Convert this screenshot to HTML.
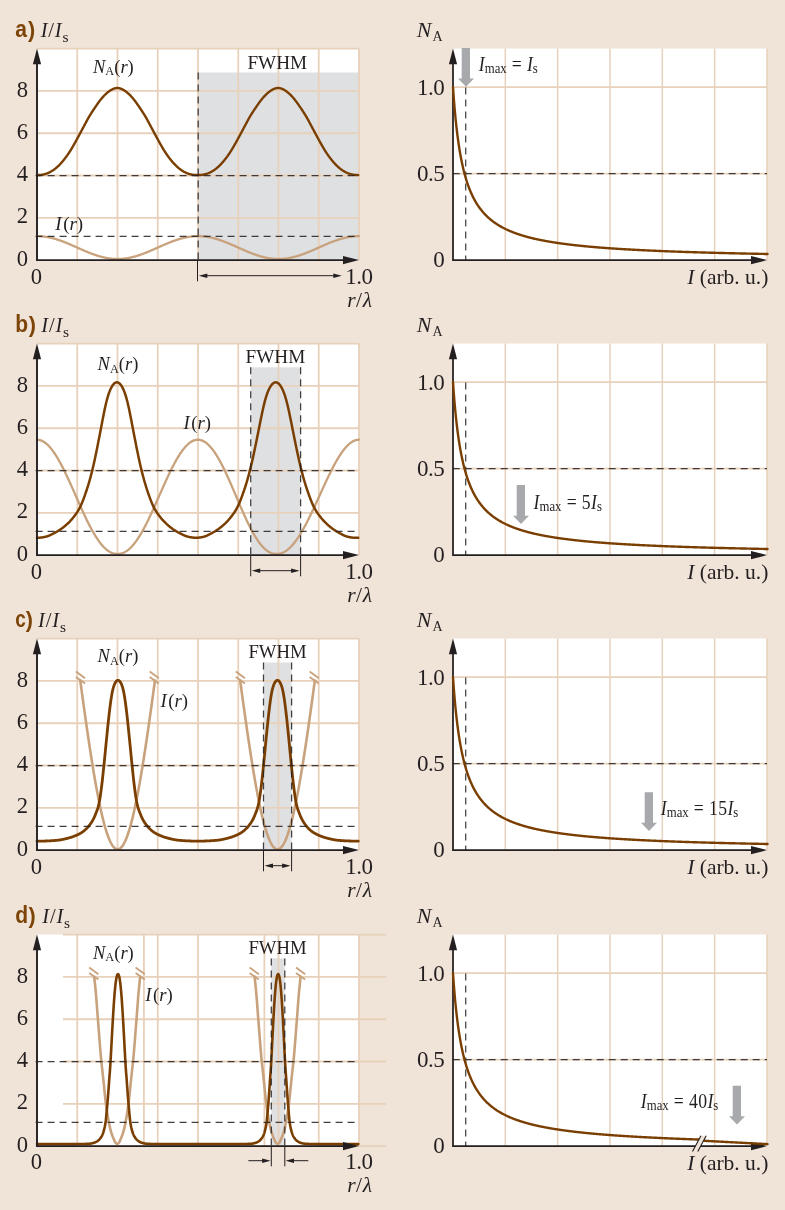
<!DOCTYPE html>
<html lang="en"><head><meta charset="utf-8"><title>Figure</title>
<style>html,body{margin:0;padding:0;background:#f0e3d7}svg{display:block}</style></head>
<body>
<svg width="785" height="1210" viewBox="0 0 785 1210" font-family="'Liberation Serif', serif" fill="#231f20">
<rect width="785" height="1210" fill="#f0e3d7"/>
<g>
<rect x="37" y="48.55" width="322" height="211.55" fill="#fff"/>
<rect x="198.2" y="72.5" width="160.8" height="187.6" fill="#dfe0e2"/>
<path d="M77.25 48.55V260.1M117.5 48.55V260.1M157.75 48.55V260.1M198 48.55V260.1M238.25 48.55V260.1M278.5 48.55V260.1M318.75 48.55V260.1M359 48.55V260.1M37 217.81H359M37 175.52H359M37 133.23H359M37 90.94H359M37 48.55H359" stroke="#e8d1ba" stroke-width="1.8" fill="none"/>
<path d="M37 236.16 L37.5 236.17 L38 236.17 L38.5 236.18 L39 236.2 L39.5 236.22 L40 236.24 L40.5 236.27 L41 236.3 L41.5 236.34 L42 236.38 L42.5 236.43 L43 236.47 L43.5 236.53 L44 236.59 L44.5 236.65 L45 236.72 L45.5 236.79 L46 236.86 L46.5 236.94 L47 237.02 L47.5 237.11 L48 237.2 L48.5 237.29 L49 237.39 L49.5 237.5 L50 237.6 L50.5 237.71 L51 237.83 L51.5 237.94 L52 238.06 L52.5 238.19 L53 238.32 L53.5 238.45 L54 238.59 L54.5 238.72 L55 238.87 L55.5 239.01 L56 239.16 L56.5 239.31 L57 239.47 L57.5 239.63 L58 239.79 L58.5 239.95 L59 240.12 L59.5 240.29 L60 240.46 L60.5 240.64 L61 240.82 L61.5 241 L62 241.18 L62.5 241.37 L63 241.55 L63.5 241.74 L64 241.94 L64.5 242.13 L65 242.33 L65.5 242.53 L66 242.73 L66.5 242.93 L67 243.14 L67.5 243.34 L68 243.55 L68.5 243.76 L69 243.97 L69.5 244.18 L70 244.39 L70.5 244.61 L71 244.82 L71.5 245.04 L72 245.26 L72.5 245.48 L73 245.7 L73.5 245.92 L74 246.14 L74.5 246.36 L75 246.58 L75.5 246.8 L76 247.02 L76.5 247.25 L77 247.47 L77.5 247.69 L78 247.92 L78.5 248.14 L79 248.36 L79.5 248.58 L80 248.8 L80.5 249.03 L81 249.25 L81.5 249.47 L82 249.69 L82.5 249.9 L83 250.12 L83.5 250.34 L84 250.55 L84.5 250.77 L85 250.98 L85.5 251.19 L86 251.41 L86.5 251.61 L87 251.82 L87.5 252.03 L88 252.23 L88.5 252.44 L89 252.64 L89.5 252.83 L90 253.03 L90.5 253.23 L91 253.42 L91.5 253.61 L92 253.8 L92.5 253.98 L93 254.17 L93.5 254.35 L94 254.53 L94.5 254.7 L95 254.87 L95.5 255.04 L96 255.21 L96.5 255.38 L97 255.54 L97.5 255.69 L98 255.85 L98.5 256 L99 256.15 L99.5 256.3 L100 256.44 L100.5 256.58 L101 256.71 L101.5 256.85 L102 256.97 L102.5 257.1 L103 257.22 L103.5 257.34 L104 257.45 L104.5 257.56 L105 257.67 L105.5 257.77 L106 257.87 L106.5 257.96 L107 258.05 L107.5 258.14 L108 258.22 L108.5 258.3 L109 258.38 L109.5 258.45 L110 258.51 L110.5 258.58 L111 258.63 L111.5 258.69 L112 258.74 L112.5 258.78 L113 258.82 L113.5 258.86 L114 258.89 L114.5 258.92 L115 258.95 L115.5 258.97 L116 258.98 L116.5 258.99 L117 259 L117.5 259 L118 259 L118.5 258.99 L119 258.98 L119.5 258.97 L120 258.95 L120.5 258.92 L121 258.89 L121.5 258.86 L122 258.82 L122.5 258.78 L123 258.74 L123.5 258.69 L124 258.63 L124.5 258.58 L125 258.51 L125.5 258.45 L126 258.38 L126.5 258.3 L127 258.22 L127.5 258.14 L128 258.05 L128.5 257.96 L129 257.87 L129.5 257.77 L130 257.67 L130.5 257.56 L131 257.45 L131.5 257.34 L132 257.22 L132.5 257.1 L133 256.97 L133.5 256.85 L134 256.71 L134.5 256.58 L135 256.44 L135.5 256.3 L136 256.15 L136.5 256 L137 255.85 L137.5 255.69 L138 255.54 L138.5 255.38 L139 255.21 L139.5 255.04 L140 254.87 L140.5 254.7 L141 254.53 L141.5 254.35 L142 254.17 L142.5 253.98 L143 253.8 L143.5 253.61 L144 253.42 L144.5 253.23 L145 253.03 L145.5 252.83 L146 252.64 L146.5 252.44 L147 252.23 L147.5 252.03 L148 251.82 L148.5 251.61 L149 251.41 L149.5 251.19 L150 250.98 L150.5 250.77 L151 250.55 L151.5 250.34 L152 250.12 L152.5 249.9 L153 249.69 L153.5 249.47 L154 249.25 L154.5 249.03 L155 248.8 L155.5 248.58 L156 248.36 L156.5 248.14 L157 247.92 L157.5 247.69 L158 247.47 L158.5 247.25 L159 247.02 L159.5 246.8 L160 246.58 L160.5 246.36 L161 246.14 L161.5 245.92 L162 245.7 L162.5 245.48 L163 245.26 L163.5 245.04 L164 244.82 L164.5 244.61 L165 244.39 L165.5 244.18 L166 243.97 L166.5 243.76 L167 243.55 L167.5 243.34 L168 243.14 L168.5 242.93 L169 242.73 L169.5 242.53 L170 242.33 L170.5 242.13 L171 241.94 L171.5 241.74 L172 241.55 L172.5 241.37 L173 241.18 L173.5 241 L174 240.82 L174.5 240.64 L175 240.46 L175.5 240.29 L176 240.12 L176.5 239.95 L177 239.79 L177.5 239.63 L178 239.47 L178.5 239.31 L179 239.16 L179.5 239.01 L180 238.87 L180.5 238.72 L181 238.59 L181.5 238.45 L182 238.32 L182.5 238.19 L183 238.06 L183.5 237.94 L184 237.83 L184.5 237.71 L185 237.6 L185.5 237.5 L186 237.39 L186.5 237.29 L187 237.2 L187.5 237.11 L188 237.02 L188.5 236.94 L189 236.86 L189.5 236.79 L190 236.72 L190.5 236.65 L191 236.59 L191.5 236.53 L192 236.47 L192.5 236.43 L193 236.38 L193.5 236.34 L194 236.3 L194.5 236.27 L195 236.24 L195.5 236.22 L196 236.2 L196.5 236.18 L197 236.17 L197.5 236.17 L198 236.16 L198.5 236.17 L199 236.17 L199.5 236.18 L200 236.2 L200.5 236.22 L201 236.24 L201.5 236.27 L202 236.3 L202.5 236.34 L203 236.38 L203.5 236.43 L204 236.47 L204.5 236.53 L205 236.59 L205.5 236.65 L206 236.72 L206.5 236.79 L207 236.86 L207.5 236.94 L208 237.02 L208.5 237.11 L209 237.2 L209.5 237.29 L210 237.39 L210.5 237.5 L211 237.6 L211.5 237.71 L212 237.83 L212.5 237.94 L213 238.06 L213.5 238.19 L214 238.32 L214.5 238.45 L215 238.59 L215.5 238.72 L216 238.87 L216.5 239.01 L217 239.16 L217.5 239.31 L218 239.47 L218.5 239.63 L219 239.79 L219.5 239.95 L220 240.12 L220.5 240.29 L221 240.46 L221.5 240.64 L222 240.82 L222.5 241 L223 241.18 L223.5 241.37 L224 241.55 L224.5 241.74 L225 241.94 L225.5 242.13 L226 242.33 L226.5 242.53 L227 242.73 L227.5 242.93 L228 243.14 L228.5 243.34 L229 243.55 L229.5 243.76 L230 243.97 L230.5 244.18 L231 244.39 L231.5 244.61 L232 244.82 L232.5 245.04 L233 245.26 L233.5 245.48 L234 245.7 L234.5 245.92 L235 246.14 L235.5 246.36 L236 246.58 L236.5 246.8 L237 247.02 L237.5 247.25 L238 247.47 L238.5 247.69 L239 247.92 L239.5 248.14 L240 248.36 L240.5 248.58 L241 248.8 L241.5 249.03 L242 249.25 L242.5 249.47 L243 249.69 L243.5 249.9 L244 250.12 L244.5 250.34 L245 250.55 L245.5 250.77 L246 250.98 L246.5 251.19 L247 251.41 L247.5 251.61 L248 251.82 L248.5 252.03 L249 252.23 L249.5 252.44 L250 252.64 L250.5 252.83 L251 253.03 L251.5 253.23 L252 253.42 L252.5 253.61 L253 253.8 L253.5 253.98 L254 254.17 L254.5 254.35 L255 254.53 L255.5 254.7 L256 254.87 L256.5 255.04 L257 255.21 L257.5 255.38 L258 255.54 L258.5 255.69 L259 255.85 L259.5 256 L260 256.15 L260.5 256.3 L261 256.44 L261.5 256.58 L262 256.71 L262.5 256.85 L263 256.97 L263.5 257.1 L264 257.22 L264.5 257.34 L265 257.45 L265.5 257.56 L266 257.67 L266.5 257.77 L267 257.87 L267.5 257.96 L268 258.05 L268.5 258.14 L269 258.22 L269.5 258.3 L270 258.38 L270.5 258.45 L271 258.51 L271.5 258.58 L272 258.63 L272.5 258.69 L273 258.74 L273.5 258.78 L274 258.82 L274.5 258.86 L275 258.89 L275.5 258.92 L276 258.95 L276.5 258.97 L277 258.98 L277.5 258.99 L278 259 L278.5 259 L279 259 L279.5 258.99 L280 258.98 L280.5 258.97 L281 258.95 L281.5 258.92 L282 258.89 L282.5 258.86 L283 258.82 L283.5 258.78 L284 258.74 L284.5 258.69 L285 258.63 L285.5 258.58 L286 258.51 L286.5 258.45 L287 258.38 L287.5 258.3 L288 258.22 L288.5 258.14 L289 258.05 L289.5 257.96 L290 257.87 L290.5 257.77 L291 257.67 L291.5 257.56 L292 257.45 L292.5 257.34 L293 257.22 L293.5 257.1 L294 256.97 L294.5 256.85 L295 256.71 L295.5 256.58 L296 256.44 L296.5 256.3 L297 256.15 L297.5 256 L298 255.85 L298.5 255.69 L299 255.54 L299.5 255.38 L300 255.21 L300.5 255.04 L301 254.87 L301.5 254.7 L302 254.53 L302.5 254.35 L303 254.17 L303.5 253.98 L304 253.8 L304.5 253.61 L305 253.42 L305.5 253.23 L306 253.03 L306.5 252.83 L307 252.64 L307.5 252.44 L308 252.23 L308.5 252.03 L309 251.82 L309.5 251.61 L310 251.41 L310.5 251.19 L311 250.98 L311.5 250.77 L312 250.55 L312.5 250.34 L313 250.12 L313.5 249.9 L314 249.69 L314.5 249.47 L315 249.25 L315.5 249.03 L316 248.8 L316.5 248.58 L317 248.36 L317.5 248.14 L318 247.92 L318.5 247.69 L319 247.47 L319.5 247.25 L320 247.02 L320.5 246.8 L321 246.58 L321.5 246.36 L322 246.14 L322.5 245.92 L323 245.7 L323.5 245.48 L324 245.26 L324.5 245.04 L325 244.82 L325.5 244.61 L326 244.39 L326.5 244.18 L327 243.97 L327.5 243.76 L328 243.55 L328.5 243.34 L329 243.14 L329.5 242.93 L330 242.73 L330.5 242.53 L331 242.33 L331.5 242.13 L332 241.94 L332.5 241.74 L333 241.55 L333.5 241.37 L334 241.18 L334.5 241 L335 240.82 L335.5 240.64 L336 240.46 L336.5 240.29 L337 240.12 L337.5 239.95 L338 239.79 L338.5 239.63 L339 239.47 L339.5 239.31 L340 239.16 L340.5 239.01 L341 238.87 L341.5 238.72 L342 238.59 L342.5 238.45 L343 238.32 L343.5 238.19 L344 238.06 L344.5 237.94 L345 237.83 L345.5 237.71 L346 237.6 L346.5 237.5 L347 237.39 L347.5 237.29 L348 237.2 L348.5 237.11 L349 237.02 L349.5 236.94 L350 236.86 L350.5 236.79 L351 236.72 L351.5 236.65 L352 236.59 L352.5 236.53 L353 236.47 L353.5 236.43 L354 236.38 L354.5 236.34 L355 236.3 L355.5 236.27 L356 236.24 L356.5 236.22 L357 236.2 L357.5 236.18 L358 236.17 L358.5 236.17 L359 236.16" stroke="#c8a27c" stroke-width="2.3" fill="none" stroke-linecap="round"/>
<path d="M37 175.08 L37.25 175.08 L37.5 175.07 L37.75 175.07 L38 175.06 L38.25 175.05 L38.5 175.04 L38.75 175.03 L39 175.02 L39.25 175.01 L39.5 174.99 L39.75 174.97 L40 174.95 L40.25 174.93 L40.5 174.91 L40.75 174.88 L41 174.85 L41.25 174.82 L41.5 174.79 L41.75 174.76 L42 174.72 L42.25 174.68 L42.5 174.64 L42.75 174.6 L43 174.55 L43.25 174.5 L43.5 174.45 L43.75 174.39 L44 174.34 L44.25 174.28 L44.5 174.21 L44.75 174.15 L45 174.08 L45.25 174.01 L45.5 173.93 L45.75 173.86 L46 173.78 L46.25 173.69 L46.5 173.6 L46.75 173.51 L47 173.42 L47.25 173.32 L47.5 173.22 L47.75 173.12 L48 173.01 L48.25 172.9 L48.5 172.79 L48.75 172.68 L49 172.56 L49.25 172.44 L49.5 172.32 L49.75 172.19 L50 172.06 L50.25 171.93 L50.5 171.8 L50.75 171.66 L51 171.52 L51.25 171.38 L51.5 171.23 L51.75 171.08 L52 170.93 L52.25 170.77 L52.5 170.62 L52.75 170.45 L53 170.29 L53.25 170.12 L53.5 169.95 L53.75 169.77 L54 169.59 L54.25 169.41 L54.5 169.23 L54.75 169.04 L55 168.84 L55.25 168.65 L55.5 168.45 L55.75 168.25 L56 168.04 L56.25 167.83 L56.5 167.61 L56.75 167.4 L57 167.17 L57.25 166.95 L57.5 166.72 L57.75 166.49 L58 166.26 L58.25 166.02 L58.5 165.78 L58.75 165.54 L59 165.29 L59.25 165.04 L59.5 164.79 L59.75 164.53 L60 164.27 L60.25 164.01 L60.5 163.74 L60.75 163.47 L61 163.2 L61.25 162.92 L61.5 162.64 L61.75 162.36 L62 162.08 L62.25 161.79 L62.5 161.5 L62.75 161.2 L63 160.9 L63.25 160.6 L63.5 160.3 L63.75 159.99 L64 159.68 L64.25 159.36 L64.5 159.05 L64.75 158.73 L65 158.4 L65.25 158.08 L65.5 157.75 L65.75 157.41 L66 157.08 L66.25 156.74 L66.5 156.4 L66.75 156.05 L67 155.7 L67.25 155.35 L67.5 155 L67.75 154.64 L68 154.28 L68.25 153.91 L68.5 153.54 L68.75 153.16 L69 152.78 L69.25 152.4 L69.5 152.01 L69.75 151.62 L70 151.23 L70.25 150.83 L70.5 150.43 L70.75 150.02 L71 149.61 L71.25 149.2 L71.5 148.78 L71.75 148.37 L72 147.94 L72.25 147.52 L72.5 147.09 L72.75 146.66 L73 146.23 L73.25 145.8 L73.5 145.36 L73.75 144.92 L74 144.48 L74.25 144.04 L74.5 143.59 L74.75 143.15 L75 142.7 L75.25 142.25 L75.5 141.8 L75.75 141.34 L76 140.89 L76.25 140.44 L76.5 139.98 L76.75 139.53 L77 139.07 L77.25 138.61 L77.5 138.15 L77.75 137.7 L78 137.24 L78.25 136.78 L78.5 136.32 L78.75 135.86 L79 135.4 L79.25 134.94 L79.5 134.48 L79.75 134.01 L80 133.55 L80.25 133.08 L80.5 132.62 L80.75 132.15 L81 131.68 L81.25 131.21 L81.5 130.75 L81.75 130.28 L82 129.81 L82.25 129.34 L82.5 128.86 L82.75 128.39 L83 127.92 L83.25 127.45 L83.5 126.98 L83.75 126.51 L84 126.04 L84.25 125.57 L84.5 125.1 L84.75 124.63 L85 124.16 L85.25 123.69 L85.5 123.22 L85.75 122.75 L86 122.29 L86.25 121.82 L86.5 121.36 L86.75 120.89 L87 120.43 L87.25 119.97 L87.5 119.51 L87.75 119.06 L88 118.61 L88.25 118.17 L88.5 117.73 L88.75 117.3 L89 116.87 L89.25 116.44 L89.5 116.02 L89.75 115.61 L90 115.2 L90.25 114.79 L90.5 114.38 L90.75 113.98 L91 113.58 L91.25 113.19 L91.5 112.8 L91.75 112.41 L92 112.02 L92.25 111.64 L92.5 111.25 L92.75 110.87 L93 110.5 L93.25 110.12 L93.5 109.75 L93.75 109.38 L94 109 L94.25 108.64 L94.5 108.27 L94.75 107.9 L95 107.53 L95.25 107.17 L95.5 106.8 L95.75 106.44 L96 106.07 L96.25 105.71 L96.5 105.34 L96.75 104.98 L97 104.61 L97.25 104.25 L97.5 103.89 L97.75 103.53 L98 103.17 L98.25 102.82 L98.5 102.48 L98.75 102.13 L99 101.79 L99.25 101.45 L99.5 101.12 L99.75 100.79 L100 100.47 L100.25 100.14 L100.5 99.82 L100.75 99.51 L101 99.2 L101.25 98.89 L101.5 98.59 L101.75 98.29 L102 97.99 L102.25 97.7 L102.5 97.41 L102.75 97.13 L103 96.85 L103.25 96.58 L103.5 96.31 L103.75 96.04 L104 95.78 L104.25 95.52 L104.5 95.26 L104.75 95.01 L105 94.76 L105.25 94.52 L105.5 94.29 L105.75 94.05 L106 93.82 L106.25 93.6 L106.5 93.38 L106.75 93.16 L107 92.95 L107.25 92.74 L107.5 92.53 L107.75 92.33 L108 92.13 L108.25 91.93 L108.5 91.74 L108.75 91.55 L109 91.37 L109.25 91.19 L109.5 91.01 L109.75 90.84 L110 90.67 L110.25 90.5 L110.5 90.34 L110.75 90.18 L111 90.03 L111.25 89.89 L111.5 89.74 L111.75 89.61 L112 89.47 L112.25 89.35 L112.5 89.22 L112.75 89.11 L113 89 L113.25 88.89 L113.5 88.79 L113.75 88.69 L114 88.61 L114.25 88.52 L114.5 88.45 L114.75 88.37 L115 88.31 L115.25 88.25 L115.5 88.2 L115.75 88.15 L116 88.11 L116.25 88.08 L116.5 88.06 L116.75 88.04 L117 88.02 L117.25 88.02 L117.5 88.02 L117.75 88.03 L118 88.05 L118.25 88.07 L118.5 88.1 L118.75 88.14 L119 88.18 L119.25 88.23 L119.5 88.29 L119.75 88.35 L120 88.42 L120.25 88.49 L120.5 88.57 L120.75 88.66 L121 88.75 L121.25 88.85 L121.5 88.95 L121.75 89.06 L122 89.18 L122.25 89.3 L122.5 89.42 L122.75 89.55 L123 89.69 L123.25 89.83 L123.5 89.97 L123.75 90.12 L124 90.28 L124.25 90.44 L124.5 90.6 L124.75 90.77 L125 90.94 L125.25 91.11 L125.5 91.29 L125.75 91.48 L126 91.67 L126.25 91.86 L126.5 92.05 L126.75 92.25 L127 92.45 L127.25 92.66 L127.5 92.86 L127.75 93.08 L128 93.29 L128.25 93.51 L128.5 93.73 L128.75 93.96 L129 94.19 L129.25 94.43 L129.5 94.67 L129.75 94.91 L130 95.16 L130.25 95.41 L130.5 95.67 L130.75 95.93 L131 96.2 L131.25 96.47 L131.5 96.74 L131.75 97.02 L132 97.3 L132.25 97.59 L132.5 97.88 L132.75 98.17 L133 98.47 L133.25 98.77 L133.5 99.08 L133.75 99.39 L134 99.7 L134.25 100.02 L134.5 100.34 L134.75 100.66 L135 100.99 L135.25 101.32 L135.5 101.66 L135.75 102 L136 102.34 L136.25 102.68 L136.5 103.03 L136.75 103.39 L137 103.74 L137.25 104.1 L137.5 104.47 L137.75 104.83 L138 105.2 L138.25 105.56 L138.5 105.93 L138.75 106.29 L139 106.66 L139.25 107.02 L139.5 107.39 L139.75 107.75 L140 108.12 L140.25 108.49 L140.5 108.86 L140.75 109.23 L141 109.6 L141.25 109.97 L141.5 110.35 L141.75 110.72 L142 111.1 L142.25 111.48 L142.5 111.87 L142.75 112.25 L143 112.64 L143.25 113.03 L143.5 113.42 L143.75 113.82 L144 114.22 L144.25 114.63 L144.5 115.03 L144.75 115.44 L145 115.86 L145.25 116.28 L145.5 116.7 L145.75 117.13 L146 117.56 L146.25 117.99 L146.5 118.43 L146.75 118.88 L147 119.33 L147.25 119.78 L147.5 120.24 L147.75 120.71 L148 121.17 L148.25 121.64 L148.5 122.1 L148.75 122.57 L149 123.03 L149.25 123.5 L149.5 123.97 L149.75 124.44 L150 124.91 L150.25 125.38 L150.5 125.85 L150.75 126.32 L151 126.79 L151.25 127.26 L151.5 127.73 L151.75 128.21 L152 128.68 L152.25 129.15 L152.5 129.62 L152.75 130.09 L153 130.56 L153.25 131.03 L153.5 131.5 L153.75 131.96 L154 132.43 L154.25 132.9 L154.5 133.36 L154.75 133.83 L155 134.29 L155.25 134.76 L155.5 135.22 L155.75 135.68 L156 136.14 L156.25 136.6 L156.5 137.06 L156.75 137.51 L157 137.97 L157.25 138.43 L157.5 138.89 L157.75 139.34 L158 139.8 L158.25 140.25 L158.5 140.71 L158.75 141.16 L159 141.62 L159.25 142.07 L159.5 142.52 L159.75 142.97 L160 143.41 L160.25 143.86 L160.5 144.3 L160.75 144.75 L161 145.19 L161.25 145.62 L161.5 146.06 L161.75 146.49 L162 146.92 L162.25 147.35 L162.5 147.78 L162.75 148.2 L163 148.62 L163.25 149.03 L163.5 149.45 L163.75 149.86 L164 150.27 L164.25 150.67 L164.5 151.07 L164.75 151.47 L165 151.86 L165.25 152.25 L165.5 152.63 L165.75 153.01 L166 153.39 L166.25 153.76 L166.5 154.13 L166.75 154.49 L167 154.85 L167.25 155.21 L167.5 155.56 L167.75 155.91 L168 156.26 L168.25 156.6 L168.5 156.94 L168.75 157.28 L169 157.61 L169.25 157.94 L169.5 158.27 L169.75 158.6 L170 158.92 L170.25 159.24 L170.5 159.55 L170.75 159.87 L171 160.17 L171.25 160.48 L171.5 160.78 L171.75 161.08 L172 161.38 L172.25 161.67 L172.5 161.96 L172.75 162.25 L173 162.53 L173.25 162.81 L173.5 163.09 L173.75 163.36 L174 163.63 L174.25 163.9 L174.5 164.17 L174.75 164.43 L175 164.68 L175.25 164.94 L175.5 165.19 L175.75 165.44 L176 165.68 L176.25 165.93 L176.5 166.16 L176.75 166.4 L177 166.63 L177.25 166.86 L177.5 167.09 L177.75 167.31 L178 167.53 L178.25 167.74 L178.5 167.95 L178.75 168.16 L179 168.37 L179.25 168.57 L179.5 168.77 L179.75 168.96 L180 169.15 L180.25 169.34 L180.5 169.52 L180.75 169.7 L181 169.88 L181.25 170.05 L181.5 170.22 L181.75 170.39 L182 170.55 L182.25 170.71 L182.5 170.87 L182.75 171.02 L183 171.17 L183.25 171.32 L183.5 171.46 L183.75 171.61 L184 171.74 L184.25 171.88 L184.5 172.01 L184.75 172.14 L185 172.27 L185.25 172.39 L185.5 172.51 L185.75 172.63 L186 172.74 L186.25 172.86 L186.5 172.97 L186.75 173.07 L187 173.18 L187.25 173.28 L187.5 173.38 L187.75 173.48 L188 173.57 L188.25 173.66 L188.5 173.74 L188.75 173.82 L189 173.9 L189.25 173.98 L189.5 174.05 L189.75 174.12 L190 174.19 L190.25 174.25 L190.5 174.31 L190.75 174.37 L191 174.43 L191.25 174.48 L191.5 174.53 L191.75 174.58 L192 174.62 L192.25 174.66 L192.5 174.7 L192.75 174.74 L193 174.78 L193.25 174.81 L193.5 174.84 L193.75 174.87 L194 174.9 L194.25 174.92 L194.5 174.94 L194.75 174.96 L195 174.98 L195.25 175 L195.5 175.02 L195.75 175.03 L196 175.04 L196.25 175.05 L196.5 175.06 L196.75 175.07 L197 175.07 L197.25 175.07 L197.5 175.08 L197.75 175.08 L198 175.08 L198.25 175.07 L198.5 175.07 L198.75 175.06 L199 175.06 L199.25 175.05 L199.5 175.04 L199.75 175.02 L200 175.01 L200.25 174.99 L200.5 174.98 L200.75 174.96 L201 174.94 L201.25 174.91 L201.5 174.89 L201.75 174.86 L202 174.83 L202.25 174.8 L202.5 174.76 L202.75 174.73 L203 174.69 L203.25 174.65 L203.5 174.6 L203.75 174.56 L204 174.51 L204.25 174.46 L204.5 174.4 L204.75 174.35 L205 174.29 L205.25 174.23 L205.5 174.16 L205.75 174.09 L206 174.02 L206.25 173.95 L206.5 173.87 L206.75 173.79 L207 173.71 L207.25 173.62 L207.5 173.53 L207.75 173.44 L208 173.34 L208.25 173.24 L208.5 173.14 L208.75 173.03 L209 172.92 L209.25 172.81 L209.5 172.7 L209.75 172.58 L210 172.46 L210.25 172.34 L210.5 172.22 L210.75 172.09 L211 171.96 L211.25 171.83 L211.5 171.69 L211.75 171.55 L212 171.41 L212.25 171.26 L212.5 171.11 L212.75 170.96 L213 170.81 L213.25 170.65 L213.5 170.49 L213.75 170.32 L214 170.15 L214.25 169.98 L214.5 169.81 L214.75 169.63 L215 169.45 L215.25 169.26 L215.5 169.08 L215.75 168.88 L216 168.69 L216.25 168.49 L216.5 168.29 L216.75 168.08 L217 167.87 L217.25 167.66 L217.5 167.44 L217.75 167.22 L218 167 L218.25 166.77 L218.5 166.54 L218.75 166.31 L219 166.07 L219.25 165.83 L219.5 165.59 L219.75 165.34 L220 165.09 L220.25 164.84 L220.5 164.58 L220.75 164.32 L221 164.06 L221.25 163.8 L221.5 163.53 L221.75 163.25 L222 162.98 L222.25 162.7 L222.5 162.42 L222.75 162.13 L223 161.85 L223.25 161.56 L223.5 161.26 L223.75 160.96 L224 160.66 L224.25 160.36 L224.5 160.05 L224.75 159.74 L225 159.43 L225.25 159.11 L225.5 158.79 L225.75 158.47 L226 158.14 L226.25 157.81 L226.5 157.48 L226.75 157.14 L227 156.81 L227.25 156.46 L227.5 156.12 L227.75 155.77 L228 155.42 L228.25 155.07 L228.5 154.71 L228.75 154.35 L229 153.98 L229.25 153.61 L229.5 153.24 L229.75 152.86 L230 152.48 L230.25 152.09 L230.5 151.7 L230.75 151.31 L231 150.91 L231.25 150.51 L231.5 150.1 L231.75 149.69 L232 149.28 L232.25 148.87 L232.5 148.45 L232.75 148.03 L233 147.61 L233.25 147.18 L233.5 146.75 L233.75 146.32 L234 145.88 L234.25 145.45 L234.5 145.01 L234.75 144.57 L235 144.13 L235.25 143.68 L235.5 143.24 L235.75 142.79 L236 142.34 L236.25 141.89 L236.5 141.43 L236.75 140.98 L237 140.53 L237.25 140.07 L237.5 139.62 L237.75 139.16 L238 138.7 L238.25 138.25 L238.5 137.79 L238.75 137.33 L239 136.87 L239.25 136.41 L239.5 135.96 L239.75 135.49 L240 135.03 L240.25 134.57 L240.5 134.11 L240.75 133.64 L241 133.18 L241.25 132.71 L241.5 132.24 L241.75 131.78 L242 131.31 L242.25 130.84 L242.5 130.37 L242.75 129.9 L243 129.43 L243.25 128.96 L243.5 128.49 L243.75 128.02 L244 127.55 L244.25 127.07 L244.5 126.6 L244.75 126.13 L245 125.66 L245.25 125.19 L245.5 124.72 L245.75 124.25 L246 123.78 L246.25 123.32 L246.5 122.85 L246.75 122.38 L247 121.91 L247.25 121.45 L247.5 120.99 L247.75 120.52 L248 120.06 L248.25 119.6 L248.5 119.15 L248.75 118.7 L249 118.26 L249.25 117.82 L249.5 117.38 L249.75 116.95 L250 116.53 L250.25 116.11 L250.5 115.69 L250.75 115.28 L251 114.87 L251.25 114.46 L251.5 114.06 L251.75 113.66 L252 113.27 L252.25 112.87 L252.5 112.48 L252.75 112.1 L253 111.71 L253.25 111.33 L253.5 110.95 L253.75 110.57 L254 110.2 L254.25 109.82 L254.5 109.45 L254.75 109.08 L255 108.71 L255.25 108.34 L255.5 107.97 L255.75 107.61 L256 107.24 L256.25 106.88 L256.5 106.51 L256.75 106.15 L257 105.78 L257.25 105.42 L257.5 105.05 L257.75 104.68 L258 104.32 L258.25 103.96 L258.5 103.6 L258.75 103.25 L259 102.89 L259.25 102.55 L259.5 102.2 L259.75 101.86 L260 101.52 L260.25 101.19 L260.5 100.86 L260.75 100.53 L261 100.21 L261.25 99.89 L261.5 99.57 L261.75 99.26 L262 98.95 L262.25 98.65 L262.5 98.35 L262.75 98.05 L263 97.76 L263.25 97.47 L263.5 97.19 L263.75 96.91 L264 96.63 L264.25 96.36 L264.5 96.09 L264.75 95.83 L265 95.57 L265.25 95.31 L265.5 95.06 L265.75 94.81 L266 94.57 L266.25 94.33 L266.5 94.1 L266.75 93.87 L267 93.64 L267.25 93.42 L267.5 93.2 L267.75 92.99 L268 92.78 L268.25 92.57 L268.5 92.37 L268.75 92.17 L269 91.97 L269.25 91.78 L269.5 91.59 L269.75 91.4 L270 91.22 L270.25 91.04 L270.5 90.87 L270.75 90.7 L271 90.53 L271.25 90.37 L271.5 90.21 L271.75 90.06 L272 89.91 L272.25 89.77 L272.5 89.63 L272.75 89.5 L273 89.37 L273.25 89.25 L273.5 89.13 L273.75 89.02 L274 88.91 L274.25 88.81 L274.5 88.71 L274.75 88.62 L275 88.54 L275.25 88.46 L275.5 88.39 L275.75 88.32 L276 88.26 L276.25 88.21 L276.5 88.16 L276.75 88.12 L277 88.09 L277.25 88.06 L277.5 88.04 L277.75 88.03 L278 88.02 L278.25 88.02 L278.5 88.03 L278.75 88.04 L279 88.07 L279.25 88.09 L279.5 88.13 L279.75 88.17 L280 88.22 L280.25 88.27 L280.5 88.33 L280.75 88.4 L281 88.48 L281.25 88.55 L281.5 88.64 L281.75 88.73 L282 88.83 L282.25 88.93 L282.5 89.04 L282.75 89.15 L283 89.27 L283.25 89.4 L283.5 89.53 L283.75 89.66 L284 89.8 L284.25 89.94 L284.5 90.09 L284.75 90.25 L285 90.4 L285.25 90.57 L285.5 90.73 L285.75 90.9 L286 91.08 L286.25 91.26 L286.5 91.44 L286.75 91.63 L287 91.82 L287.25 92.01 L287.5 92.21 L287.75 92.41 L288 92.62 L288.25 92.82 L288.5 93.03 L288.75 93.25 L289 93.46 L289.25 93.69 L289.5 93.91 L289.75 94.14 L290 94.38 L290.25 94.62 L290.5 94.86 L290.75 95.11 L291 95.36 L291.25 95.62 L291.5 95.88 L291.75 96.14 L292 96.41 L292.25 96.69 L292.5 96.96 L292.75 97.24 L293 97.53 L293.25 97.82 L293.5 98.11 L293.75 98.41 L294 98.71 L294.25 99.01 L294.5 99.32 L294.75 99.64 L295 99.95 L295.25 100.27 L295.5 100.6 L295.75 100.92 L296 101.25 L296.25 101.59 L296.5 101.93 L296.75 102.27 L297 102.61 L297.25 102.96 L297.5 103.32 L297.75 103.67 L298 104.03 L298.25 104.39 L298.5 104.76 L298.75 105.12 L299 105.49 L299.25 105.85 L299.5 106.22 L299.75 106.58 L300 106.95 L300.25 107.31 L300.5 107.68 L300.75 108.05 L301 108.41 L301.25 108.78 L301.5 109.15 L301.75 109.52 L302 109.9 L302.25 110.27 L302.5 110.65 L302.75 111.03 L303 111.41 L303.25 111.79 L303.5 112.17 L303.75 112.56 L304 112.95 L304.25 113.35 L304.5 113.74 L304.75 114.14 L305 114.54 L305.25 114.95 L305.5 115.36 L305.75 115.77 L306 116.19 L306.25 116.61 L306.5 117.04 L306.75 117.47 L307 117.91 L307.25 118.35 L307.5 118.79 L307.75 119.24 L308 119.69 L308.25 120.15 L308.5 120.61 L308.75 121.08 L309 121.54 L309.25 122.01 L309.5 122.47 L309.75 122.94 L310 123.41 L310.25 123.88 L310.5 124.35 L310.75 124.82 L311 125.29 L311.25 125.76 L311.5 126.23 L311.75 126.7 L312 127.17 L312.25 127.64 L312.5 128.11 L312.75 128.58 L313 129.05 L313.25 129.52 L313.5 129.99 L313.75 130.46 L314 130.93 L314.25 131.4 L314.5 131.87 L314.75 132.34 L315 132.8 L315.25 133.27 L315.5 133.74 L315.75 134.2 L316 134.66 L316.25 135.13 L316.5 135.59 L316.75 136.05 L317 136.51 L317.25 136.96 L317.5 137.42 L317.75 137.88 L318 138.34 L318.25 138.79 L318.5 139.25 L318.75 139.71 L319 140.16 L319.25 140.62 L319.5 141.07 L319.75 141.53 L320 141.98 L320.25 142.43 L320.5 142.88 L320.75 143.32 L321 143.77 L321.25 144.21 L321.5 144.66 L321.75 145.1 L322 145.54 L322.25 145.97 L322.5 146.4 L322.75 146.84 L323 147.26 L323.25 147.69 L323.5 148.11 L323.75 148.53 L324 148.95 L324.25 149.37 L324.5 149.78 L324.75 150.18 L325 150.59 L325.25 150.99 L325.5 151.39 L325.75 151.78 L326 152.17 L326.25 152.56 L326.5 152.94 L326.75 153.31 L327 153.69 L327.25 154.06 L327.5 154.42 L327.75 154.78 L328 155.14 L328.25 155.49 L328.5 155.84 L328.75 156.19 L329 156.53 L329.25 156.87 L329.5 157.21 L329.75 157.55 L330 157.88 L330.25 158.21 L330.5 158.53 L330.75 158.85 L331 159.17 L331.25 159.49 L331.5 159.8 L331.75 160.11 L332 160.42 L332.25 160.72 L332.5 161.02 L332.75 161.32 L333 161.61 L333.25 161.9 L333.5 162.19 L333.75 162.48 L334 162.76 L334.25 163.03 L334.5 163.31 L334.75 163.58 L335 163.85 L335.25 164.11 L335.5 164.38 L335.75 164.63 L336 164.89 L336.25 165.14 L336.5 165.39 L336.75 165.63 L337 165.88 L337.25 166.12 L337.5 166.35 L337.75 166.58 L338 166.81 L338.25 167.04 L338.5 167.26 L338.75 167.48 L339 167.7 L339.25 167.91 L339.5 168.12 L339.75 168.33 L340 168.53 L340.25 168.73 L340.5 168.92 L340.75 169.11 L341 169.3 L341.25 169.49 L341.5 169.67 L341.75 169.84 L342 170.02 L342.25 170.19 L342.5 170.36 L342.75 170.52 L343 170.68 L343.25 170.84 L343.5 170.99 L343.75 171.14 L344 171.29 L344.25 171.44 L344.5 171.58 L344.75 171.72 L345 171.85 L345.25 171.99 L345.5 172.12 L345.75 172.24 L346 172.37 L346.25 172.49 L346.5 172.61 L346.75 172.72 L347 172.84 L347.25 172.95 L347.5 173.05 L347.75 173.16 L348 173.26 L348.25 173.36 L348.5 173.46 L348.75 173.55 L349 173.64 L349.25 173.73 L349.5 173.81 L349.75 173.89 L350 173.96 L350.25 174.04 L350.5 174.11 L350.75 174.18 L351 174.24 L351.25 174.3 L351.5 174.36 L351.75 174.42 L352 174.47 L352.25 174.52 L352.5 174.57 L352.75 174.61 L353 174.66 L353.25 174.7 L353.5 174.73 L353.75 174.77 L354 174.8 L354.25 174.84 L354.5 174.86 L354.75 174.89 L355 174.92 L355.25 174.94 L355.5 174.96 L355.75 174.98 L356 175 L356.25 175.01 L356.5 175.03 L356.75 175.04 L357 175.05 L357.25 175.06 L357.5 175.06 L357.75 175.07 L358 175.07 L358.25 175.08" stroke="#7a3f00" stroke-width="2.4" fill="none" stroke-linecap="round" stroke-linejoin="round"/>
<path d="M35.6 175.52H359M35.6 236.3H359M198.2 72.5V260.1" stroke="#231f20" stroke-width="1.25" fill="none" stroke-dasharray="7 5" stroke-opacity="0.85"/>
<path d="M37 60.55V260.1H349" stroke="#231f20" stroke-width="1.9" fill="none"/>
<path d="M37 48.55l-4.1 15.8h8.2z"/>
<path d="M359 260.1l-16 -4.2v8.4z"/>
<path d="M197.5 260.1V281.3 M203 275.7H337" stroke="#231f20" stroke-width="1" fill="none"/>
<path d="M198.8 275.7l8.5 -2.3v4.6z"/>
<path d="M341.8 275.7l-8.5 -2.3v4.6z"/>
<text transform="translate(15.2 37.15) scale(0.98 1.1)" font-family="'Liberation Sans', sans-serif" font-weight="bold" font-size="21.5" fill="#7d4408">a</text>
<text x="28.1" y="37.15" font-family="'Liberation Sans', sans-serif" font-weight="bold" font-size="21.5" fill="#7d4408">)</text>
<text x="40.7" y="37.45" font-size="20.5" text-anchor="start" ><tspan letter-spacing="0.8"><tspan font-style="italic">I</tspan>/<tspan font-style="italic">I</tspan></tspan><tspan font-size="15.5" dy="4.3">s</tspan><tspan dy="-4.3">&#8203;</tspan></text>
<text x="28" y="265.7" font-size="22.6" text-anchor="end" >0</text>
<text x="28" y="223.41" font-size="22.6" text-anchor="end" >2</text>
<text x="28" y="181.12" font-size="22.6" text-anchor="end" >4</text>
<text x="28" y="138.83" font-size="22.6" text-anchor="end" >6</text>
<text x="28" y="96.54" font-size="22.6" text-anchor="end" >8</text>
<text x="36.3" y="283.7" font-size="22.6" text-anchor="middle" >0</text>
<text x="372.6" y="283.8" font-size="23" text-anchor="end" letter-spacing="-0.5">1.0</text>
<text x="372.6" y="306.7" font-size="21.5" text-anchor="end" letter-spacing="0.6"><tspan font-style="italic">r</tspan>/<tspan font-style="italic">λ</tspan></text>
<text x="93" y="72.9" font-size="18.5" text-anchor="start" ><tspan font-style="italic">N</tspan><tspan font-size="12.3" dy="2.5">A</tspan><tspan dy="-2.5">&#8203;</tspan>(<tspan font-style="italic">r</tspan>)</text>
<text x="55.2" y="229.9" font-size="19" text-anchor="start" ><tspan font-style="italic">I</tspan><tspan dx="1.6">(</tspan><tspan font-style="italic">r</tspan>)</text>
<text x="277.3" y="68.7" font-size="19.2" text-anchor="middle" >FWHM</text>
</g>
<g>
<rect x="453" y="48.55" width="314" height="211.55" fill="#fff"/>
<path d="M505.33 48.55V260.1M557.67 48.55V260.1M610 48.55V260.1M662.33 48.55V260.1M714.67 48.55V260.1M767 48.55V260.1" stroke="#e8d1ba" stroke-width="1.5" fill="none"/>
<path d="M453 87.1H767M453 173.7H767" stroke="#e8d1ba" stroke-width="1.8" fill="none"/>
<path d="M461.7 48.05H470V78.6H474L466 86.8L458 78.6H461.7z" fill="#a7a9ac"/>
<path d="M452.7 173.7H767M465.7 87.4V260.1" stroke="#231f20" stroke-width="1.25" fill="none" stroke-dasharray="7 5" stroke-opacity="0.85"/>
<path d="M453 60.55V260.1H757" stroke="#231f20" stroke-width="1.75" fill="none"/>
<path d="M453 48.55l-4.1 15.8h8.2z"/>
<path d="M767 260.1l-16 -4.2v8.4z"/>
<path d="M453 87.1 L453.5 94.31 L454 100.94 L454.5 107.06 L455 112.73 L455.5 117.99 L456 122.89 L456.5 127.47 L457 131.75 L457.5 135.76 L458 139.52 L458.5 143.07 L459 146.41 L459.5 149.57 L460 152.56 L460.5 155.39 L461 158.07 L461.5 160.62 L462 163.05 L462.5 165.36 L463 167.57 L463.5 169.67 L464 171.68 L464.5 173.6 L465 175.44 L465.5 177.2 L466 178.9 L466.5 180.52 L467 182.08 L467.5 183.58 L468 185.02 L468.5 186.41 L469 187.75 L469.5 189.05 L470 190.29 L470.5 191.5 L471 192.66 L471.5 193.78 L472 194.87 L472.5 195.92 L473 196.94 L473.5 197.93 L474 198.88 L474.5 199.81 L475 200.71 L475.5 201.59 L476 202.43 L476.5 203.26 L477 204.06 L477.5 204.84 L478 205.59 L478.5 206.33 L479 207.05 L479.5 207.74 L480 208.42 L480.5 209.09 L481 209.73 L481.5 210.36 L482 210.98 L482.5 211.58 L483 212.16 L483.5 212.73 L484 213.29 L484.5 213.83 L485 214.36 L485.5 214.88 L486 215.39 L486.5 215.89 L487 216.37 L487.5 216.85 L488 217.32 L488.5 217.77 L489 218.22 L489.5 218.65 L490 219.08 L490.5 219.5 L491 219.91 L491.5 220.31 L492 220.7 L492.5 221.09 L493 221.47 L493.5 221.84 L494 222.2 L494.5 222.56 L495 222.91 L495.5 223.26 L496 223.6 L496.5 223.93 L497 224.25 L497.5 224.57 L498 224.89 L498.5 225.2 L499 225.5 L499.5 225.8 L500 226.09 L500.5 226.38 L501 226.66 L501.5 226.94 L502 227.22 L502.5 227.49 L503 227.75 L503.5 228.01 L504 228.27 L504.5 228.52 L505 228.77 L505.5 229.01 L506 229.26 L506.5 229.49 L507 229.73 L507.5 229.96 L508 230.18 L508.5 230.41 L509 230.63 L509.5 230.84 L510 231.06 L510.5 231.27 L511 231.47 L511.5 231.68 L512 231.88 L512.5 232.08 L513 232.27 L513.5 232.47 L514 232.66 L514.5 232.85 L515 233.03 L515.5 233.21 L516 233.4 L516.5 233.57 L517 233.75 L517.5 233.92 L518 234.09 L518.5 234.26 L519 234.43 L519.5 234.59 L520 234.76 L520.5 234.92 L521 235.07 L521.5 235.23 L522 235.39 L522.5 235.54 L523 235.69 L523.5 235.84 L524 235.98 L524.5 236.13 L525 236.27 L525.5 236.42 L526 236.56 L526.5 236.69 L527 236.83 L527.5 236.97 L528 237.1 L528.5 237.23 L529 237.36 L529.5 237.49 L530 237.62 L530.5 237.75 L531 237.87 L531.5 237.99 L532 238.12 L532.5 238.24 L533 238.36 L533.5 238.48 L534 238.59 L534.5 238.71 L535 238.82 L535.5 238.94 L536 239.05 L536.5 239.16 L537 239.27 L537.5 239.38 L538 239.48 L538.5 239.59 L539 239.69 L539.5 239.8 L540 239.9 L540.5 240 L541 240.11 L541.5 240.21 L542 240.3 L542.5 240.4 L543 240.5 L543.5 240.6 L544 240.69 L544.5 240.78 L545 240.88 L545.5 240.97 L546 241.06 L546.5 241.15 L547 241.24 L547.5 241.33 L548 241.42 L548.5 241.51 L549 241.59 L549.5 241.68 L550 241.76 L550.5 241.85 L551 241.93 L551.5 242.01 L552 242.1 L552.5 242.18 L553 242.26 L553.5 242.34 L554 242.42 L554.5 242.49 L555 242.57 L555.5 242.65 L556 242.72 L556.5 242.8 L557 242.87 L557.5 242.95 L558 243.02 L558.5 243.1 L559 243.17 L559.5 243.24 L560 243.31 L560.5 243.38 L561 243.45 L561.5 243.52 L562 243.59 L562.5 243.66 L563 243.73 L563.5 243.79 L564 243.86 L564.5 243.93 L565 243.99 L565.5 244.06 L566 244.12 L566.5 244.18 L567 244.25 L567.5 244.31 L568 244.37 L568.5 244.43 L569 244.5 L569.5 244.56 L570 244.62 L570.5 244.68 L571 244.74 L571.5 244.8 L572 244.85 L572.5 244.91 L573 244.97 L573.5 245.03 L574 245.08 L574.5 245.14 L575 245.2 L575.5 245.25 L576 245.31 L576.5 245.36 L577 245.42 L577.5 245.47 L578 245.52 L578.5 245.58 L579 245.63 L579.5 245.68 L580 245.74 L580.5 245.79 L581 245.84 L581.5 245.89 L582 245.94 L582.5 245.99 L583 246.04 L583.5 246.09 L584 246.14 L584.5 246.19 L585 246.24 L585.5 246.28 L586 246.33 L586.5 246.38 L587 246.43 L587.5 246.47 L588 246.52 L588.5 246.57 L589 246.61 L589.5 246.66 L590 246.7 L590.5 246.75 L591 246.79 L591.5 246.84 L592 246.88 L592.5 246.92 L593 246.97 L593.5 247.01 L594 247.05 L594.5 247.1 L595 247.14 L595.5 247.18 L596 247.22 L596.5 247.26 L597 247.31 L597.5 247.35 L598 247.39 L598.5 247.43 L599 247.47 L599.5 247.51 L600 247.55 L600.5 247.59 L601 247.63 L601.5 247.67 L602 247.7 L602.5 247.74 L603 247.78 L603.5 247.82 L604 247.86 L604.5 247.89 L605 247.93 L605.5 247.97 L606 248.01 L606.5 248.04 L607 248.08 L607.5 248.12 L608 248.15 L608.5 248.19 L609 248.22 L609.5 248.26 L610 248.29 L610.5 248.33 L611 248.36 L611.5 248.4 L612 248.43 L612.5 248.47 L613 248.5 L613.5 248.53 L614 248.57 L614.5 248.6 L615 248.63 L615.5 248.67 L616 248.7 L616.5 248.73 L617 248.76 L617.5 248.8 L618 248.83 L618.5 248.86 L619 248.89 L619.5 248.92 L620 248.95 L620.5 248.99 L621 249.02 L621.5 249.05 L622 249.08 L622.5 249.11 L623 249.14 L623.5 249.17 L624 249.2 L624.5 249.23 L625 249.26 L625.5 249.29 L626 249.32 L626.5 249.35 L627 249.37 L627.5 249.4 L628 249.43 L628.5 249.46 L629 249.49 L629.5 249.52 L630 249.55 L630.5 249.57 L631 249.6 L631.5 249.63 L632 249.66 L632.5 249.68 L633 249.71 L633.5 249.74 L634 249.76 L634.5 249.79 L635 249.82 L635.5 249.84 L636 249.87 L636.5 249.9 L637 249.92 L637.5 249.95 L638 249.98 L638.5 250 L639 250.03 L639.5 250.05 L640 250.08 L640.5 250.1 L641 250.13 L641.5 250.15 L642 250.18 L642.5 250.2 L643 250.23 L643.5 250.25 L644 250.28 L644.5 250.3 L645 250.32 L645.5 250.35 L646 250.37 L646.5 250.4 L647 250.42 L647.5 250.44 L648 250.47 L648.5 250.49 L649 250.51 L649.5 250.54 L650 250.56 L650.5 250.58 L651 250.6 L651.5 250.63 L652 250.65 L652.5 250.67 L653 250.69 L653.5 250.72 L654 250.74 L654.5 250.76 L655 250.78 L655.5 250.8 L656 250.82 L656.5 250.85 L657 250.87 L657.5 250.89 L658 250.91 L658.5 250.93 L659 250.95 L659.5 250.97 L660 250.99 L660.5 251.02 L661 251.04 L661.5 251.06 L662 251.08 L662.5 251.1 L663 251.12 L663.5 251.14 L664 251.16 L664.5 251.18 L665 251.2 L665.5 251.22 L666 251.24 L666.5 251.26 L667 251.28 L667.5 251.3 L668 251.32 L668.5 251.34 L669 251.35 L669.5 251.37 L670 251.39 L670.5 251.41 L671 251.43 L671.5 251.45 L672 251.47 L672.5 251.49 L673 251.51 L673.5 251.52 L674 251.54 L674.5 251.56 L675 251.58 L675.5 251.6 L676 251.62 L676.5 251.63 L677 251.65 L677.5 251.67 L678 251.69 L678.5 251.71 L679 251.72 L679.5 251.74 L680 251.76 L680.5 251.78 L681 251.79 L681.5 251.81 L682 251.83 L682.5 251.84 L683 251.86 L683.5 251.88 L684 251.9 L684.5 251.91 L685 251.93 L685.5 251.95 L686 251.96 L686.5 251.98 L687 252 L687.5 252.01 L688 252.03 L688.5 252.05 L689 252.06 L689.5 252.08 L690 252.09 L690.5 252.11 L691 252.13 L691.5 252.14 L692 252.16 L692.5 252.17 L693 252.19 L693.5 252.21 L694 252.22 L694.5 252.24 L695 252.25 L695.5 252.27 L696 252.28 L696.5 252.3 L697 252.31 L697.5 252.33 L698 252.34 L698.5 252.36 L699 252.37 L699.5 252.39 L700 252.4 L700.5 252.42 L701 252.43 L701.5 252.45 L702 252.46 L702.5 252.48 L703 252.49 L703.5 252.51 L704 252.52 L704.5 252.54 L705 252.55 L705.5 252.56 L706 252.58 L706.5 252.59 L707 252.61 L707.5 252.62 L708 252.63 L708.5 252.65 L709 252.66 L709.5 252.68 L710 252.69 L710.5 252.7 L711 252.72 L711.5 252.73 L712 252.75 L712.5 252.76 L713 252.77 L713.5 252.79 L714 252.8 L714.5 252.81 L715 252.83 L715.5 252.84 L716 252.85 L716.5 252.87 L717 252.88 L717.5 252.89 L718 252.9 L718.5 252.92 L719 252.93 L719.5 252.94 L720 252.96 L720.5 252.97 L721 252.98 L721.5 252.99 L722 253.01 L722.5 253.02 L723 253.03 L723.5 253.05 L724 253.06 L724.5 253.07 L725 253.08 L725.5 253.09 L726 253.11 L726.5 253.12 L727 253.13 L727.5 253.14 L728 253.16 L728.5 253.17 L729 253.18 L729.5 253.19 L730 253.2 L730.5 253.22 L731 253.23 L731.5 253.24 L732 253.25 L732.5 253.26 L733 253.27 L733.5 253.29 L734 253.3 L734.5 253.31 L735 253.32 L735.5 253.33 L736 253.34 L736.5 253.36 L737 253.37 L737.5 253.38 L738 253.39 L738.5 253.4 L739 253.41 L739.5 253.42 L740 253.44 L740.5 253.45 L741 253.46 L741.5 253.47 L742 253.48 L742.5 253.49 L743 253.5 L743.5 253.51 L744 253.52 L744.5 253.53 L745 253.54 L745.5 253.56 L746 253.57 L746.5 253.58 L747 253.59 L747.5 253.6 L748 253.61 L748.5 253.62 L749 253.63 L749.5 253.64 L750 253.65 L750.5 253.66 L751 253.67 L751.5 253.68 L752 253.69 L752.5 253.7 L753 253.71 L753.5 253.72 L754 253.73 L754.5 253.74 L755 253.75 L755.5 253.76 L756 253.77 L756.5 253.78 L757 253.79 L757.5 253.8 L758 253.81 L758.5 253.82 L759 253.83 L759.5 253.84 L760 253.85 L760.5 253.86 L761 253.87 L761.5 253.88 L762 253.89 L762.5 253.9 L763 253.91 L763.5 253.92 L764 253.93 L764.5 253.94 L765 253.95 L765.5 253.96 L766 253.97 L766.5 253.98 L767 253.99 L767.5 254" stroke="#7a3f00" stroke-width="2.4" fill="none" stroke-linecap="round"/>
<text x="416.8" y="37.35" font-size="20" text-anchor="start" ><tspan font-style="italic" font-size="22">N</tspan><tspan dx="1.1" font-size="14" dy="3.4">A</tspan></text>
<text x="444.3" y="94.5" font-size="23" text-anchor="end" letter-spacing="-0.5">1.0</text>
<text x="444.3" y="181.1" font-size="23" text-anchor="end" letter-spacing="-0.5">0.5</text>
<text x="444.3" y="266.7" font-size="23" text-anchor="end" letter-spacing="-0.5">0</text>
<text x="768.4" y="284.1" font-size="21.5" text-anchor="end" ><tspan font-style="italic">I</tspan> (arb. u.)</text>
<text transform="translate(478.8 71.3) scale(1 1.2)" font-size="17.7" word-spacing="0.7"><tspan font-style="italic">I</tspan><tspan font-size="12.8" dy="1.7">max</tspan><tspan dy="-1.7">&#8203;</tspan> = <tspan font-style="italic">I</tspan><tspan font-size="12.8" dy="1.7">s</tspan><tspan dy="-1.7">&#8203;</tspan></text>
</g>
<g>
<rect x="37" y="343.55" width="322" height="211.55" fill="#fff"/>
<rect x="250.7" y="367.3" width="49.9" height="187.8" fill="#dfe0e2"/>
<path d="M77.25 343.55V555.1M117.5 343.55V555.1M157.75 343.55V555.1M198 343.55V555.1M238.25 343.55V555.1M278.5 343.55V555.1M318.75 343.55V555.1M359 343.55V555.1M37 512.81H359M37 470.52H359M37 428.23H359M37 385.94H359M37 343.55H359" stroke="#e8d1ba" stroke-width="1.8" fill="none"/>
<path d="M37 439.72 L37.5 439.73 L38 439.76 L38.5 439.82 L39 439.9 L39.5 440 L40 440.13 L40.5 440.28 L41 440.45 L41.5 440.65 L42 440.87 L42.5 441.11 L43 441.37 L43.5 441.65 L44 441.96 L44.5 442.29 L45 442.64 L45.5 443.01 L46 443.41 L46.5 443.82 L47 444.26 L47.5 444.72 L48 445.2 L48.5 445.7 L49 446.22 L49.5 446.76 L50 447.32 L50.5 447.91 L51 448.51 L51.5 449.13 L52 449.77 L52.5 450.43 L53 451.1 L53.5 451.8 L54 452.51 L54.5 453.24 L55 453.99 L55.5 454.76 L56 455.54 L56.5 456.34 L57 457.15 L57.5 457.99 L58 458.83 L58.5 459.69 L59 460.57 L59.5 461.46 L60 462.37 L60.5 463.28 L61 464.22 L61.5 465.16 L62 466.12 L62.5 467.09 L63 468.07 L63.5 469.06 L64 470.06 L64.5 471.08 L65 472.1 L65.5 473.14 L66 474.18 L66.5 475.23 L67 476.29 L67.5 477.36 L68 478.43 L68.5 479.52 L69 480.61 L69.5 481.7 L70 482.8 L70.5 483.91 L71 485.02 L71.5 486.14 L72 487.26 L72.5 488.38 L73 489.5 L73.5 490.63 L74 491.76 L74.5 492.9 L75 494.03 L75.5 495.16 L76 496.3 L76.5 497.43 L77 498.57 L77.5 499.7 L78 500.83 L78.5 501.96 L79 503.09 L79.5 504.21 L80 505.33 L80.5 506.45 L81 507.56 L81.5 508.67 L82 509.77 L82.5 510.87 L83 511.96 L83.5 513.04 L84 514.12 L84.5 515.19 L85 516.25 L85.5 517.31 L86 518.35 L86.5 519.39 L87 520.42 L87.5 521.44 L88 522.44 L88.5 523.44 L89 524.43 L89.5 525.4 L90 526.37 L90.5 527.32 L91 528.26 L91.5 529.18 L92 530.1 L92.5 531 L93 531.88 L93.5 532.75 L94 533.61 L94.5 534.45 L95 535.28 L95.5 536.09 L96 536.89 L96.5 537.67 L97 538.44 L97.5 539.18 L98 539.92 L98.5 540.63 L99 541.33 L99.5 542.01 L100 542.67 L100.5 543.31 L101 543.94 L101.5 544.55 L102 545.14 L102.5 545.71 L103 546.26 L103.5 546.8 L104 547.31 L104.5 547.81 L105 548.28 L105.5 548.74 L106 549.18 L106.5 549.6 L107 550 L107.5 550.37 L108 550.73 L108.5 551.07 L109 551.39 L109.5 551.69 L110 551.97 L110.5 552.23 L111 552.47 L111.5 552.7 L112 552.9 L112.5 553.08 L113 553.24 L113.5 553.39 L114 553.51 L114.5 553.62 L115 553.71 L115.5 553.78 L116 553.84 L116.5 553.87 L117 553.89 L117.5 553.9 L118 553.89 L118.5 553.87 L119 553.84 L119.5 553.78 L120 553.71 L120.5 553.62 L121 553.51 L121.5 553.39 L122 553.24 L122.5 553.08 L123 552.9 L123.5 552.7 L124 552.47 L124.5 552.23 L125 551.97 L125.5 551.69 L126 551.39 L126.5 551.07 L127 550.73 L127.5 550.37 L128 550 L128.5 549.6 L129 549.18 L129.5 548.74 L130 548.28 L130.5 547.81 L131 547.31 L131.5 546.8 L132 546.26 L132.5 545.71 L133 545.14 L133.5 544.55 L134 543.94 L134.5 543.31 L135 542.67 L135.5 542.01 L136 541.33 L136.5 540.63 L137 539.92 L137.5 539.18 L138 538.44 L138.5 537.67 L139 536.89 L139.5 536.09 L140 535.28 L140.5 534.45 L141 533.61 L141.5 532.75 L142 531.88 L142.5 531 L143 530.1 L143.5 529.18 L144 528.26 L144.5 527.32 L145 526.37 L145.5 525.4 L146 524.43 L146.5 523.44 L147 522.44 L147.5 521.44 L148 520.42 L148.5 519.39 L149 518.35 L149.5 517.31 L150 516.25 L150.5 515.19 L151 514.12 L151.5 513.04 L152 511.96 L152.5 510.87 L153 509.77 L153.5 508.67 L154 507.56 L154.5 506.45 L155 505.33 L155.5 504.21 L156 503.09 L156.5 501.96 L157 500.83 L157.5 499.7 L158 498.57 L158.5 497.43 L159 496.3 L159.5 495.16 L160 494.03 L160.5 492.9 L161 491.76 L161.5 490.63 L162 489.5 L162.5 488.38 L163 487.26 L163.5 486.14 L164 485.02 L164.5 483.91 L165 482.8 L165.5 481.7 L166 480.61 L166.5 479.52 L167 478.43 L167.49 477.36 L167.99 476.29 L168.49 475.23 L168.99 474.18 L169.49 473.14 L169.99 472.1 L170.49 471.08 L170.99 470.06 L171.49 469.06 L171.99 468.07 L172.49 467.09 L172.99 466.12 L173.49 465.16 L173.99 464.22 L174.49 463.28 L174.99 462.37 L175.49 461.46 L175.99 460.57 L176.49 459.69 L176.99 458.83 L177.49 457.99 L177.98 457.15 L178.48 456.34 L178.98 455.54 L179.48 454.76 L179.98 453.99 L180.48 453.24 L180.98 452.51 L181.48 451.8 L181.98 451.1 L182.48 450.43 L182.98 449.77 L183.47 449.13 L183.97 448.51 L184.47 447.91 L184.97 447.32 L185.47 446.76 L185.97 446.22 L186.47 445.7 L186.97 445.2 L187.46 444.72 L187.96 444.26 L188.46 443.82 L188.96 443.41 L189.46 443.01 L189.95 442.64 L190.45 442.29 L190.95 441.96 L191.45 441.65 L191.95 441.37 L192.44 441.11 L192.94 440.87 L193.44 440.65 L193.94 440.45 L194.43 440.28 L194.93 440.13 L195.43 440 L195.93 439.9 L196.42 439.82 L196.92 439.76 L197.42 439.73 L197.91 439.72 L198.41 439.73 L198.91 439.76 L199.4 439.82 L199.9 439.9 L200.39 440 L200.89 440.13 L201.39 440.28 L201.88 440.45 L202.38 440.65 L202.87 440.87 L203.37 441.11 L203.86 441.37 L204.36 441.65 L204.85 441.96 L205.35 442.29 L205.84 442.64 L206.34 443.01 L206.83 443.41 L207.33 443.82 L207.82 444.26 L208.31 444.72 L208.81 445.2 L209.3 445.7 L209.79 446.22 L210.29 446.76 L210.78 447.32 L211.27 447.91 L211.76 448.51 L212.26 449.13 L212.75 449.77 L213.24 450.43 L213.73 451.1 L214.22 451.8 L214.72 452.51 L215.21 453.24 L215.7 453.99 L216.19 454.76 L216.68 455.54 L217.17 456.34 L217.66 457.15 L218.15 457.99 L218.64 458.83 L219.13 459.69 L219.62 460.57 L220.11 461.46 L220.6 462.37 L221.08 463.28 L221.57 464.22 L222.06 465.16 L222.55 466.12 L223.04 467.09 L223.53 468.07 L224.01 469.06 L224.5 470.06 L224.99 471.08 L225.47 472.1 L225.96 473.14 L226.45 474.18 L226.93 475.23 L227.42 476.29 L227.91 477.36 L228.39 478.43 L228.88 479.52 L229.36 480.61 L229.85 481.7 L230.33 482.8 L230.82 483.91 L231.3 485.02 L231.79 486.14 L232.27 487.26 L232.75 488.38 L233.24 489.5 L233.72 490.63 L234.2 491.76 L234.69 492.9 L235.17 494.03 L235.65 495.16 L236.14 496.3 L236.62 497.43 L237.1 498.57 L237.59 499.7 L238.07 500.83 L238.55 501.96 L239.03 503.09 L239.52 504.21 L240 505.33 L240.48 506.45 L240.96 507.56 L241.44 508.67 L241.93 509.77 L242.41 510.87 L242.89 511.96 L243.37 513.04 L243.85 514.12 L244.34 515.19 L244.82 516.25 L245.3 517.31 L245.78 518.35 L246.26 519.39 L246.75 520.42 L247.23 521.44 L247.71 522.44 L248.19 523.44 L248.67 524.43 L249.16 525.4 L249.64 526.37 L250.12 527.32 L250.6 528.26 L251.09 529.18 L251.57 530.1 L252.05 531 L252.54 531.88 L253.02 532.75 L253.5 533.61 L253.99 534.45 L254.47 535.28 L254.96 536.09 L255.44 536.89 L255.93 537.67 L256.41 538.44 L256.9 539.18 L257.38 539.92 L257.87 540.63 L258.35 541.33 L258.84 542.01 L259.33 542.67 L259.81 543.31 L260.3 543.94 L260.79 544.55 L261.28 545.14 L261.76 545.71 L262.25 546.26 L262.74 546.8 L263.23 547.31 L263.72 547.81 L264.21 548.28 L264.7 548.74 L265.19 549.18 L265.68 549.6 L266.17 550 L266.67 550.37 L267.16 550.73 L267.65 551.07 L268.15 551.39 L268.64 551.69 L269.13 551.97 L269.63 552.23 L270.12 552.47 L270.62 552.7 L271.11 552.9 L271.61 553.08 L272.11 553.24 L272.61 553.39 L273.1 553.51 L273.6 553.62 L274.1 553.71 L274.6 553.78 L275.1 553.84 L275.6 553.87 L276.1 553.89 L276.6 553.9 L277.1 553.89 L277.61 553.87 L278.11 553.84 L278.61 553.78 L279.11 553.71 L279.62 553.62 L280.12 553.51 L280.63 553.39 L281.13 553.24 L281.64 553.08 L282.15 552.9 L282.65 552.7 L283.16 552.47 L283.67 552.23 L284.17 551.97 L284.68 551.69 L285.19 551.39 L285.7 551.07 L286.21 550.73 L286.72 550.37 L287.23 550 L287.74 549.6 L288.25 549.18 L288.76 548.74 L289.28 548.28 L289.79 547.81 L290.3 547.31 L290.81 546.8 L291.33 546.26 L291.84 545.71 L292.35 545.14 L292.87 544.55 L293.38 543.94 L293.9 543.31 L294.41 542.67 L294.93 542.01 L295.44 541.33 L295.96 540.63 L296.47 539.92 L296.99 539.18 L297.5 538.44 L298.02 537.67 L298.54 536.89 L299.05 536.09 L299.57 535.28 L300.09 534.45 L300.6 533.61 L301.12 532.75 L301.64 531.88 L302.16 531 L302.67 530.1 L303.19 529.18 L303.71 528.26 L304.23 527.32 L304.75 526.37 L305.26 525.4 L305.78 524.43 L306.3 523.44 L306.82 522.44 L307.34 521.44 L307.85 520.42 L308.37 519.39 L308.89 518.35 L309.41 517.31 L309.93 516.25 L310.44 515.19 L310.96 514.12 L311.48 513.04 L312 511.96 L312.52 510.87 L313.03 509.77 L313.55 508.67 L314.07 507.56 L314.59 506.45 L315.1 505.33 L315.62 504.21 L316.14 503.09 L316.65 501.96 L317.17 500.83 L317.69 499.7 L318.2 498.57 L318.72 497.43 L319.24 496.3 L319.75 495.16 L320.27 494.03 L320.79 492.9 L321.3 491.76 L321.82 490.63 L322.33 489.5 L322.85 488.38 L323.36 487.26 L323.88 486.14 L324.39 485.02 L324.91 483.91 L325.42 482.8 L325.93 481.7 L326.45 480.61 L326.96 479.52 L327.47 478.43 L327.99 477.36 L328.5 476.29 L329.01 475.23 L329.53 474.18 L330.04 473.14 L330.55 472.1 L331.06 471.08 L331.57 470.06 L332.08 469.06 L332.6 468.07 L333.11 467.09 L333.62 466.12 L334.13 465.16 L334.64 464.22 L335.15 463.28 L335.66 462.37 L336.17 461.46 L336.68 460.57 L337.19 459.69 L337.7 458.83 L338.21 457.99 L338.72 457.15 L339.22 456.34 L339.73 455.54 L340.24 454.76 L340.75 453.99 L341.26 453.24 L341.76 452.51 L342.27 451.8 L342.78 451.1 L343.29 450.43 L343.79 449.77 L344.3 449.13 L344.81 448.51 L345.31 447.91 L345.82 447.32 L346.33 446.76 L346.83 446.22 L347.34 445.7 L347.84 445.2 L348.35 444.72 L348.85 444.26 L349.36 443.82 L349.86 443.41 L350.37 443.01 L350.87 442.64 L351.38 442.29 L351.88 441.96 L352.39 441.65 L352.89 441.37 L353.39 441.11 L353.9 440.87 L354.4 440.65 L354.91 440.45 L355.41 440.28 L355.91 440.13 L356.42 440 L356.92 439.9 L357.42 439.82 L357.93 439.76 L358.43 439.73 L358.93 439.72" stroke="#c8a27c" stroke-width="2.3" fill="none" stroke-linecap="round"/>
<path d="M37 537.83 L37.25 537.82 L37.5 537.82 L37.75 537.81 L38 537.8 L38.25 537.79 L38.5 537.78 L38.75 537.76 L39 537.75 L39.25 537.73 L39.5 537.71 L39.75 537.69 L40 537.67 L40.25 537.64 L40.5 537.62 L40.75 537.59 L41 537.56 L41.25 537.53 L41.5 537.5 L41.75 537.47 L42 537.43 L42.25 537.39 L42.5 537.36 L42.75 537.32 L43 537.27 L43.25 537.23 L43.5 537.19 L43.75 537.14 L44 537.09 L44.25 537.04 L44.5 536.99 L44.75 536.94 L45 536.89 L45.25 536.83 L45.5 536.77 L45.75 536.71 L46 536.65 L46.25 536.59 L46.5 536.52 L46.75 536.45 L47 536.38 L47.25 536.3 L47.5 536.22 L47.75 536.13 L48 536.04 L48.25 535.95 L48.5 535.85 L48.75 535.75 L49 535.64 L49.25 535.54 L49.5 535.43 L49.75 535.32 L50 535.2 L50.25 535.09 L50.5 534.97 L50.75 534.85 L51 534.73 L51.25 534.6 L51.5 534.48 L51.75 534.35 L52 534.23 L52.25 534.1 L52.5 533.97 L52.75 533.84 L53 533.71 L53.25 533.58 L53.5 533.45 L53.75 533.31 L54 533.18 L54.25 533.05 L54.5 532.92 L54.75 532.79 L55 532.66 L55.25 532.53 L55.5 532.4 L55.75 532.27 L56 532.13 L56.25 532 L56.5 531.86 L56.75 531.72 L57 531.58 L57.25 531.43 L57.5 531.28 L57.75 531.14 L58 530.99 L58.25 530.83 L58.5 530.68 L58.75 530.52 L59 530.36 L59.25 530.2 L59.5 530.04 L59.75 529.88 L60 529.71 L60.25 529.54 L60.5 529.37 L60.75 529.2 L61 529.02 L61.25 528.85 L61.5 528.67 L61.75 528.48 L62 528.3 L62.25 528.12 L62.5 527.93 L62.75 527.74 L63 527.55 L63.25 527.35 L63.5 527.15 L63.75 526.95 L64 526.75 L64.25 526.55 L64.5 526.34 L64.75 526.14 L65 525.93 L65.25 525.72 L65.5 525.51 L65.75 525.29 L66 525.08 L66.25 524.86 L66.5 524.64 L66.75 524.42 L67 524.19 L67.25 523.96 L67.5 523.73 L67.75 523.5 L68 523.26 L68.25 523.03 L68.5 522.78 L68.75 522.54 L69 522.29 L69.25 522.04 L69.5 521.79 L69.75 521.53 L70 521.27 L70.25 521 L70.5 520.73 L70.75 520.46 L71 520.18 L71.25 519.9 L71.5 519.62 L71.75 519.33 L72 519.04 L72.25 518.74 L72.5 518.43 L72.75 518.13 L73 517.81 L73.25 517.5 L73.5 517.18 L73.75 516.87 L74 516.55 L74.25 516.23 L74.5 515.9 L74.75 515.57 L75 515.24 L75.25 514.91 L75.5 514.57 L75.75 514.22 L76 513.87 L76.25 513.52 L76.5 513.16 L76.75 512.79 L77 512.42 L77.25 512.03 L77.5 511.65 L77.75 511.25 L78 510.84 L78.25 510.43 L78.5 510.01 L78.75 509.58 L79 509.13 L79.25 508.68 L79.5 508.22 L79.75 507.74 L80 507.26 L80.25 506.76 L80.5 506.25 L80.75 505.72 L81 505.19 L81.25 504.63 L81.5 504.06 L81.75 503.48 L82 502.88 L82.25 502.27 L82.5 501.65 L82.75 501.02 L83 500.37 L83.25 499.72 L83.5 499.05 L83.75 498.38 L84 497.7 L84.25 497.01 L84.5 496.31 L84.75 495.6 L85 494.89 L85.25 494.17 L85.5 493.45 L85.75 492.72 L86 491.99 L86.25 491.25 L86.5 490.51 L86.75 489.76 L87 489 L87.25 488.23 L87.5 487.45 L87.75 486.66 L88 485.86 L88.25 485.05 L88.5 484.22 L88.75 483.38 L89 482.53 L89.25 481.67 L89.5 480.8 L89.75 479.92 L90 479.02 L90.25 478.11 L90.5 477.18 L90.75 476.25 L91 475.3 L91.25 474.34 L91.5 473.36 L91.75 472.38 L92 471.37 L92.25 470.36 L92.5 469.33 L92.75 468.29 L93 467.23 L93.25 466.16 L93.5 465.08 L93.75 463.98 L94 462.87 L94.25 461.75 L94.5 460.61 L94.75 459.47 L95 458.31 L95.25 457.14 L95.5 455.95 L95.75 454.76 L96 453.56 L96.25 452.34 L96.5 451.12 L96.75 449.89 L97 448.64 L97.25 447.39 L97.5 446.14 L97.75 444.88 L98 443.62 L98.25 442.35 L98.5 441.08 L98.75 439.8 L99 438.52 L99.25 437.24 L99.5 435.95 L99.75 434.66 L100 433.37 L100.25 432.07 L100.5 430.77 L100.75 429.46 L101 428.16 L101.25 426.85 L101.5 425.54 L101.75 424.24 L102 422.93 L102.25 421.62 L102.5 420.32 L102.75 419.03 L103 417.74 L103.25 416.46 L103.5 415.2 L103.75 413.94 L104 412.71 L104.25 411.48 L104.5 410.28 L104.75 409.09 L105 407.93 L105.25 406.79 L105.5 405.67 L105.75 404.58 L106 403.51 L106.25 402.48 L106.5 401.47 L106.75 400.49 L107 399.54 L107.25 398.62 L107.5 397.73 L107.75 396.87 L108 396.04 L108.25 395.24 L108.5 394.46 L108.75 393.72 L109 393 L109.25 392.31 L109.5 391.65 L109.75 391.01 L110 390.4 L110.25 389.81 L110.5 389.25 L110.75 388.71 L111 388.19 L111.25 387.69 L111.5 387.22 L111.75 386.77 L112 386.35 L112.25 385.94 L112.5 385.56 L112.75 385.2 L113 384.87 L113.25 384.55 L113.5 384.26 L113.75 383.99 L114 383.74 L114.25 383.51 L114.5 383.3 L114.75 383.11 L115 382.94 L115.25 382.8 L115.5 382.67 L115.75 382.56 L116 382.48 L116.25 382.41 L116.5 382.37 L116.75 382.35 L117 382.34 L117.25 382.36 L117.5 382.4 L117.75 382.46 L118 382.55 L118.25 382.65 L118.5 382.77 L118.75 382.91 L119 383.08 L119.25 383.26 L119.5 383.47 L119.75 383.69 L120 383.94 L120.25 384.2 L120.5 384.49 L120.75 384.8 L121 385.14 L121.25 385.49 L121.5 385.87 L121.75 386.26 L122 386.69 L122.25 387.13 L122.5 387.6 L122.75 388.09 L123 388.6 L123.25 389.14 L123.5 389.69 L123.75 390.28 L124 390.88 L124.25 391.52 L124.5 392.17 L124.75 392.86 L125 393.57 L125.25 394.31 L125.5 395.08 L125.75 395.88 L126 396.7 L126.25 397.56 L126.5 398.44 L126.75 399.36 L127 400.3 L127.25 401.27 L127.5 402.27 L127.75 403.3 L128 404.36 L128.25 405.45 L128.5 406.56 L128.75 407.7 L129 408.86 L129.25 410.04 L129.5 411.24 L129.75 412.46 L130 413.7 L130.25 414.95 L130.5 416.21 L130.75 417.48 L131 418.77 L131.25 420.06 L131.5 421.36 L131.75 422.67 L132 423.97 L132.25 425.28 L132.5 426.59 L132.75 427.9 L133 429.2 L133.25 430.51 L133.5 431.81 L133.75 433.11 L134 434.4 L134.25 435.69 L134.5 436.98 L134.75 438.27 L135 439.55 L135.25 440.82 L135.5 442.09 L135.75 443.36 L136 444.63 L136.25 445.89 L136.5 447.14 L136.75 448.39 L137 449.64 L137.25 450.87 L137.5 452.1 L137.75 453.32 L138 454.52 L138.25 455.72 L138.5 456.9 L138.75 458.07 L139 459.24 L139.25 460.39 L139.5 461.52 L139.75 462.65 L140 463.76 L140.25 464.86 L140.5 465.94 L140.75 467.02 L141 468.08 L141.25 469.12 L141.5 470.15 L141.75 471.17 L142 472.18 L142.25 473.17 L142.5 474.14 L142.75 475.11 L143 476.06 L143.25 477 L143.5 477.92 L143.75 478.84 L144 479.74 L144.25 480.62 L144.5 481.5 L144.75 482.36 L145 483.21 L145.25 484.05 L145.5 484.88 L145.75 485.7 L146 486.5 L146.25 487.3 L146.5 488.08 L146.75 488.85 L147 489.61 L147.25 490.36 L147.5 491.1 L147.75 491.84 L148 492.57 L148.25 493.3 L148.5 494.03 L148.75 494.75 L149 495.46 L149.25 496.17 L149.5 496.87 L149.75 497.56 L150 498.24 L150.25 498.92 L150.5 499.59 L150.75 500.24 L151 500.89 L151.25 501.53 L151.5 502.15 L151.75 502.76 L152 503.36 L152.25 503.95 L152.5 504.52 L152.75 505.08 L153 505.62 L153.25 506.15 L153.5 506.66 L153.75 507.16 L154 507.65 L154.25 508.12 L154.5 508.59 L154.75 509.04 L155 509.49 L155.25 509.92 L155.5 510.35 L155.75 510.76 L156 511.17 L156.25 511.57 L156.5 511.96 L156.75 512.34 L157 512.72 L157.25 513.08 L157.5 513.45 L157.75 513.8 L158 514.15 L158.25 514.5 L158.5 514.84 L158.75 515.18 L159 515.51 L159.25 515.84 L159.5 516.16 L159.75 516.48 L160 516.8 L160.25 517.12 L160.5 517.44 L160.75 517.75 L161 518.06 L161.25 518.37 L161.5 518.68 L161.75 518.98 L162 519.27 L162.25 519.56 L162.5 519.85 L162.75 520.13 L163 520.41 L163.25 520.68 L163.5 520.95 L163.75 521.22 L164 521.48 L164.25 521.74 L164.5 521.99 L164.75 522.24 L165 522.49 L165.25 522.74 L165.5 522.98 L165.75 523.22 L166 523.45 L166.25 523.69 L166.5 523.92 L166.75 524.15 L167 524.37 L167.25 524.59 L167.5 524.82 L167.75 525.03 L168 525.25 L168.25 525.46 L168.5 525.68 L168.75 525.89 L169 526.1 L169.25 526.3 L169.5 526.51 L169.75 526.71 L170 526.91 L170.25 527.11 L170.5 527.31 L170.75 527.51 L171 527.7 L171.25 527.89 L171.5 528.08 L171.75 528.26 L172 528.45 L172.25 528.63 L172.5 528.81 L172.75 528.99 L173 529.16 L173.25 529.34 L173.5 529.51 L173.75 529.68 L174 529.84 L174.25 530.01 L174.5 530.17 L174.75 530.33 L175 530.49 L175.25 530.65 L175.5 530.8 L175.75 530.96 L176 531.11 L176.25 531.25 L176.5 531.4 L176.75 531.55 L177 531.69 L177.25 531.83 L177.5 531.97 L177.75 532.11 L178 532.24 L178.25 532.38 L178.5 532.51 L178.75 532.64 L179 532.77 L179.25 532.9 L179.5 533.03 L179.75 533.16 L180 533.29 L180.25 533.42 L180.5 533.55 L180.75 533.68 L181 533.81 L181.25 533.94 L181.5 534.07 L181.75 534.2 L182 534.33 L182.25 534.45 L182.5 534.58 L182.75 534.7 L183 534.83 L183.25 534.95 L183.5 535.06 L183.75 535.18 L184 535.3 L184.25 535.41 L184.5 535.52 L184.75 535.62 L185 535.73 L185.25 535.83 L185.5 535.93 L185.75 536.02 L186 536.11 L186.25 536.2 L186.5 536.28 L186.75 536.36 L187 536.44 L187.25 536.51 L187.5 536.58 L187.75 536.64 L188 536.7 L188.25 536.76 L188.5 536.82 L188.75 536.87 L189 536.93 L189.25 536.98 L189.5 537.03 L189.75 537.08 L190 537.13 L190.25 537.18 L190.5 537.22 L190.75 537.27 L191 537.31 L191.25 537.35 L191.5 537.39 L191.75 537.42 L192 537.46 L192.25 537.49 L192.5 537.53 L192.75 537.56 L193 537.58 L193.25 537.61 L193.5 537.64 L193.75 537.66 L194 537.68 L194.25 537.71 L194.5 537.73 L194.75 537.74 L195 537.76 L195.25 537.77 L195.5 537.79 L195.75 537.8 L196 537.81 L196.25 537.82 L196.5 537.81 L196.75 537.8 L197 537.78 L197.25 537.77 L197.5 537.75 L197.75 537.73 L198 537.71 L198.25 537.69 L198.5 537.67 L198.75 537.64 L199 537.61 L199.25 537.58 L199.5 537.55 L199.75 537.52 L200 537.48 L200.25 537.44 L200.5 537.41 L200.75 537.36 L201 537.32 L201.25 537.28 L201.5 537.23 L201.75 537.18 L202 537.13 L202.25 537.08 L202.5 537.03 L202.75 536.97 L203 536.92 L203.25 536.86 L203.5 536.8 L203.75 536.73 L204 536.67 L204.25 536.6 L204.5 536.53 L204.75 536.46 L205 536.38 L205.25 536.29 L205.5 536.21 L205.75 536.11 L206 536.02 L206.25 535.92 L206.5 535.81 L206.75 535.7 L207 535.59 L207.25 535.48 L207.5 535.36 L207.75 535.24 L208 535.12 L208.25 535 L208.5 534.87 L208.75 534.74 L209 534.61 L209.25 534.48 L209.5 534.35 L209.75 534.22 L210 534.08 L210.25 533.95 L210.5 533.81 L210.75 533.67 L211 533.54 L211.25 533.4 L211.5 533.26 L211.75 533.13 L212 532.99 L212.25 532.85 L212.5 532.72 L212.75 532.58 L213 532.45 L213.25 532.31 L213.5 532.17 L213.75 532.03 L214 531.89 L214.25 531.74 L214.5 531.6 L214.75 531.45 L215 531.3 L215.25 531.14 L215.5 530.99 L215.75 530.83 L216 530.67 L216.25 530.51 L216.5 530.35 L216.75 530.18 L217 530.01 L217.25 529.84 L217.5 529.67 L217.75 529.5 L218 529.32 L218.25 529.14 L218.5 528.96 L218.75 528.78 L219 528.6 L219.25 528.41 L219.5 528.22 L219.75 528.03 L220 527.84 L220.25 527.65 L220.5 527.45 L220.75 527.25 L221 527.05 L221.25 526.84 L221.5 526.64 L221.75 526.43 L222 526.22 L222.25 526.01 L222.5 525.8 L222.75 525.58 L223 525.37 L223.25 525.15 L223.5 524.93 L223.75 524.71 L224 524.48 L224.25 524.26 L224.5 524.03 L224.75 523.8 L225 523.56 L225.25 523.32 L225.5 523.09 L225.75 522.84 L226 522.6 L226.25 522.35 L226.5 522.1 L226.75 521.84 L227 521.58 L227.25 521.32 L227.5 521.06 L227.75 520.79 L228 520.52 L228.25 520.24 L228.5 519.96 L228.75 519.68 L229 519.39 L229.25 519.1 L229.5 518.8 L229.75 518.5 L230 518.19 L230.25 517.88 L230.5 517.57 L230.75 517.25 L231 516.94 L231.25 516.62 L231.5 516.3 L231.75 515.98 L232 515.66 L232.25 515.33 L232.5 515 L232.75 514.66 L233 514.32 L233.25 513.97 L233.5 513.62 L233.75 513.27 L234 512.91 L234.25 512.54 L234.5 512.16 L234.75 511.78 L235 511.39 L235.25 511 L235.5 510.59 L235.75 510.18 L236 509.75 L236.25 509.32 L236.5 508.88 L236.75 508.43 L237 507.97 L237.25 507.49 L237.5 507.01 L237.75 506.51 L238 506.01 L238.25 505.49 L238.5 504.95 L238.75 504.4 L239 503.83 L239.25 503.26 L239.5 502.67 L239.75 502.07 L240 501.45 L240.25 500.83 L240.5 500.2 L240.75 499.55 L241 498.9 L241.25 498.24 L241.5 497.57 L241.75 496.89 L242 496.21 L242.25 495.52 L242.5 494.82 L242.75 494.12 L243 493.42 L243.25 492.71 L243.5 491.99 L243.75 491.28 L244 490.56 L244.25 489.83 L244.5 489.09 L244.75 488.34 L245 487.59 L245.25 486.82 L245.5 486.04 L245.75 485.25 L246 484.45 L246.25 483.64 L246.5 482.82 L246.75 481.99 L247 481.15 L247.25 480.3 L247.5 479.43 L247.75 478.56 L248 477.67 L248.25 476.77 L248.5 475.86 L248.75 474.93 L249 474 L249.25 473.05 L249.5 472.09 L249.75 471.12 L250 470.14 L250.25 469.14 L250.5 468.13 L250.75 467.11 L251 466.07 L251.25 465.03 L251.5 463.97 L251.75 462.9 L252 461.82 L252.25 460.72 L252.5 459.62 L252.75 458.5 L253 457.38 L253.25 456.24 L253.5 455.1 L253.75 453.94 L254 452.77 L254.25 451.6 L254.5 450.42 L254.75 449.22 L255 448.03 L255.25 446.82 L255.5 445.61 L255.75 444.4 L256 443.19 L256.25 441.97 L256.5 440.75 L256.75 439.52 L257 438.29 L257.25 437.06 L257.5 435.83 L257.75 434.59 L258 433.34 L258.25 432.1 L258.5 430.85 L258.75 429.61 L259 428.35 L259.25 427.1 L259.5 425.85 L259.75 424.6 L260 423.34 L260.25 422.09 L260.5 420.85 L260.75 419.6 L261 418.37 L261.25 417.14 L261.5 415.92 L261.75 414.72 L262 413.52 L262.25 412.35 L262.5 411.18 L262.75 410.03 L263 408.9 L263.25 407.79 L263.5 406.71 L263.75 405.64 L264 404.6 L264.25 403.58 L264.5 402.59 L264.75 401.62 L265 400.68 L265.25 399.77 L265.5 398.88 L265.75 398.03 L266 397.19 L266.25 396.39 L266.5 395.61 L266.75 394.86 L267 394.13 L267.25 393.43 L267.5 392.76 L267.75 392.11 L268 391.48 L268.25 390.88 L268.5 390.3 L268.75 389.74 L269 389.21 L269.25 388.7 L269.5 388.2 L269.75 387.73 L270 387.28 L270.25 386.85 L270.5 386.44 L270.75 386.05 L271 385.68 L271.25 385.33 L271.5 385 L271.75 384.69 L272 384.4 L272.25 384.13 L272.5 383.88 L272.75 383.65 L273 383.44 L273.25 383.25 L273.5 383.07 L273.75 382.92 L274 382.78 L274.25 382.66 L274.5 382.56 L274.75 382.48 L275 382.42 L275.25 382.37 L275.5 382.35 L275.75 382.34 L276 382.36 L276.25 382.39 L276.5 382.44 L276.75 382.51 L277 382.6 L277.25 382.71 L277.5 382.83 L277.75 382.98 L278 383.14 L278.25 383.32 L278.5 383.52 L278.75 383.74 L279 383.98 L279.25 384.24 L279.5 384.52 L279.75 384.81 L280 385.13 L280.25 385.47 L280.5 385.82 L280.75 386.2 L281 386.6 L281.25 387.02 L281.5 387.46 L281.75 387.92 L282 388.4 L282.25 388.9 L282.5 389.42 L282.75 389.96 L283 390.53 L283.25 391.12 L283.5 391.73 L283.75 392.36 L284 393.02 L284.25 393.71 L284.5 394.42 L284.75 395.16 L285 395.92 L285.25 396.71 L285.5 397.52 L285.75 398.37 L286 399.23 L286.25 400.13 L286.5 401.05 L286.75 402 L287 402.98 L287.25 403.98 L287.5 405.01 L287.75 406.06 L288 407.14 L288.25 408.24 L288.5 409.35 L288.75 410.49 L289 411.64 L289.25 412.82 L289.5 414 L289.75 415.2 L290 416.41 L290.25 417.63 L290.5 418.86 L290.75 420.1 L291 421.34 L291.25 422.59 L291.5 423.84 L291.75 425.1 L292 426.35 L292.25 427.6 L292.5 428.85 L292.75 430.1 L293 431.35 L293.25 432.6 L293.5 433.84 L293.75 435.08 L294 436.32 L294.25 437.55 L294.5 438.79 L294.75 440.01 L295 441.24 L295.25 442.46 L295.5 443.67 L295.75 444.89 L296 446.1 L296.25 447.3 L296.5 448.51 L296.75 449.7 L297 450.89 L297.25 452.07 L297.5 453.24 L297.75 454.4 L298 455.56 L298.25 456.7 L298.5 457.83 L298.75 458.95 L299 460.06 L299.25 461.16 L299.5 462.25 L299.75 463.33 L300 464.39 L300.25 465.45 L300.5 466.49 L300.75 467.52 L301 468.53 L301.25 469.54 L301.5 470.53 L301.75 471.51 L302 472.48 L302.25 473.43 L302.5 474.37 L302.75 475.3 L303 476.22 L303.25 477.13 L303.5 478.02 L303.75 478.91 L304 479.78 L304.25 480.64 L304.5 481.49 L304.75 482.33 L305 483.15 L305.25 483.97 L305.5 484.77 L305.75 485.57 L306 486.35 L306.25 487.13 L306.5 487.89 L306.75 488.64 L307 489.39 L307.25 490.12 L307.5 490.84 L307.75 491.56 L308 492.28 L308.25 492.99 L308.5 493.7 L308.75 494.4 L309 495.1 L309.25 495.8 L309.5 496.48 L309.75 497.17 L310 497.84 L310.25 498.51 L310.5 499.16 L310.75 499.81 L311 500.45 L311.25 501.08 L311.5 501.7 L311.75 502.31 L312 502.91 L312.25 503.49 L312.5 504.06 L312.75 504.62 L313 505.17 L313.25 505.7 L313.5 506.21 L313.75 506.71 L314 507.21 L314.25 507.68 L314.5 508.15 L314.75 508.61 L315 509.06 L315.25 509.5 L315.5 509.92 L315.75 510.34 L316 510.75 L316.25 511.16 L316.5 511.55 L316.75 511.94 L317 512.31 L317.25 512.69 L317.5 513.05 L317.75 513.41 L318 513.76 L318.25 514.11 L318.5 514.46 L318.75 514.79 L319 515.13 L319.25 515.46 L319.5 515.79 L319.75 516.11 L320 516.43 L320.25 516.75 L320.5 517.07 L320.75 517.38 L321 517.69 L321.25 518.01 L321.5 518.31 L321.75 518.62 L322 518.92 L322.25 519.21 L322.5 519.5 L322.75 519.79 L323 520.07 L323.25 520.35 L323.5 520.63 L323.75 520.9 L324 521.16 L324.25 521.43 L324.5 521.69 L324.75 521.95 L325 522.2 L325.25 522.45 L325.5 522.7 L325.75 522.94 L326 523.18 L326.25 523.42 L326.5 523.66 L326.75 523.89 L327 524.12 L327.25 524.35 L327.5 524.57 L327.75 524.8 L328 525.02 L328.25 525.24 L328.5 525.45 L328.75 525.67 L329 525.88 L329.25 526.09 L329.5 526.3 L329.75 526.51 L330 526.72 L330.25 526.93 L330.5 527.13 L330.75 527.33 L331 527.53 L331.25 527.72 L331.5 527.92 L331.75 528.11 L332 528.3 L332.25 528.49 L332.5 528.67 L332.75 528.86 L333 529.04 L333.25 529.22 L333.5 529.39 L333.75 529.57 L334 529.74 L334.25 529.91 L334.5 530.08 L334.75 530.25 L335 530.41 L335.25 530.57 L335.5 530.73 L335.75 530.89 L336 531.05 L336.25 531.2 L336.5 531.36 L336.75 531.51 L337 531.65 L337.25 531.8 L337.5 531.95 L337.75 532.09 L338 532.23 L338.25 532.37 L338.5 532.5 L338.75 532.64 L339 532.77 L339.25 532.91 L339.5 533.04 L339.75 533.18 L340 533.32 L340.25 533.45 L340.5 533.59 L340.75 533.73 L341 533.87 L341.25 534 L341.5 534.14 L341.75 534.27 L342 534.4 L342.25 534.54 L342.5 534.67 L342.75 534.8 L343 534.92 L343.25 535.05 L343.5 535.17 L343.75 535.29 L344 535.41 L344.25 535.53 L344.5 535.64 L344.75 535.75 L345 535.85 L345.25 535.96 L345.5 536.06 L345.75 536.15 L346 536.24 L346.25 536.33 L346.5 536.41 L346.75 536.49 L347 536.56 L347.25 536.63 L347.5 536.69 L347.75 536.76 L348 536.82 L348.25 536.88 L348.5 536.94 L348.75 536.99 L349 537.05 L349.25 537.1 L349.5 537.15 L349.75 537.2 L350 537.25 L350.25 537.3 L350.5 537.34 L350.75 537.38 L351 537.42 L351.25 537.46 L351.5 537.5 L351.75 537.53 L352 537.56 L352.25 537.59 L352.5 537.62 L352.75 537.65 L353 537.68 L353.25 537.7 L353.5 537.72 L353.75 537.74 L354 537.76 L354.25 537.77 L354.5 537.79 L354.75 537.8 L355 537.81 L355.25 537.82 L355.5 537.83 L355.75 537.83 L356 537.83 L356.25 537.83 L356.5 537.83 L356.75 537.83 L357 537.83 L357.25 537.83 L357.5 537.83 L357.75 537.83 L358 537.83 L358.25 537.83" stroke="#7a3f00" stroke-width="2.5" fill="none" stroke-linecap="round" stroke-linejoin="round"/>
<path d="M35.6 470.52H359M35.6 531.3H359M250.7 367.3V555.1M300.6 367.3V555.1" stroke="#231f20" stroke-width="1.25" fill="none" stroke-dasharray="7 5" stroke-opacity="0.85"/>
<path d="M37 355.55V555.1H349" stroke="#231f20" stroke-width="1.9" fill="none"/>
<path d="M37 343.55l-4.1 15.8h8.2z"/>
<path d="M359 555.1l-16 -4.2v8.4z"/>
<path d="M250.7 555.1V576.3 M300.6 555.1V576.3 M255.7 570.7H295.6" stroke="#231f20" stroke-width="1" fill="none"/>
<path d="M251.7 570.7l8.5 -2.3v4.6z"/>
<path d="M299.6 570.7l-8.5 -2.3v4.6z"/>
<text transform="translate(15.2 332.15) scale(0.98 1.1)" font-family="'Liberation Sans', sans-serif" font-weight="bold" font-size="21.5" fill="#7d4408">b</text>
<text x="28.8" y="332.15" font-family="'Liberation Sans', sans-serif" font-weight="bold" font-size="21.5" fill="#7d4408">)</text>
<text x="41.3" y="332.45" font-size="20.5" text-anchor="start" ><tspan letter-spacing="0.8"><tspan font-style="italic">I</tspan>/<tspan font-style="italic">I</tspan></tspan><tspan font-size="15.5" dy="4.3">s</tspan><tspan dy="-4.3">&#8203;</tspan></text>
<text x="28" y="560.7" font-size="22.6" text-anchor="end" >0</text>
<text x="28" y="518.41" font-size="22.6" text-anchor="end" >2</text>
<text x="28" y="476.12" font-size="22.6" text-anchor="end" >4</text>
<text x="28" y="433.83" font-size="22.6" text-anchor="end" >6</text>
<text x="28" y="391.54" font-size="22.6" text-anchor="end" >8</text>
<text x="36.3" y="578.7" font-size="22.6" text-anchor="middle" >0</text>
<text x="372.6" y="578.8" font-size="23" text-anchor="end" letter-spacing="-0.5">1.0</text>
<text x="372.6" y="601.7" font-size="21.5" text-anchor="end" letter-spacing="0.6"><tspan font-style="italic">r</tspan>/<tspan font-style="italic">λ</tspan></text>
<text x="97.6" y="370.3" font-size="18.5" text-anchor="start" ><tspan font-style="italic">N</tspan><tspan font-size="12.3" dy="2.5">A</tspan><tspan dy="-2.5">&#8203;</tspan>(<tspan font-style="italic">r</tspan>)</text>
<text x="183.4" y="429.3" font-size="18.7" text-anchor="start" ><tspan font-style="italic">I</tspan><tspan dx="1.6">(</tspan><tspan font-style="italic">r</tspan>)</text>
<text x="275.4" y="363.4" font-size="19.2" text-anchor="middle" >FWHM</text>
</g>
<g>
<rect x="453" y="343.55" width="314" height="211.55" fill="#fff"/>
<path d="M505.33 343.55V555.1M557.67 343.55V555.1M610 343.55V555.1M662.33 343.55V555.1M714.67 343.55V555.1M767 343.55V555.1" stroke="#e8d1ba" stroke-width="1.5" fill="none"/>
<path d="M453 382.1H767M453 468.7H767" stroke="#e8d1ba" stroke-width="1.8" fill="none"/>
<path d="M516.7 485.1H525V515.7H529L521 523.9L513 515.7H516.7z" fill="#a7a9ac"/>
<path d="M452.7 468.7H767M465.7 382.4V555.1" stroke="#231f20" stroke-width="1.25" fill="none" stroke-dasharray="7 5" stroke-opacity="0.85"/>
<path d="M453 355.55V555.1H757" stroke="#231f20" stroke-width="1.75" fill="none"/>
<path d="M453 343.55l-4.1 15.8h8.2z"/>
<path d="M767 555.1l-16 -4.2v8.4z"/>
<path d="M453 382.1 L453.5 389.31 L454 395.94 L454.5 402.06 L455 407.73 L455.5 412.99 L456 417.89 L456.5 422.47 L457 426.75 L457.5 430.76 L458 434.52 L458.5 438.07 L459 441.41 L459.5 444.57 L460 447.56 L460.5 450.39 L461 453.07 L461.5 455.62 L462 458.05 L462.5 460.36 L463 462.57 L463.5 464.67 L464 466.68 L464.5 468.6 L465 470.44 L465.5 472.2 L466 473.9 L466.5 475.52 L467 477.08 L467.5 478.58 L468 480.02 L468.5 481.41 L469 482.75 L469.5 484.05 L470 485.29 L470.5 486.5 L471 487.66 L471.5 488.78 L472 489.87 L472.5 490.92 L473 491.94 L473.5 492.93 L474 493.88 L474.5 494.81 L475 495.71 L475.5 496.59 L476 497.43 L476.5 498.26 L477 499.06 L477.5 499.84 L478 500.59 L478.5 501.33 L479 502.05 L479.5 502.74 L480 503.42 L480.5 504.09 L481 504.73 L481.5 505.36 L482 505.98 L482.5 506.58 L483 507.16 L483.5 507.73 L484 508.29 L484.5 508.83 L485 509.36 L485.5 509.88 L486 510.39 L486.5 510.89 L487 511.37 L487.5 511.85 L488 512.32 L488.5 512.77 L489 513.22 L489.5 513.65 L490 514.08 L490.5 514.5 L491 514.91 L491.5 515.31 L492 515.7 L492.5 516.09 L493 516.47 L493.5 516.84 L494 517.2 L494.5 517.56 L495 517.91 L495.5 518.26 L496 518.6 L496.5 518.93 L497 519.25 L497.5 519.57 L498 519.89 L498.5 520.2 L499 520.5 L499.5 520.8 L500 521.09 L500.5 521.38 L501 521.66 L501.5 521.94 L502 522.22 L502.5 522.49 L503 522.75 L503.5 523.01 L504 523.27 L504.5 523.52 L505 523.77 L505.5 524.01 L506 524.26 L506.5 524.49 L507 524.73 L507.5 524.96 L508 525.18 L508.5 525.41 L509 525.63 L509.5 525.84 L510 526.06 L510.5 526.27 L511 526.47 L511.5 526.68 L512 526.88 L512.5 527.08 L513 527.27 L513.5 527.47 L514 527.66 L514.5 527.85 L515 528.03 L515.5 528.21 L516 528.4 L516.5 528.57 L517 528.75 L517.5 528.92 L518 529.09 L518.5 529.26 L519 529.43 L519.5 529.59 L520 529.76 L520.5 529.92 L521 530.07 L521.5 530.23 L522 530.39 L522.5 530.54 L523 530.69 L523.5 530.84 L524 530.98 L524.5 531.13 L525 531.27 L525.5 531.42 L526 531.56 L526.5 531.69 L527 531.83 L527.5 531.97 L528 532.1 L528.5 532.23 L529 532.36 L529.5 532.49 L530 532.62 L530.5 532.75 L531 532.87 L531.5 532.99 L532 533.12 L532.5 533.24 L533 533.36 L533.5 533.48 L534 533.59 L534.5 533.71 L535 533.82 L535.5 533.94 L536 534.05 L536.5 534.16 L537 534.27 L537.5 534.38 L538 534.48 L538.5 534.59 L539 534.69 L539.5 534.8 L540 534.9 L540.5 535 L541 535.11 L541.5 535.21 L542 535.3 L542.5 535.4 L543 535.5 L543.5 535.6 L544 535.69 L544.5 535.78 L545 535.88 L545.5 535.97 L546 536.06 L546.5 536.15 L547 536.24 L547.5 536.33 L548 536.42 L548.5 536.51 L549 536.59 L549.5 536.68 L550 536.76 L550.5 536.85 L551 536.93 L551.5 537.01 L552 537.1 L552.5 537.18 L553 537.26 L553.5 537.34 L554 537.42 L554.5 537.49 L555 537.57 L555.5 537.65 L556 537.72 L556.5 537.8 L557 537.87 L557.5 537.95 L558 538.02 L558.5 538.1 L559 538.17 L559.5 538.24 L560 538.31 L560.5 538.38 L561 538.45 L561.5 538.52 L562 538.59 L562.5 538.66 L563 538.73 L563.5 538.79 L564 538.86 L564.5 538.93 L565 538.99 L565.5 539.06 L566 539.12 L566.5 539.18 L567 539.25 L567.5 539.31 L568 539.37 L568.5 539.43 L569 539.5 L569.5 539.56 L570 539.62 L570.5 539.68 L571 539.74 L571.5 539.8 L572 539.85 L572.5 539.91 L573 539.97 L573.5 540.03 L574 540.08 L574.5 540.14 L575 540.2 L575.5 540.25 L576 540.31 L576.5 540.36 L577 540.42 L577.5 540.47 L578 540.52 L578.5 540.58 L579 540.63 L579.5 540.68 L580 540.74 L580.5 540.79 L581 540.84 L581.5 540.89 L582 540.94 L582.5 540.99 L583 541.04 L583.5 541.09 L584 541.14 L584.5 541.19 L585 541.24 L585.5 541.28 L586 541.33 L586.5 541.38 L587 541.43 L587.5 541.47 L588 541.52 L588.5 541.57 L589 541.61 L589.5 541.66 L590 541.7 L590.5 541.75 L591 541.79 L591.5 541.84 L592 541.88 L592.5 541.92 L593 541.97 L593.5 542.01 L594 542.05 L594.5 542.1 L595 542.14 L595.5 542.18 L596 542.22 L596.5 542.26 L597 542.31 L597.5 542.35 L598 542.39 L598.5 542.43 L599 542.47 L599.5 542.51 L600 542.55 L600.5 542.59 L601 542.63 L601.5 542.67 L602 542.7 L602.5 542.74 L603 542.78 L603.5 542.82 L604 542.86 L604.5 542.89 L605 542.93 L605.5 542.97 L606 543.01 L606.5 543.04 L607 543.08 L607.5 543.12 L608 543.15 L608.5 543.19 L609 543.22 L609.5 543.26 L610 543.29 L610.5 543.33 L611 543.36 L611.5 543.4 L612 543.43 L612.5 543.47 L613 543.5 L613.5 543.53 L614 543.57 L614.5 543.6 L615 543.63 L615.5 543.67 L616 543.7 L616.5 543.73 L617 543.76 L617.5 543.8 L618 543.83 L618.5 543.86 L619 543.89 L619.5 543.92 L620 543.95 L620.5 543.99 L621 544.02 L621.5 544.05 L622 544.08 L622.5 544.11 L623 544.14 L623.5 544.17 L624 544.2 L624.5 544.23 L625 544.26 L625.5 544.29 L626 544.32 L626.5 544.35 L627 544.37 L627.5 544.4 L628 544.43 L628.5 544.46 L629 544.49 L629.5 544.52 L630 544.55 L630.5 544.57 L631 544.6 L631.5 544.63 L632 544.66 L632.5 544.68 L633 544.71 L633.5 544.74 L634 544.76 L634.5 544.79 L635 544.82 L635.5 544.84 L636 544.87 L636.5 544.9 L637 544.92 L637.5 544.95 L638 544.98 L638.5 545 L639 545.03 L639.5 545.05 L640 545.08 L640.5 545.1 L641 545.13 L641.5 545.15 L642 545.18 L642.5 545.2 L643 545.23 L643.5 545.25 L644 545.28 L644.5 545.3 L645 545.32 L645.5 545.35 L646 545.37 L646.5 545.4 L647 545.42 L647.5 545.44 L648 545.47 L648.5 545.49 L649 545.51 L649.5 545.54 L650 545.56 L650.5 545.58 L651 545.6 L651.5 545.63 L652 545.65 L652.5 545.67 L653 545.69 L653.5 545.72 L654 545.74 L654.5 545.76 L655 545.78 L655.5 545.8 L656 545.82 L656.5 545.85 L657 545.87 L657.5 545.89 L658 545.91 L658.5 545.93 L659 545.95 L659.5 545.97 L660 545.99 L660.5 546.02 L661 546.04 L661.5 546.06 L662 546.08 L662.5 546.1 L663 546.12 L663.5 546.14 L664 546.16 L664.5 546.18 L665 546.2 L665.5 546.22 L666 546.24 L666.5 546.26 L667 546.28 L667.5 546.3 L668 546.32 L668.5 546.34 L669 546.35 L669.5 546.37 L670 546.39 L670.5 546.41 L671 546.43 L671.5 546.45 L672 546.47 L672.5 546.49 L673 546.51 L673.5 546.52 L674 546.54 L674.5 546.56 L675 546.58 L675.5 546.6 L676 546.62 L676.5 546.63 L677 546.65 L677.5 546.67 L678 546.69 L678.5 546.71 L679 546.72 L679.5 546.74 L680 546.76 L680.5 546.78 L681 546.79 L681.5 546.81 L682 546.83 L682.5 546.84 L683 546.86 L683.5 546.88 L684 546.9 L684.5 546.91 L685 546.93 L685.5 546.95 L686 546.96 L686.5 546.98 L687 547 L687.5 547.01 L688 547.03 L688.5 547.05 L689 547.06 L689.5 547.08 L690 547.09 L690.5 547.11 L691 547.13 L691.5 547.14 L692 547.16 L692.5 547.17 L693 547.19 L693.5 547.21 L694 547.22 L694.5 547.24 L695 547.25 L695.5 547.27 L696 547.28 L696.5 547.3 L697 547.31 L697.5 547.33 L698 547.34 L698.5 547.36 L699 547.37 L699.5 547.39 L700 547.4 L700.5 547.42 L701 547.43 L701.5 547.45 L702 547.46 L702.5 547.48 L703 547.49 L703.5 547.51 L704 547.52 L704.5 547.54 L705 547.55 L705.5 547.56 L706 547.58 L706.5 547.59 L707 547.61 L707.5 547.62 L708 547.63 L708.5 547.65 L709 547.66 L709.5 547.68 L710 547.69 L710.5 547.7 L711 547.72 L711.5 547.73 L712 547.75 L712.5 547.76 L713 547.77 L713.5 547.79 L714 547.8 L714.5 547.81 L715 547.83 L715.5 547.84 L716 547.85 L716.5 547.87 L717 547.88 L717.5 547.89 L718 547.9 L718.5 547.92 L719 547.93 L719.5 547.94 L720 547.96 L720.5 547.97 L721 547.98 L721.5 547.99 L722 548.01 L722.5 548.02 L723 548.03 L723.5 548.05 L724 548.06 L724.5 548.07 L725 548.08 L725.5 548.09 L726 548.11 L726.5 548.12 L727 548.13 L727.5 548.14 L728 548.16 L728.5 548.17 L729 548.18 L729.5 548.19 L730 548.2 L730.5 548.22 L731 548.23 L731.5 548.24 L732 548.25 L732.5 548.26 L733 548.27 L733.5 548.29 L734 548.3 L734.5 548.31 L735 548.32 L735.5 548.33 L736 548.34 L736.5 548.36 L737 548.37 L737.5 548.38 L738 548.39 L738.5 548.4 L739 548.41 L739.5 548.42 L740 548.44 L740.5 548.45 L741 548.46 L741.5 548.47 L742 548.48 L742.5 548.49 L743 548.5 L743.5 548.51 L744 548.52 L744.5 548.53 L745 548.54 L745.5 548.56 L746 548.57 L746.5 548.58 L747 548.59 L747.5 548.6 L748 548.61 L748.5 548.62 L749 548.63 L749.5 548.64 L750 548.65 L750.5 548.66 L751 548.67 L751.5 548.68 L752 548.69 L752.5 548.7 L753 548.71 L753.5 548.72 L754 548.73 L754.5 548.74 L755 548.75 L755.5 548.76 L756 548.77 L756.5 548.78 L757 548.79 L757.5 548.8 L758 548.81 L758.5 548.82 L759 548.83 L759.5 548.84 L760 548.85 L760.5 548.86 L761 548.87 L761.5 548.88 L762 548.89 L762.5 548.9 L763 548.91 L763.5 548.92 L764 548.93 L764.5 548.94 L765 548.95 L765.5 548.96 L766 548.97 L766.5 548.98 L767 548.99 L767.5 549" stroke="#7a3f00" stroke-width="2.4" fill="none" stroke-linecap="round"/>
<text x="416.8" y="332.35" font-size="20" text-anchor="start" ><tspan font-style="italic" font-size="22">N</tspan><tspan dx="1.1" font-size="14" dy="3.4">A</tspan></text>
<text x="444.3" y="389.5" font-size="23" text-anchor="end" letter-spacing="-0.5">1.0</text>
<text x="444.3" y="476.1" font-size="23" text-anchor="end" letter-spacing="-0.5">0.5</text>
<text x="444.3" y="561.7" font-size="23" text-anchor="end" letter-spacing="-0.5">0</text>
<text x="768.4" y="579.1" font-size="21.5" text-anchor="end" ><tspan font-style="italic">I</tspan> (arb. u.)</text>
<text transform="translate(533.6 508.6) scale(1 1.2)" font-size="17.7" word-spacing="0.7"><tspan font-style="italic">I</tspan><tspan font-size="12.8" dy="1.7">max</tspan><tspan dy="-1.7">&#8203;</tspan> = <tspan letter-spacing="0.4">5</tspan><tspan font-style="italic">I</tspan><tspan font-size="12.8" dy="1.7">s</tspan><tspan dy="-1.7">&#8203;</tspan></text>
</g>
<g>
<rect x="37" y="638.55" width="322" height="211.55" fill="#fff"/>
<rect x="263.5" y="662.5" width="28.1" height="187.6" fill="#dfe0e2"/>
<path d="M77.25 638.55V850.1M117.5 638.55V850.1M157.75 638.55V850.1M198 638.55V850.1M238.25 638.55V850.1M278.5 638.55V850.1M318.75 638.55V850.1M359 638.55V850.1M37 807.81H359M37 765.52H359M37 723.23H359M37 680.94H359M37 638.55H359" stroke="#e8d1ba" stroke-width="1.8" fill="none"/>
<path d="M80.1 679.38 L80.6 683.07 L81.1 686.75 L81.6 690.41 L82.1 694.07 L82.6 697.71 L83.1 701.34 L83.6 704.95 L84.1 708.55 L84.6 712.12 L85.1 715.68 L85.6 719.21 L86.1 722.72 L86.6 726.21 L87.1 729.67 L87.6 733.11 L88.1 736.51 L88.6 739.89 L89.1 743.23 L89.6 746.55 L90.1 749.83 L90.6 753.07 L91.1 756.28 L91.6 759.46 L92.1 762.59 L92.6 765.69 L93.1 768.74 L93.6 771.75 L94.1 774.72 L94.6 777.65 L95.1 780.53 L95.6 783.36 L96.1 786.15 L96.6 788.89 L97.1 791.58 L97.6 794.22 L98.1 796.8 L98.6 799.34 L99.1 801.82 L99.6 804.25 L100.1 806.62 L100.6 808.93 L101.1 811.19 L101.6 813.39 L102.1 815.53 L102.6 817.61 L103.1 819.64 L103.6 821.6 L104.1 823.49 L104.6 825.33 L105.1 827.1 L105.6 828.81 L106.1 830.45 L106.6 832.03 L107.1 833.54 L107.6 834.99 L108.1 836.37 L108.6 837.68 L109.1 838.93 L109.6 840.1 L110.1 841.21 L110.6 842.24 L111.1 843.21 L111.6 844.11 L112.1 844.93 L112.6 845.69 L113.1 846.37 L113.6 846.99 L114.1 847.53 L114.6 848 L115.1 848.39 L115.6 848.72 L116.1 848.97 L116.6 849.16 L117.1 849.26 L117.6 849.3 L118.1 849.26 L118.6 849.16 L119.1 848.97 L119.6 848.72 L120.1 848.39 L120.6 848 L121.1 847.53 L121.6 846.99 L122.1 846.37 L122.6 845.69 L123.1 844.93 L123.6 844.11 L124.1 843.21 L124.6 842.24 L125.1 841.21 L125.6 840.1 L126.1 838.93 L126.6 837.68 L127.1 836.37 L127.6 834.99 L128.1 833.54 L128.6 832.03 L129.1 830.45 L129.6 828.81 L130.1 827.1 L130.6 825.33 L131.1 823.49 L131.6 821.6 L132.1 819.64 L132.6 817.61 L133.1 815.53 L133.6 813.39 L134.1 811.19 L134.6 808.93 L135.1 806.62 L135.6 804.25 L136.1 801.82 L136.6 799.34 L137.1 796.8 L137.6 794.22 L138.1 791.58 L138.6 788.89 L139.1 786.15 L139.6 783.36 L140.1 780.53 L140.6 777.65 L141.1 774.72 L141.6 771.75 L142.1 768.74 L142.6 765.69 L143.1 762.59 L143.6 759.46 L144.1 756.28 L144.6 753.07 L145.1 749.83 L145.6 746.55 L146.1 743.23 L146.6 739.89 L147.1 736.51 L147.6 733.11 L148.1 729.67 L148.6 726.21 L149.1 722.72 L149.6 719.21 L150.1 715.68 L150.6 712.12 L151.1 708.55 L151.6 704.95 L152.1 701.34 L152.6 697.71 L153.1 694.07 L153.6 690.41 L154.1 686.75 L154.6 683.07 L155.1 679.38" stroke="#c8a27c" stroke-width="2.6" fill="none"/>
<path d="M75.9 671.6L85.1 678.2" stroke="#c8a27c" stroke-width="1.8"/>
<path d="M75.9 677L85.1 683.6" stroke="#c8a27c" stroke-width="1.8"/>
<path d="M149.7 671.6L158.9 678.2" stroke="#c8a27c" stroke-width="1.8"/>
<path d="M149.7 677L158.9 683.6" stroke="#c8a27c" stroke-width="1.8"/>
<path d="M240 679.38 L240.5 683.07 L241 686.75 L241.5 690.41 L242 694.07 L242.5 697.71 L243 701.34 L243.5 704.95 L244 708.55 L244.5 712.12 L245 715.68 L245.5 719.21 L246 722.72 L246.5 726.21 L247 729.67 L247.5 733.11 L248 736.51 L248.5 739.89 L249 743.23 L249.5 746.55 L250 749.83 L250.5 753.07 L251 756.28 L251.5 759.46 L252 762.59 L252.5 765.69 L253 768.74 L253.5 771.75 L254 774.72 L254.5 777.65 L255 780.53 L255.5 783.36 L256 786.15 L256.5 788.89 L257 791.58 L257.5 794.22 L258 796.8 L258.5 799.34 L259 801.82 L259.5 804.25 L260 806.62 L260.5 808.93 L261 811.19 L261.5 813.39 L262 815.53 L262.5 817.61 L263 819.64 L263.5 821.6 L264 823.49 L264.5 825.33 L265 827.1 L265.5 828.81 L266 830.45 L266.5 832.03 L267 833.54 L267.5 834.99 L268 836.37 L268.5 837.68 L269 838.93 L269.5 840.1 L270 841.21 L270.5 842.24 L271 843.21 L271.5 844.11 L272 844.93 L272.5 845.69 L273 846.37 L273.5 846.99 L274 847.53 L274.5 848 L275 848.39 L275.5 848.72 L276 848.97 L276.5 849.16 L277 849.26 L277.5 849.3 L278 849.26 L278.5 849.16 L279 848.97 L279.5 848.72 L280 848.39 L280.5 848 L281 847.53 L281.5 846.99 L282 846.37 L282.5 845.69 L283 844.93 L283.5 844.11 L284 843.21 L284.5 842.24 L285 841.21 L285.5 840.1 L286 838.93 L286.5 837.68 L287 836.37 L287.5 834.99 L288 833.54 L288.5 832.03 L289 830.45 L289.5 828.81 L290 827.1 L290.5 825.33 L291 823.49 L291.5 821.6 L292 819.64 L292.5 817.61 L293 815.53 L293.5 813.39 L294 811.19 L294.5 808.93 L295 806.62 L295.5 804.25 L296 801.82 L296.5 799.34 L297 796.8 L297.5 794.22 L298 791.58 L298.5 788.89 L299 786.15 L299.5 783.36 L300 780.53 L300.5 777.65 L301 774.72 L301.5 771.75 L302 768.74 L302.5 765.69 L303 762.59 L303.5 759.46 L304 756.28 L304.5 753.07 L305 749.83 L305.5 746.55 L306 743.23 L306.5 739.89 L307 736.51 L307.5 733.11 L308 729.67 L308.5 726.21 L309 722.72 L309.5 719.21 L310 715.68 L310.5 712.12 L311 708.55 L311.5 704.95 L312 701.34 L312.5 697.71 L313 694.07 L313.5 690.41 L314 686.75 L314.5 683.07 L315 679.38" stroke="#c8a27c" stroke-width="2.6" fill="none"/>
<path d="M235.8 671.6L245 678.2" stroke="#c8a27c" stroke-width="1.8"/>
<path d="M235.8 677L245 683.6" stroke="#c8a27c" stroke-width="1.8"/>
<path d="M309.6 671.6L318.8 678.2" stroke="#c8a27c" stroke-width="1.8"/>
<path d="M309.6 677L318.8 683.6" stroke="#c8a27c" stroke-width="1.8"/>
<path d="M37 841.13 L37.25 841.13 L37.5 841.13 L37.75 841.13 L38 841.13 L38.25 841.13 L38.5 841.13 L38.75 841.13 L39 841.13 L39.25 841.13 L39.5 841.12 L39.75 841.12 L40 841.12 L40.25 841.12 L40.5 841.11 L40.75 841.11 L41 841.11 L41.25 841.1 L41.5 841.1 L41.75 841.1 L42 841.09 L42.25 841.09 L42.5 841.08 L42.75 841.08 L43 841.07 L43.25 841.07 L43.5 841.06 L43.75 841.05 L44 841.05 L44.25 841.04 L44.5 841.03 L44.75 841.03 L45 841.02 L45.25 841.01 L45.5 841 L45.75 840.99 L46 840.99 L46.25 840.98 L46.5 840.97 L46.75 840.96 L47 840.95 L47.25 840.94 L47.5 840.93 L47.75 840.92 L48 840.91 L48.25 840.9 L48.5 840.88 L48.75 840.87 L49 840.86 L49.25 840.85 L49.5 840.84 L49.75 840.82 L50 840.81 L50.25 840.8 L50.5 840.78 L50.75 840.77 L51 840.75 L51.25 840.74 L51.5 840.72 L51.75 840.71 L52 840.69 L52.25 840.68 L52.5 840.66 L52.75 840.65 L53 840.63 L53.25 840.61 L53.5 840.59 L53.75 840.58 L54 840.56 L54.25 840.54 L54.5 840.52 L54.75 840.5 L55 840.48 L55.25 840.46 L55.5 840.44 L55.75 840.42 L56 840.4 L56.25 840.38 L56.5 840.36 L56.75 840.33 L57 840.31 L57.25 840.28 L57.5 840.26 L57.75 840.23 L58 840.2 L58.25 840.17 L58.5 840.14 L58.75 840.1 L59 840.07 L59.25 840.03 L59.5 840 L59.75 839.96 L60 839.92 L60.25 839.88 L60.5 839.83 L60.75 839.79 L61 839.75 L61.25 839.7 L61.5 839.66 L61.75 839.61 L62 839.56 L62.25 839.51 L62.5 839.46 L62.75 839.41 L63 839.36 L63.25 839.31 L63.5 839.25 L63.75 839.2 L64 839.14 L64.25 839.09 L64.5 839.03 L64.75 838.97 L65 838.91 L65.25 838.85 L65.5 838.79 L65.75 838.73 L66 838.67 L66.25 838.61 L66.5 838.55 L66.75 838.48 L67 838.42 L67.25 838.36 L67.5 838.29 L67.75 838.22 L68 838.16 L68.25 838.09 L68.5 838.03 L68.75 837.96 L69 837.89 L69.25 837.82 L69.5 837.75 L69.75 837.68 L70 837.61 L70.25 837.54 L70.5 837.46 L70.75 837.39 L71 837.31 L71.25 837.23 L71.5 837.15 L71.75 837.07 L72 836.98 L72.25 836.9 L72.5 836.81 L72.75 836.72 L73 836.64 L73.25 836.55 L73.5 836.45 L73.75 836.36 L74 836.27 L74.25 836.17 L74.5 836.07 L74.75 835.97 L75 835.87 L75.25 835.77 L75.5 835.67 L75.75 835.56 L76 835.46 L76.25 835.35 L76.5 835.24 L76.75 835.13 L77 835.02 L77.25 834.9 L77.5 834.79 L77.75 834.67 L78 834.55 L78.25 834.43 L78.5 834.31 L78.75 834.18 L79 834.05 L79.25 833.93 L79.5 833.8 L79.75 833.66 L80 833.52 L80.25 833.38 L80.5 833.24 L80.75 833.09 L81 832.94 L81.25 832.79 L81.5 832.63 L81.75 832.47 L82 832.3 L82.25 832.13 L82.5 831.96 L82.75 831.79 L83 831.61 L83.25 831.42 L83.5 831.23 L83.75 831.04 L84 830.84 L84.25 830.64 L84.5 830.44 L84.75 830.23 L85 830.01 L85.25 829.79 L85.5 829.57 L85.75 829.34 L86 829.1 L86.25 828.86 L86.5 828.62 L86.75 828.37 L87 828.11 L87.25 827.84 L87.5 827.57 L87.75 827.29 L88 827.01 L88.25 826.72 L88.5 826.42 L88.75 826.11 L89 825.8 L89.25 825.48 L89.5 825.16 L89.75 824.83 L90 824.5 L90.25 824.16 L90.5 823.81 L90.75 823.46 L91 823.1 L91.25 822.73 L91.5 822.36 L91.75 821.97 L92 821.57 L92.25 821.16 L92.5 820.74 L92.75 820.3 L93 819.85 L93.25 819.38 L93.5 818.9 L93.75 818.4 L94 817.88 L94.25 817.35 L94.5 816.79 L94.75 816.21 L95 815.61 L95.25 814.98 L95.5 814.34 L95.75 813.7 L96 813.08 L96.25 812.46 L96.5 811.84 L96.75 811.2 L97 810.54 L97.25 809.85 L97.5 809.13 L97.75 808.36 L98 807.53 L98.25 806.65 L98.5 805.7 L98.75 804.67 L99 803.55 L99.25 802.34 L99.5 801.03 L99.75 799.61 L100 798.09 L100.25 796.47 L100.5 794.77 L100.75 793 L101 791.15 L101.25 789.25 L101.5 787.29 L101.75 785.29 L102 783.22 L102.25 781.04 L102.5 778.79 L102.75 776.47 L103 774.1 L103.25 771.71 L103.5 769.3 L103.75 766.9 L104 764.51 L104.25 762.09 L104.5 759.62 L104.75 757.12 L105 754.6 L105.25 752.04 L105.5 749.48 L105.75 746.9 L106 744.33 L106.25 741.79 L106.5 739.27 L106.75 736.77 L107 734.29 L107.25 731.84 L107.5 729.39 L107.75 726.97 L108 724.56 L108.25 722.16 L108.5 719.82 L108.75 717.54 L109 715.33 L109.25 713.17 L109.5 711.07 L109.75 709.03 L110 707.04 L110.25 705.1 L110.5 703.2 L110.75 701.37 L111 699.62 L111.25 697.97 L111.5 696.4 L111.75 694.93 L112 693.56 L112.25 692.27 L112.5 691.07 L112.75 689.97 L113 688.94 L113.25 688 L113.5 687.13 L113.75 686.35 L114 685.62 L114.25 684.95 L114.5 684.33 L114.75 683.76 L115 683.24 L115.25 682.77 L115.5 682.34 L115.75 681.96 L116 681.62 L116.25 681.32 L116.5 681.06 L116.75 680.84 L117 680.65 L117.25 680.51 L117.5 680.41 L117.75 680.34 L118 680.32 L118.25 680.34 L118.5 680.41 L118.75 680.51 L119 680.65 L119.25 680.84 L119.5 681.06 L119.75 681.32 L120 681.62 L120.25 681.96 L120.5 682.34 L120.75 682.77 L121 683.24 L121.25 683.76 L121.5 684.33 L121.75 684.95 L122 685.62 L122.25 686.35 L122.5 687.13 L122.75 688 L123 688.94 L123.25 689.97 L123.5 691.07 L123.75 692.27 L124 693.56 L124.25 694.93 L124.5 696.4 L124.75 697.97 L125 699.62 L125.25 701.37 L125.5 703.2 L125.75 705.1 L126 707.04 L126.25 709.03 L126.5 711.07 L126.75 713.17 L127 715.33 L127.25 717.54 L127.5 719.82 L127.75 722.16 L128 724.56 L128.25 726.97 L128.5 729.39 L128.75 731.84 L129 734.29 L129.25 736.77 L129.5 739.27 L129.75 741.79 L130 744.33 L130.25 746.9 L130.5 749.48 L130.75 752.04 L131 754.6 L131.25 757.12 L131.5 759.62 L131.75 762.09 L132 764.51 L132.25 766.9 L132.5 769.3 L132.75 771.71 L133 774.1 L133.25 776.47 L133.5 778.79 L133.75 781.04 L134 783.22 L134.25 785.29 L134.5 787.29 L134.75 789.25 L135 791.15 L135.25 793 L135.5 794.77 L135.75 796.47 L136 798.09 L136.25 799.61 L136.5 801.03 L136.75 802.34 L137 803.55 L137.25 804.67 L137.5 805.7 L137.75 806.65 L138 807.53 L138.25 808.36 L138.5 809.13 L138.75 809.85 L139 810.54 L139.25 811.2 L139.5 811.84 L139.75 812.46 L140 813.08 L140.25 813.7 L140.5 814.34 L140.75 814.98 L141 815.61 L141.25 816.21 L141.5 816.79 L141.75 817.35 L142 817.88 L142.25 818.4 L142.5 818.9 L142.75 819.38 L143 819.85 L143.25 820.3 L143.5 820.74 L143.75 821.16 L144 821.57 L144.25 821.97 L144.5 822.36 L144.75 822.73 L145 823.1 L145.25 823.46 L145.5 823.81 L145.75 824.16 L146 824.5 L146.25 824.83 L146.5 825.16 L146.75 825.48 L147 825.8 L147.25 826.11 L147.5 826.42 L147.75 826.72 L148 827.01 L148.25 827.29 L148.5 827.57 L148.75 827.84 L149 828.11 L149.25 828.37 L149.5 828.62 L149.75 828.86 L150 829.1 L150.25 829.34 L150.5 829.57 L150.75 829.79 L151 830.01 L151.25 830.23 L151.5 830.44 L151.75 830.64 L152 830.84 L152.25 831.04 L152.5 831.23 L152.75 831.42 L153 831.61 L153.25 831.79 L153.5 831.96 L153.75 832.13 L154 832.3 L154.25 832.47 L154.5 832.63 L154.75 832.79 L155 832.94 L155.25 833.09 L155.5 833.24 L155.75 833.38 L156 833.52 L156.25 833.66 L156.5 833.8 L156.75 833.93 L157 834.05 L157.25 834.18 L157.5 834.31 L157.75 834.43 L158 834.55 L158.25 834.67 L158.5 834.79 L158.75 834.9 L159 835.02 L159.25 835.13 L159.5 835.24 L159.75 835.35 L160 835.46 L160.25 835.56 L160.5 835.67 L160.75 835.77 L161 835.87 L161.25 835.97 L161.5 836.07 L161.75 836.17 L162 836.27 L162.25 836.36 L162.5 836.45 L162.75 836.55 L163 836.64 L163.25 836.72 L163.5 836.81 L163.75 836.9 L164 836.98 L164.25 837.07 L164.5 837.15 L164.75 837.23 L165 837.31 L165.25 837.39 L165.5 837.46 L165.75 837.54 L166 837.61 L166.25 837.68 L166.5 837.75 L166.75 837.82 L167 837.89 L167.25 837.96 L167.5 838.03 L167.75 838.09 L168 838.16 L168.25 838.22 L168.5 838.29 L168.75 838.36 L169 838.42 L169.25 838.48 L169.5 838.55 L169.75 838.61 L170 838.67 L170.25 838.73 L170.5 838.79 L170.75 838.85 L171 838.91 L171.25 838.97 L171.5 839.03 L171.75 839.09 L172 839.14 L172.25 839.2 L172.5 839.25 L172.75 839.31 L173 839.36 L173.25 839.41 L173.5 839.46 L173.75 839.51 L174 839.56 L174.25 839.61 L174.5 839.66 L174.75 839.7 L175 839.75 L175.25 839.79 L175.5 839.83 L175.75 839.88 L176 839.92 L176.25 839.96 L176.5 840 L176.75 840.03 L177 840.07 L177.25 840.1 L177.5 840.14 L177.75 840.17 L178 840.2 L178.25 840.23 L178.5 840.26 L178.75 840.28 L179 840.31 L179.25 840.33 L179.5 840.36 L179.75 840.38 L180 840.4 L180.25 840.42 L180.5 840.44 L180.75 840.46 L181 840.48 L181.25 840.5 L181.5 840.52 L181.75 840.54 L182 840.56 L182.25 840.58 L182.5 840.59 L182.75 840.61 L183 840.63 L183.25 840.65 L183.5 840.66 L183.75 840.68 L184 840.69 L184.25 840.71 L184.5 840.72 L184.75 840.74 L185 840.75 L185.25 840.77 L185.5 840.78 L185.75 840.8 L186 840.81 L186.25 840.82 L186.5 840.84 L186.75 840.85 L187 840.86 L187.25 840.87 L187.5 840.88 L187.75 840.9 L188 840.91 L188.25 840.92 L188.5 840.93 L188.75 840.94 L189 840.95 L189.25 840.96 L189.5 840.97 L189.75 840.98 L190 840.99 L190.25 840.99 L190.5 841 L190.75 841.01 L191 841.02 L191.25 841.03 L191.5 841.03 L191.75 841.04 L192 841.05 L192.25 841.05 L192.5 841.06 L192.75 841.07 L193 841.07 L193.25 841.08 L193.5 841.08 L193.75 841.09 L194 841.09 L194.25 841.1 L194.5 841.1 L194.75 841.1 L195 841.11 L195.25 841.11 L195.5 841.11 L195.75 841.12 L196 841.12 L196.25 841.12 L196.5 841.12 L196.75 841.13 L197 841.13 L197.25 841.13 L197.5 841.13 L197.75 841.13 L198 841.13 L198.25 841.13 L198.5 841.13 L198.75 841.13 L199 841.12 L199.25 841.12 L199.5 841.12 L199.75 841.12 L200 841.11 L200.25 841.11 L200.5 841.11 L200.75 841.1 L201 841.1 L201.25 841.1 L201.5 841.09 L201.75 841.09 L202 841.08 L202.25 841.08 L202.5 841.07 L202.75 841.07 L203 841.06 L203.25 841.06 L203.5 841.05 L203.75 841.04 L204 841.04 L204.25 841.03 L204.5 841.02 L204.75 841.01 L205 841.01 L205.25 841 L205.5 840.99 L205.75 840.98 L206 840.97 L206.25 840.96 L206.5 840.95 L206.75 840.94 L207 840.93 L207.25 840.92 L207.5 840.91 L207.75 840.9 L208 840.89 L208.25 840.88 L208.5 840.87 L208.75 840.86 L209 840.84 L209.25 840.83 L209.5 840.82 L209.75 840.81 L210 840.79 L210.25 840.78 L210.5 840.76 L210.75 840.75 L211 840.74 L211.25 840.72 L211.5 840.71 L211.75 840.69 L212 840.67 L212.25 840.66 L212.5 840.64 L212.75 840.62 L213 840.61 L213.25 840.59 L213.5 840.57 L213.75 840.55 L214 840.54 L214.25 840.52 L214.5 840.5 L214.75 840.48 L215 840.46 L215.25 840.44 L215.5 840.42 L215.75 840.4 L216 840.38 L216.25 840.35 L216.5 840.33 L216.75 840.31 L217 840.28 L217.25 840.26 L217.5 840.23 L217.75 840.2 L218 840.17 L218.25 840.14 L218.5 840.1 L218.75 840.07 L219 840.03 L219.25 840 L219.5 839.96 L219.75 839.92 L220 839.88 L220.25 839.84 L220.5 839.79 L220.75 839.75 L221 839.7 L221.25 839.66 L221.5 839.61 L221.75 839.56 L222 839.51 L222.25 839.46 L222.5 839.41 L222.75 839.36 L223 839.31 L223.25 839.26 L223.5 839.2 L223.75 839.15 L224 839.09 L224.25 839.03 L224.5 838.98 L224.75 838.92 L225 838.86 L225.25 838.8 L225.5 838.74 L225.75 838.68 L226 838.62 L226.25 838.55 L226.5 838.49 L226.75 838.43 L227 838.36 L227.25 838.3 L227.5 838.23 L227.75 838.17 L228 838.1 L228.25 838.03 L228.5 837.97 L228.75 837.9 L229 837.83 L229.25 837.76 L229.5 837.69 L229.75 837.62 L230 837.54 L230.25 837.47 L230.5 837.39 L230.75 837.32 L231 837.24 L231.25 837.16 L231.5 837.08 L231.75 836.99 L232 836.91 L232.25 836.82 L232.5 836.73 L232.75 836.65 L233 836.56 L233.25 836.46 L233.5 836.37 L233.75 836.28 L234 836.18 L234.25 836.08 L234.5 835.98 L234.75 835.88 L235 835.78 L235.25 835.68 L235.5 835.57 L235.75 835.47 L236 835.36 L236.25 835.25 L236.5 835.14 L236.75 835.03 L237 834.91 L237.25 834.8 L237.5 834.68 L237.75 834.56 L238 834.44 L238.25 834.31 L238.5 834.19 L238.75 834.06 L239 833.93 L239.25 833.8 L239.5 833.67 L239.75 833.53 L240 833.39 L240.25 833.25 L240.5 833.1 L240.75 832.95 L241 832.79 L241.25 832.63 L241.5 832.47 L241.75 832.31 L242 832.14 L242.25 831.96 L242.5 831.79 L242.75 831.61 L243 831.42 L243.25 831.23 L243.5 831.04 L243.75 830.84 L244 830.64 L244.25 830.43 L244.5 830.22 L244.75 830 L245 829.78 L245.25 829.56 L245.5 829.33 L245.75 829.09 L246 828.85 L246.25 828.6 L246.5 828.34 L246.75 828.08 L247 827.82 L247.25 827.54 L247.5 827.26 L247.75 826.98 L248 826.68 L248.25 826.38 L248.5 826.07 L248.75 825.75 L249 825.43 L249.25 825.11 L249.5 824.78 L249.75 824.44 L250 824.1 L250.25 823.75 L250.5 823.39 L250.75 823.03 L251 822.66 L251.25 822.28 L251.5 821.88 L251.75 821.48 L252 821.06 L252.25 820.63 L252.5 820.19 L252.75 819.73 L253 819.26 L253.25 818.77 L253.5 818.26 L253.75 817.73 L254 817.18 L254.25 816.61 L254.5 816.02 L254.75 815.41 L255 814.77 L255.25 814.12 L255.5 813.49 L255.75 812.86 L256 812.24 L256.25 811.61 L256.5 810.96 L256.75 810.28 L257 809.57 L257.25 808.82 L257.5 808.03 L257.75 807.17 L258 806.25 L258.25 805.26 L258.5 804.18 L258.75 803.01 L259 801.75 L259.25 800.37 L259.5 798.89 L259.75 797.31 L260 795.64 L260.25 793.88 L260.5 792.05 L260.75 790.16 L261 788.2 L261.25 786.21 L261.5 784.15 L261.75 782 L262 779.76 L262.25 777.45 L262.5 775.08 L262.75 772.67 L263 770.24 L263.25 767.81 L263.5 765.4 L263.75 762.97 L264 760.49 L264.25 757.98 L264.5 755.44 L264.75 752.87 L265 750.28 L265.25 747.68 L265.5 745.08 L265.75 742.5 L266 739.95 L266.25 737.42 L266.5 734.92 L266.75 732.43 L267 729.96 L267.25 727.51 L267.5 725.07 L267.75 722.65 L268 720.27 L268.25 717.96 L268.5 715.71 L268.75 713.52 L269 711.39 L269.25 709.32 L269.5 707.3 L269.75 705.33 L270 703.41 L270.25 701.55 L270.5 699.78 L270.75 698.1 L271 696.51 L271.25 695.02 L271.5 693.62 L271.75 692.32 L272 691.11 L272.25 689.99 L272.5 688.95 L272.75 688 L273 687.12 L273.25 686.33 L273.5 685.6 L273.75 684.92 L274 684.3 L274.25 683.73 L274.5 683.21 L274.75 682.73 L275 682.31 L275.25 681.92 L275.5 681.58 L275.75 681.28 L276 681.02 L276.25 680.81 L276.5 680.63 L276.75 680.49 L277 680.39 L277.25 680.33 L277.5 680.32 L277.75 680.35 L278 680.42 L278.25 680.54 L278.5 680.69 L278.75 680.89 L279 681.12 L279.25 681.4 L279.5 681.71 L279.75 682.07 L280 682.47 L280.25 682.92 L280.5 683.41 L280.75 683.95 L281 684.54 L281.25 685.18 L281.5 685.88 L281.75 686.64 L282 687.46 L282.25 688.37 L282.5 689.35 L282.75 690.42 L283 691.58 L283.25 692.83 L283.5 694.17 L283.75 695.6 L284 697.13 L284.25 698.76 L284.5 700.47 L284.75 702.28 L285 704.18 L285.25 706.11 L285.5 708.1 L285.75 710.14 L286 712.23 L286.25 714.39 L286.5 716.6 L286.75 718.87 L287 721.21 L287.25 723.61 L287.5 726.04 L287.75 728.49 L288 730.95 L288.25 733.42 L288.5 735.92 L288.75 738.43 L289 740.97 L289.25 743.53 L289.5 746.12 L289.75 748.72 L290 751.32 L290.25 753.9 L290.5 756.46 L290.75 758.99 L291 761.49 L291.25 763.94 L291.5 766.36 L291.75 768.78 L292 771.21 L292.25 773.63 L292.5 776.03 L292.75 778.38 L293 780.67 L293.25 782.88 L293.5 784.99 L293.75 787.01 L294 788.99 L294.25 790.92 L294.5 792.79 L294.75 794.59 L295 796.32 L295.25 797.95 L295.5 799.5 L295.75 800.94 L296 802.27 L296.25 803.49 L296.5 804.62 L296.75 805.66 L297 806.63 L297.25 807.52 L297.5 808.35 L297.75 809.13 L298 809.86 L298.25 810.55 L298.5 811.22 L298.75 811.86 L299 812.49 L299.25 813.11 L299.5 813.74 L299.75 814.38 L300 815.03 L300.25 815.66 L300.5 816.26 L300.75 816.85 L301 817.41 L301.25 817.94 L301.5 818.46 L301.75 818.97 L302 819.45 L302.25 819.92 L302.5 820.37 L302.75 820.81 L303 821.23 L303.25 821.64 L303.5 822.04 L303.75 822.43 L304 822.81 L304.25 823.18 L304.5 823.54 L304.75 823.89 L305 824.24 L305.25 824.57 L305.5 824.91 L305.75 825.24 L306 825.56 L306.25 825.88 L306.5 826.2 L306.75 826.5 L307 826.8 L307.25 827.09 L307.5 827.38 L307.75 827.65 L308 827.92 L308.25 828.19 L308.5 828.45 L308.75 828.7 L309 828.94 L309.25 829.18 L309.5 829.42 L309.75 829.65 L310 829.87 L310.25 830.09 L310.5 830.31 L310.75 830.51 L311 830.72 L311.25 830.92 L311.5 831.12 L311.75 831.31 L312 831.49 L312.25 831.68 L312.5 831.86 L312.75 832.03 L313 832.2 L313.25 832.37 L313.5 832.54 L313.75 832.7 L314 832.85 L314.25 833.01 L314.5 833.16 L314.75 833.3 L315 833.45 L315.25 833.59 L315.5 833.72 L315.75 833.86 L316 833.99 L316.25 834.11 L316.5 834.24 L316.75 834.36 L317 834.49 L317.25 834.61 L317.5 834.72 L317.75 834.84 L318 834.96 L318.25 835.07 L318.5 835.18 L318.75 835.29 L319 835.4 L319.25 835.51 L319.5 835.62 L319.75 835.72 L320 835.82 L320.25 835.92 L320.5 836.02 L320.75 836.12 L321 836.22 L321.25 836.31 L321.5 836.41 L321.75 836.5 L322 836.59 L322.25 836.68 L322.5 836.77 L322.75 836.86 L323 836.94 L323.25 837.03 L323.5 837.11 L323.75 837.19 L324 837.27 L324.25 837.35 L324.5 837.42 L324.75 837.5 L325 837.57 L325.25 837.65 L325.5 837.72 L325.75 837.79 L326 837.86 L326.25 837.92 L326.5 837.99 L326.75 838.06 L327 838.13 L327.25 838.19 L327.5 838.26 L327.75 838.32 L328 838.39 L328.25 838.45 L328.5 838.52 L328.75 838.58 L329 838.64 L329.25 838.7 L329.5 838.76 L329.75 838.82 L330 838.88 L330.25 838.94 L330.5 839 L330.75 839.06 L331 839.11 L331.25 839.17 L331.5 839.22 L331.75 839.28 L332 839.33 L332.25 839.38 L332.5 839.43 L332.75 839.48 L333 839.53 L333.25 839.58 L333.5 839.63 L333.75 839.68 L334 839.72 L334.25 839.77 L334.5 839.81 L334.75 839.85 L335 839.89 L335.25 839.93 L335.5 839.97 L335.75 840.01 L336 840.05 L336.25 840.08 L336.5 840.12 L336.75 840.15 L337 840.18 L337.25 840.21 L337.5 840.24 L337.75 840.27 L338 840.29 L338.25 840.32 L338.5 840.34 L338.75 840.36 L339 840.38 L339.25 840.41 L339.5 840.43 L339.75 840.45 L340 840.47 L340.25 840.49 L340.5 840.51 L340.75 840.52 L341 840.54 L341.25 840.56 L341.5 840.58 L341.75 840.6 L342 840.61 L342.25 840.63 L342.5 840.65 L342.75 840.66 L343 840.68 L343.25 840.7 L343.5 840.71 L343.75 840.73 L344 840.74 L344.25 840.76 L344.5 840.77 L344.75 840.78 L345 840.8 L345.25 840.81 L345.5 840.82 L345.75 840.84 L346 840.85 L346.25 840.86 L346.5 840.87 L346.75 840.88 L347 840.89 L347.25 840.91 L347.5 840.92 L347.75 840.93 L348 840.94 L348.25 840.95 L348.5 840.96 L348.75 840.97 L349 840.98 L349.25 840.98 L349.5 840.99 L349.75 841 L350 841.01 L350.25 841.02 L350.5 841.02 L350.75 841.03 L351 841.04 L351.25 841.05 L351.5 841.05 L351.75 841.06 L352 841.06 L352.25 841.07 L352.5 841.07 L352.75 841.08 L353 841.09 L353.25 841.09 L353.5 841.09 L353.75 841.1 L354 841.1 L354.25 841.11 L354.5 841.11 L354.75 841.11 L355 841.12 L355.25 841.12 L355.5 841.12 L355.75 841.12 L356 841.13 L356.25 841.13 L356.5 841.13 L356.75 841.13 L357 841.13 L357.25 841.13 L357.5 841.13 L357.75 841.13 L358 841.13 L358.25 841.13" stroke="#7a3f00" stroke-width="2.8" fill="none" stroke-linecap="round" stroke-linejoin="round"/>
<path d="M35.6 765.52H359M35.6 826.3H359M263.5 662.5V850.1M291.6 662.5V850.1" stroke="#231f20" stroke-width="1.25" fill="none" stroke-dasharray="7 5" stroke-opacity="0.85"/>
<path d="M37 650.55V850.1H349" stroke="#231f20" stroke-width="1.9" fill="none"/>
<path d="M37 638.55l-4.1 15.8h8.2z"/>
<path d="M359 850.1l-16 -4.2v8.4z"/>
<path d="M263.5 850.1V871.3 M291.6 850.1V871.3 M268.5 865.7H286.6" stroke="#231f20" stroke-width="1" fill="none"/>
<path d="M264.5 865.7l8.5 -2.3v4.6z"/>
<path d="M290.6 865.7l-8.5 -2.3v4.6z"/>
<text transform="translate(15.2 627.15) scale(0.88 1.1)" font-family="'Liberation Sans', sans-serif" font-weight="bold" font-size="21.5" fill="#7d4408">c</text>
<text x="25.8" y="627.15" font-family="'Liberation Sans', sans-serif" font-weight="bold" font-size="21.5" fill="#7d4408">)</text>
<text x="38.1" y="627.45" font-size="20.5" text-anchor="start" ><tspan letter-spacing="0.8"><tspan font-style="italic">I</tspan>/<tspan font-style="italic">I</tspan></tspan><tspan font-size="15.5" dy="4.3">s</tspan><tspan dy="-4.3">&#8203;</tspan></text>
<text x="28" y="855.7" font-size="22.6" text-anchor="end" >0</text>
<text x="28" y="813.41" font-size="22.6" text-anchor="end" >2</text>
<text x="28" y="771.12" font-size="22.6" text-anchor="end" >4</text>
<text x="28" y="728.83" font-size="22.6" text-anchor="end" >6</text>
<text x="28" y="686.54" font-size="22.6" text-anchor="end" >8</text>
<text x="36.3" y="873.7" font-size="22.6" text-anchor="middle" >0</text>
<text x="372.6" y="873.8" font-size="23" text-anchor="end" letter-spacing="-0.5">1.0</text>
<text x="372.6" y="896.7" font-size="21.5" text-anchor="end" letter-spacing="0.6"><tspan font-style="italic">r</tspan>/<tspan font-style="italic">λ</tspan></text>
<text x="97.6" y="662.2" font-size="18.5" text-anchor="start" ><tspan font-style="italic">N</tspan><tspan font-size="12.3" dy="2.5">A</tspan><tspan dy="-2.5">&#8203;</tspan>(<tspan font-style="italic">r</tspan>)</text>
<text x="160.5" y="707" font-size="18.7" text-anchor="start" ><tspan font-style="italic">I</tspan><tspan dx="1.6">(</tspan><tspan font-style="italic">r</tspan>)</text>
<text x="277.5" y="657.6" font-size="18.7" text-anchor="middle" >FWHM</text>
</g>
<g>
<rect x="453" y="638.55" width="314" height="211.55" fill="#fff"/>
<path d="M505.33 638.55V850.1M557.67 638.55V850.1M610 638.55V850.1M662.33 638.55V850.1M714.67 638.55V850.1M767 638.55V850.1" stroke="#e8d1ba" stroke-width="1.5" fill="none"/>
<path d="M453 677.1H767M453 763.7H767" stroke="#e8d1ba" stroke-width="1.8" fill="none"/>
<path d="M644.7 792.2H653V822.8H657L649 831L641 822.8H644.7z" fill="#a7a9ac"/>
<path d="M452.7 763.7H767M465.7 677.4V850.1" stroke="#231f20" stroke-width="1.25" fill="none" stroke-dasharray="7 5" stroke-opacity="0.85"/>
<path d="M453 650.55V850.1H757" stroke="#231f20" stroke-width="1.75" fill="none"/>
<path d="M453 638.55l-4.1 15.8h8.2z"/>
<path d="M767 850.1l-16 -4.2v8.4z"/>
<path d="M453 677.1 L453.5 684.31 L454 690.94 L454.5 697.06 L455 702.73 L455.5 707.99 L456 712.89 L456.5 717.47 L457 721.75 L457.5 725.76 L458 729.52 L458.5 733.07 L459 736.41 L459.5 739.57 L460 742.56 L460.5 745.39 L461 748.07 L461.5 750.62 L462 753.05 L462.5 755.36 L463 757.57 L463.5 759.67 L464 761.68 L464.5 763.6 L465 765.44 L465.5 767.2 L466 768.9 L466.5 770.52 L467 772.08 L467.5 773.58 L468 775.02 L468.5 776.41 L469 777.75 L469.5 779.05 L470 780.29 L470.5 781.5 L471 782.66 L471.5 783.78 L472 784.87 L472.5 785.92 L473 786.94 L473.5 787.93 L474 788.88 L474.5 789.81 L475 790.71 L475.5 791.59 L476 792.43 L476.5 793.26 L477 794.06 L477.5 794.84 L478 795.59 L478.5 796.33 L479 797.05 L479.5 797.74 L480 798.42 L480.5 799.09 L481 799.73 L481.5 800.36 L482 800.98 L482.5 801.58 L483 802.16 L483.5 802.73 L484 803.29 L484.5 803.83 L485 804.36 L485.5 804.88 L486 805.39 L486.5 805.89 L487 806.37 L487.5 806.85 L488 807.32 L488.5 807.77 L489 808.22 L489.5 808.65 L490 809.08 L490.5 809.5 L491 809.91 L491.5 810.31 L492 810.7 L492.5 811.09 L493 811.47 L493.5 811.84 L494 812.2 L494.5 812.56 L495 812.91 L495.5 813.26 L496 813.6 L496.5 813.93 L497 814.25 L497.5 814.57 L498 814.89 L498.5 815.2 L499 815.5 L499.5 815.8 L500 816.09 L500.5 816.38 L501 816.66 L501.5 816.94 L502 817.22 L502.5 817.49 L503 817.75 L503.5 818.01 L504 818.27 L504.5 818.52 L505 818.77 L505.5 819.01 L506 819.26 L506.5 819.49 L507 819.73 L507.5 819.96 L508 820.18 L508.5 820.41 L509 820.63 L509.5 820.84 L510 821.06 L510.5 821.27 L511 821.47 L511.5 821.68 L512 821.88 L512.5 822.08 L513 822.27 L513.5 822.47 L514 822.66 L514.5 822.85 L515 823.03 L515.5 823.21 L516 823.4 L516.5 823.57 L517 823.75 L517.5 823.92 L518 824.09 L518.5 824.26 L519 824.43 L519.5 824.59 L520 824.76 L520.5 824.92 L521 825.07 L521.5 825.23 L522 825.39 L522.5 825.54 L523 825.69 L523.5 825.84 L524 825.98 L524.5 826.13 L525 826.27 L525.5 826.42 L526 826.56 L526.5 826.69 L527 826.83 L527.5 826.97 L528 827.1 L528.5 827.23 L529 827.36 L529.5 827.49 L530 827.62 L530.5 827.75 L531 827.87 L531.5 827.99 L532 828.12 L532.5 828.24 L533 828.36 L533.5 828.48 L534 828.59 L534.5 828.71 L535 828.82 L535.5 828.94 L536 829.05 L536.5 829.16 L537 829.27 L537.5 829.38 L538 829.48 L538.5 829.59 L539 829.69 L539.5 829.8 L540 829.9 L540.5 830 L541 830.11 L541.5 830.21 L542 830.3 L542.5 830.4 L543 830.5 L543.5 830.6 L544 830.69 L544.5 830.78 L545 830.88 L545.5 830.97 L546 831.06 L546.5 831.15 L547 831.24 L547.5 831.33 L548 831.42 L548.5 831.51 L549 831.59 L549.5 831.68 L550 831.76 L550.5 831.85 L551 831.93 L551.5 832.01 L552 832.1 L552.5 832.18 L553 832.26 L553.5 832.34 L554 832.42 L554.5 832.49 L555 832.57 L555.5 832.65 L556 832.72 L556.5 832.8 L557 832.87 L557.5 832.95 L558 833.02 L558.5 833.1 L559 833.17 L559.5 833.24 L560 833.31 L560.5 833.38 L561 833.45 L561.5 833.52 L562 833.59 L562.5 833.66 L563 833.73 L563.5 833.79 L564 833.86 L564.5 833.93 L565 833.99 L565.5 834.06 L566 834.12 L566.5 834.18 L567 834.25 L567.5 834.31 L568 834.37 L568.5 834.43 L569 834.5 L569.5 834.56 L570 834.62 L570.5 834.68 L571 834.74 L571.5 834.8 L572 834.85 L572.5 834.91 L573 834.97 L573.5 835.03 L574 835.08 L574.5 835.14 L575 835.2 L575.5 835.25 L576 835.31 L576.5 835.36 L577 835.42 L577.5 835.47 L578 835.52 L578.5 835.58 L579 835.63 L579.5 835.68 L580 835.74 L580.5 835.79 L581 835.84 L581.5 835.89 L582 835.94 L582.5 835.99 L583 836.04 L583.5 836.09 L584 836.14 L584.5 836.19 L585 836.24 L585.5 836.28 L586 836.33 L586.5 836.38 L587 836.43 L587.5 836.47 L588 836.52 L588.5 836.57 L589 836.61 L589.5 836.66 L590 836.7 L590.5 836.75 L591 836.79 L591.5 836.84 L592 836.88 L592.5 836.92 L593 836.97 L593.5 837.01 L594 837.05 L594.5 837.1 L595 837.14 L595.5 837.18 L596 837.22 L596.5 837.26 L597 837.31 L597.5 837.35 L598 837.39 L598.5 837.43 L599 837.47 L599.5 837.51 L600 837.55 L600.5 837.59 L601 837.63 L601.5 837.67 L602 837.7 L602.5 837.74 L603 837.78 L603.5 837.82 L604 837.86 L604.5 837.89 L605 837.93 L605.5 837.97 L606 838.01 L606.5 838.04 L607 838.08 L607.5 838.12 L608 838.15 L608.5 838.19 L609 838.22 L609.5 838.26 L610 838.29 L610.5 838.33 L611 838.36 L611.5 838.4 L612 838.43 L612.5 838.47 L613 838.5 L613.5 838.53 L614 838.57 L614.5 838.6 L615 838.63 L615.5 838.67 L616 838.7 L616.5 838.73 L617 838.76 L617.5 838.8 L618 838.83 L618.5 838.86 L619 838.89 L619.5 838.92 L620 838.95 L620.5 838.99 L621 839.02 L621.5 839.05 L622 839.08 L622.5 839.11 L623 839.14 L623.5 839.17 L624 839.2 L624.5 839.23 L625 839.26 L625.5 839.29 L626 839.32 L626.5 839.35 L627 839.37 L627.5 839.4 L628 839.43 L628.5 839.46 L629 839.49 L629.5 839.52 L630 839.55 L630.5 839.57 L631 839.6 L631.5 839.63 L632 839.66 L632.5 839.68 L633 839.71 L633.5 839.74 L634 839.76 L634.5 839.79 L635 839.82 L635.5 839.84 L636 839.87 L636.5 839.9 L637 839.92 L637.5 839.95 L638 839.98 L638.5 840 L639 840.03 L639.5 840.05 L640 840.08 L640.5 840.1 L641 840.13 L641.5 840.15 L642 840.18 L642.5 840.2 L643 840.23 L643.5 840.25 L644 840.28 L644.5 840.3 L645 840.32 L645.5 840.35 L646 840.37 L646.5 840.4 L647 840.42 L647.5 840.44 L648 840.47 L648.5 840.49 L649 840.51 L649.5 840.54 L650 840.56 L650.5 840.58 L651 840.6 L651.5 840.63 L652 840.65 L652.5 840.67 L653 840.69 L653.5 840.72 L654 840.74 L654.5 840.76 L655 840.78 L655.5 840.8 L656 840.82 L656.5 840.85 L657 840.87 L657.5 840.89 L658 840.91 L658.5 840.93 L659 840.95 L659.5 840.97 L660 840.99 L660.5 841.02 L661 841.04 L661.5 841.06 L662 841.08 L662.5 841.1 L663 841.12 L663.5 841.14 L664 841.16 L664.5 841.18 L665 841.2 L665.5 841.22 L666 841.24 L666.5 841.26 L667 841.28 L667.5 841.3 L668 841.32 L668.5 841.34 L669 841.35 L669.5 841.37 L670 841.39 L670.5 841.41 L671 841.43 L671.5 841.45 L672 841.47 L672.5 841.49 L673 841.51 L673.5 841.52 L674 841.54 L674.5 841.56 L675 841.58 L675.5 841.6 L676 841.62 L676.5 841.63 L677 841.65 L677.5 841.67 L678 841.69 L678.5 841.71 L679 841.72 L679.5 841.74 L680 841.76 L680.5 841.78 L681 841.79 L681.5 841.81 L682 841.83 L682.5 841.84 L683 841.86 L683.5 841.88 L684 841.9 L684.5 841.91 L685 841.93 L685.5 841.95 L686 841.96 L686.5 841.98 L687 842 L687.5 842.01 L688 842.03 L688.5 842.05 L689 842.06 L689.5 842.08 L690 842.09 L690.5 842.11 L691 842.13 L691.5 842.14 L692 842.16 L692.5 842.17 L693 842.19 L693.5 842.21 L694 842.22 L694.5 842.24 L695 842.25 L695.5 842.27 L696 842.28 L696.5 842.3 L697 842.31 L697.5 842.33 L698 842.34 L698.5 842.36 L699 842.37 L699.5 842.39 L700 842.4 L700.5 842.42 L701 842.43 L701.5 842.45 L702 842.46 L702.5 842.48 L703 842.49 L703.5 842.51 L704 842.52 L704.5 842.54 L705 842.55 L705.5 842.56 L706 842.58 L706.5 842.59 L707 842.61 L707.5 842.62 L708 842.63 L708.5 842.65 L709 842.66 L709.5 842.68 L710 842.69 L710.5 842.7 L711 842.72 L711.5 842.73 L712 842.75 L712.5 842.76 L713 842.77 L713.5 842.79 L714 842.8 L714.5 842.81 L715 842.83 L715.5 842.84 L716 842.85 L716.5 842.87 L717 842.88 L717.5 842.89 L718 842.9 L718.5 842.92 L719 842.93 L719.5 842.94 L720 842.96 L720.5 842.97 L721 842.98 L721.5 842.99 L722 843.01 L722.5 843.02 L723 843.03 L723.5 843.05 L724 843.06 L724.5 843.07 L725 843.08 L725.5 843.09 L726 843.11 L726.5 843.12 L727 843.13 L727.5 843.14 L728 843.16 L728.5 843.17 L729 843.18 L729.5 843.19 L730 843.2 L730.5 843.22 L731 843.23 L731.5 843.24 L732 843.25 L732.5 843.26 L733 843.27 L733.5 843.29 L734 843.3 L734.5 843.31 L735 843.32 L735.5 843.33 L736 843.34 L736.5 843.36 L737 843.37 L737.5 843.38 L738 843.39 L738.5 843.4 L739 843.41 L739.5 843.42 L740 843.44 L740.5 843.45 L741 843.46 L741.5 843.47 L742 843.48 L742.5 843.49 L743 843.5 L743.5 843.51 L744 843.52 L744.5 843.53 L745 843.54 L745.5 843.56 L746 843.57 L746.5 843.58 L747 843.59 L747.5 843.6 L748 843.61 L748.5 843.62 L749 843.63 L749.5 843.64 L750 843.65 L750.5 843.66 L751 843.67 L751.5 843.68 L752 843.69 L752.5 843.7 L753 843.71 L753.5 843.72 L754 843.73 L754.5 843.74 L755 843.75 L755.5 843.76 L756 843.77 L756.5 843.78 L757 843.79 L757.5 843.8 L758 843.81 L758.5 843.82 L759 843.83 L759.5 843.84 L760 843.85 L760.5 843.86 L761 843.87 L761.5 843.88 L762 843.89 L762.5 843.9 L763 843.91 L763.5 843.92 L764 843.93 L764.5 843.94 L765 843.95 L765.5 843.96 L766 843.97 L766.5 843.98 L767 843.99 L767.5 844" stroke="#7a3f00" stroke-width="2.4" fill="none" stroke-linecap="round"/>
<text x="416.8" y="627.35" font-size="20" text-anchor="start" ><tspan font-style="italic" font-size="22">N</tspan><tspan dx="1.1" font-size="14" dy="3.4">A</tspan></text>
<text x="444.3" y="684.5" font-size="23" text-anchor="end" letter-spacing="-0.5">1.0</text>
<text x="444.3" y="771.1" font-size="23" text-anchor="end" letter-spacing="-0.5">0.5</text>
<text x="444.3" y="856.7" font-size="23" text-anchor="end" letter-spacing="-0.5">0</text>
<text x="768.4" y="874.1" font-size="21.5" text-anchor="end" ><tspan font-style="italic">I</tspan> (arb. u.)</text>
<text transform="translate(660.8 815.2) scale(1 1.2)" font-size="17.7" word-spacing="0.7"><tspan font-style="italic">I</tspan><tspan font-size="12.8" dy="1.7">max</tspan><tspan dy="-1.7">&#8203;</tspan> = <tspan letter-spacing="0.4">15</tspan><tspan font-style="italic">I</tspan><tspan font-size="12.8" dy="1.7">s</tspan><tspan dy="-1.7">&#8203;</tspan></text>
</g>
<g>
<rect x="37" y="934.55" width="322" height="211.55" fill="#fff"/>
<rect x="271.3" y="958.4" width="13.5" height="187.7" fill="#dfe0e2"/>
<path d="M77.25 934.55V1146.1M143.9 934.55V1146.1M157.75 934.55V1146.1M198 934.55V1146.1M264.4 934.55V1146.1M278.5 934.55V1146.1M318.75 934.55V1146.1M359 934.55V1146.1M63 1146.1H386M63 1103.81H386M63 1061.52H386M63 1019.23H386M63 976.94H386M63 934.55H386" stroke="#e8d1ba" stroke-width="1.8" fill="none"/>
<path d="M94 975.57 L94.2 977.13 L94.4 978.76 L94.6 980.46 L94.8 982.24 L95 984.09 L95.2 986.01 L95.4 988 L95.6 990.05 L95.8 992.21 L96 994.51 L96.2 996.94 L96.4 999.46 L96.6 1002.06 L96.8 1004.71 L97 1007.39 L97.2 1010.08 L97.4 1012.76 L97.6 1015.39 L97.8 1017.97 L98 1020.48 L98.2 1023.02 L98.4 1025.58 L98.6 1028.16 L98.8 1030.76 L99 1033.36 L99.2 1035.96 L99.4 1038.55 L99.6 1041.12 L99.8 1043.66 L100 1046.17 L100.2 1048.63 L100.4 1051.04 L100.6 1053.39 L100.8 1055.67 L101 1057.87 L101.2 1059.99 L101.4 1062.01 L101.6 1063.89 L101.8 1065.65 L102 1067.36 L102.2 1069.09 L102.4 1070.89 L102.6 1072.71 L102.8 1074.55 L103 1076.4 L103.2 1078.26 L103.4 1080.13 L103.6 1082.03 L103.8 1083.98 L104 1085.97 L104.2 1087.99 L104.4 1090.01 L104.6 1092.03 L104.8 1094.02 L105 1095.97 L105.2 1097.86 L105.4 1099.68 L105.6 1101.41 L105.8 1103.04 L106 1104.56 L106.2 1106.03 L106.4 1107.45 L106.6 1108.84 L106.8 1110.19 L107 1111.5 L107.2 1112.78 L107.4 1114.02 L107.6 1115.23 L107.8 1116.42 L108 1117.57 L108.2 1118.69 L108.4 1119.79 L108.6 1120.86 L108.8 1121.9 L109 1122.93 L109.2 1123.93 L109.4 1124.92 L109.6 1125.88 L109.8 1126.82 L110 1127.72 L110.2 1128.59 L110.4 1129.42 L110.6 1130.21 L110.8 1130.95 L111 1131.64 L111.2 1132.31 L111.4 1132.95 L111.6 1133.56 L111.8 1134.16 L112 1134.74 L112.2 1135.29 L112.4 1135.83 L112.6 1136.36 L112.8 1136.87 L113 1137.37 L113.2 1137.85 L113.4 1138.33 L113.6 1138.8 L113.8 1139.28 L114 1139.77 L114.2 1140.25 L114.4 1140.72 L114.6 1141.17 L114.8 1141.58 L115 1141.95 L115.2 1142.26 L115.4 1142.51 L115.6 1142.71 L115.8 1142.92 L116 1143.11 L116.2 1143.29 L116.4 1143.45 L116.6 1143.59 L116.8 1143.69 L117 1143.75 L117.2 1143.77 L117.4 1143.75 L117.6 1143.69 L117.8 1143.59 L118 1143.45 L118.2 1143.29 L118.4 1143.11 L118.6 1142.92 L118.8 1142.71 L119 1142.51 L119.2 1142.26 L119.4 1141.95 L119.6 1141.58 L119.8 1141.17 L120 1140.72 L120.2 1140.25 L120.4 1139.77 L120.6 1139.28 L120.8 1138.8 L121 1138.33 L121.2 1137.85 L121.4 1137.37 L121.6 1136.87 L121.8 1136.36 L122 1135.83 L122.2 1135.29 L122.4 1134.74 L122.6 1134.16 L122.8 1133.56 L123 1132.95 L123.2 1132.31 L123.4 1131.64 L123.6 1130.95 L123.8 1130.21 L124 1129.42 L124.2 1128.59 L124.4 1127.72 L124.6 1126.82 L124.8 1125.88 L125 1124.92 L125.2 1123.93 L125.4 1122.93 L125.6 1121.9 L125.8 1120.86 L126 1119.79 L126.2 1118.69 L126.4 1117.57 L126.6 1116.42 L126.8 1115.23 L127 1114.02 L127.2 1112.78 L127.4 1111.5 L127.6 1110.19 L127.8 1108.84 L128 1107.45 L128.2 1106.03 L128.4 1104.56 L128.6 1103.04 L128.8 1101.41 L129 1099.68 L129.2 1097.86 L129.4 1095.97 L129.6 1094.02 L129.8 1092.03 L130 1090.01 L130.2 1087.99 L130.4 1085.97 L130.6 1083.98 L130.8 1082.03 L131 1080.13 L131.2 1078.26 L131.4 1076.4 L131.6 1074.55 L131.8 1072.71 L132 1070.89 L132.2 1069.09 L132.4 1067.36 L132.6 1065.65 L132.8 1063.89 L133 1062.01 L133.2 1059.99 L133.4 1057.87 L133.6 1055.67 L133.8 1053.39 L134 1051.04 L134.2 1048.63 L134.4 1046.17 L134.6 1043.66 L134.8 1041.12 L135 1038.55 L135.2 1035.96 L135.4 1033.36 L135.6 1030.76 L135.8 1028.16 L136 1025.58 L136.2 1023.02 L136.4 1020.48 L136.6 1017.97 L136.8 1015.39 L137 1012.76 L137.2 1010.08 L137.4 1007.39 L137.6 1004.71 L137.8 1002.06 L138 999.46 L138.2 996.94 L138.4 994.51 L138.6 992.21 L138.8 990.05 L139 988 L139.2 986.01 L139.4 984.09 L139.6 982.24 L139.8 980.46 L140 978.76 L140.2 977.13 L140.4 975.57" stroke="#c8a27c" stroke-width="2.6" fill="none"/>
<path d="M89.2 967.6L98.4 974.2" stroke="#c8a27c" stroke-width="1.8"/>
<path d="M89.2 973L98.4 979.6" stroke="#c8a27c" stroke-width="1.8"/>
<path d="M135.6 967.6L144.8 974.2" stroke="#c8a27c" stroke-width="1.8"/>
<path d="M135.6 973L144.8 979.6" stroke="#c8a27c" stroke-width="1.8"/>
<path d="M254.4 975.57 L254.6 977.13 L254.8 978.76 L255 980.46 L255.2 982.24 L255.4 984.09 L255.6 986.01 L255.8 988 L256 990.05 L256.2 992.21 L256.4 994.51 L256.6 996.94 L256.8 999.46 L257 1002.06 L257.2 1004.71 L257.4 1007.39 L257.6 1010.08 L257.8 1012.76 L258 1015.39 L258.2 1017.97 L258.4 1020.48 L258.6 1023.02 L258.8 1025.58 L259 1028.16 L259.2 1030.76 L259.4 1033.36 L259.6 1035.96 L259.8 1038.55 L260 1041.12 L260.2 1043.66 L260.4 1046.17 L260.6 1048.63 L260.8 1051.04 L261 1053.39 L261.2 1055.67 L261.4 1057.87 L261.6 1059.99 L261.8 1062.01 L262 1063.89 L262.2 1065.65 L262.4 1067.36 L262.6 1069.09 L262.8 1070.89 L263 1072.71 L263.2 1074.55 L263.4 1076.4 L263.6 1078.26 L263.8 1080.13 L264 1082.03 L264.2 1083.98 L264.4 1085.97 L264.6 1087.99 L264.8 1090.01 L265 1092.03 L265.2 1094.02 L265.4 1095.97 L265.6 1097.86 L265.8 1099.68 L266 1101.41 L266.2 1103.04 L266.4 1104.56 L266.6 1106.03 L266.8 1107.45 L267 1108.84 L267.2 1110.19 L267.4 1111.5 L267.6 1112.78 L267.8 1114.02 L268 1115.23 L268.2 1116.42 L268.4 1117.57 L268.6 1118.69 L268.8 1119.79 L269 1120.86 L269.2 1121.9 L269.4 1122.93 L269.6 1123.93 L269.8 1124.92 L270 1125.88 L270.2 1126.82 L270.4 1127.72 L270.6 1128.59 L270.8 1129.42 L271 1130.21 L271.2 1130.95 L271.4 1131.64 L271.6 1132.31 L271.8 1132.95 L272 1133.56 L272.2 1134.16 L272.4 1134.74 L272.6 1135.29 L272.8 1135.83 L273 1136.36 L273.2 1136.87 L273.4 1137.37 L273.6 1137.85 L273.8 1138.33 L274 1138.8 L274.2 1139.28 L274.4 1139.77 L274.6 1140.25 L274.8 1140.72 L275 1141.17 L275.2 1141.58 L275.4 1141.95 L275.6 1142.26 L275.8 1142.51 L276 1142.71 L276.2 1142.92 L276.4 1143.11 L276.6 1143.29 L276.8 1143.45 L277 1143.59 L277.2 1143.69 L277.4 1143.75 L277.6 1143.77 L277.8 1143.75 L278 1143.69 L278.2 1143.59 L278.4 1143.45 L278.6 1143.29 L278.8 1143.11 L279 1142.92 L279.2 1142.71 L279.4 1142.51 L279.6 1142.26 L279.8 1141.95 L280 1141.58 L280.2 1141.17 L280.4 1140.72 L280.6 1140.25 L280.8 1139.77 L281 1139.28 L281.2 1138.8 L281.4 1138.33 L281.6 1137.85 L281.8 1137.37 L282 1136.87 L282.2 1136.36 L282.4 1135.83 L282.6 1135.29 L282.8 1134.74 L283 1134.16 L283.2 1133.56 L283.4 1132.95 L283.6 1132.31 L283.8 1131.64 L284 1130.95 L284.2 1130.21 L284.4 1129.42 L284.6 1128.59 L284.8 1127.72 L285 1126.82 L285.2 1125.88 L285.4 1124.92 L285.6 1123.93 L285.8 1122.93 L286 1121.9 L286.2 1120.86 L286.4 1119.79 L286.6 1118.69 L286.8 1117.57 L287 1116.42 L287.2 1115.23 L287.4 1114.02 L287.6 1112.78 L287.8 1111.5 L288 1110.19 L288.2 1108.84 L288.4 1107.45 L288.6 1106.03 L288.8 1104.56 L289 1103.04 L289.2 1101.41 L289.4 1099.68 L289.6 1097.86 L289.8 1095.97 L290 1094.02 L290.2 1092.03 L290.4 1090.01 L290.6 1087.99 L290.8 1085.97 L291 1083.98 L291.2 1082.03 L291.4 1080.13 L291.6 1078.26 L291.8 1076.4 L292 1074.55 L292.2 1072.71 L292.4 1070.89 L292.6 1069.09 L292.8 1067.36 L293 1065.65 L293.2 1063.89 L293.4 1062.01 L293.6 1059.99 L293.8 1057.87 L294 1055.67 L294.2 1053.39 L294.4 1051.04 L294.6 1048.63 L294.8 1046.17 L295 1043.66 L295.2 1041.12 L295.4 1038.55 L295.6 1035.96 L295.8 1033.36 L296 1030.76 L296.2 1028.16 L296.4 1025.58 L296.6 1023.02 L296.8 1020.48 L297 1017.97 L297.2 1015.39 L297.4 1012.76 L297.6 1010.08 L297.8 1007.39 L298 1004.71 L298.2 1002.06 L298.4 999.46 L298.6 996.94 L298.8 994.51 L299 992.21 L299.2 990.05 L299.4 988 L299.6 986.01 L299.8 984.09 L300 982.24 L300.2 980.46 L300.4 978.76 L300.6 977.13 L300.8 975.57" stroke="#c8a27c" stroke-width="2.6" fill="none"/>
<path d="M249.6 967.6L258.8 974.2" stroke="#c8a27c" stroke-width="1.8"/>
<path d="M249.6 973L258.8 979.6" stroke="#c8a27c" stroke-width="1.8"/>
<path d="M296 967.6L305.2 974.2" stroke="#c8a27c" stroke-width="1.8"/>
<path d="M296 973L305.2 979.6" stroke="#c8a27c" stroke-width="1.8"/>
<path d="M37 1144.12 L37.25 1144.12 L37.5 1144.12 L37.75 1144.12 L38 1144.12 L38.25 1144.12 L38.5 1144.12 L38.75 1144.12 L39 1144.12 L39.25 1144.12 L39.5 1144.12 L39.75 1144.12 L40 1144.12 L40.25 1144.12 L40.5 1144.12 L40.75 1144.12 L41 1144.12 L41.25 1144.12 L41.5 1144.12 L41.75 1144.12 L42 1144.12 L42.25 1144.12 L42.5 1144.12 L42.75 1144.12 L43 1144.12 L43.25 1144.12 L43.5 1144.12 L43.75 1144.12 L44 1144.12 L44.25 1144.12 L44.5 1144.12 L44.75 1144.12 L45 1144.12 L45.25 1144.12 L45.5 1144.12 L45.75 1144.12 L46 1144.12 L46.25 1144.12 L46.5 1144.12 L46.75 1144.12 L47 1144.12 L47.25 1144.12 L47.5 1144.12 L47.75 1144.12 L48 1144.12 L48.25 1144.12 L48.5 1144.12 L48.75 1144.12 L49 1144.12 L49.25 1144.12 L49.5 1144.12 L49.75 1144.12 L50 1144.12 L50.25 1144.12 L50.5 1144.12 L50.75 1144.12 L51 1144.12 L51.25 1144.12 L51.5 1144.12 L51.75 1144.12 L52 1144.12 L52.25 1144.12 L52.5 1144.12 L52.75 1144.12 L53 1144.12 L53.25 1144.12 L53.5 1144.12 L53.75 1144.12 L54 1144.12 L54.25 1144.12 L54.5 1144.12 L54.75 1144.12 L55 1144.12 L55.25 1144.12 L55.5 1144.12 L55.75 1144.12 L56 1144.12 L56.25 1144.12 L56.5 1144.12 L56.75 1144.12 L57 1144.12 L57.25 1144.12 L57.5 1144.12 L57.75 1144.12 L58 1144.12 L58.25 1144.12 L58.5 1144.12 L58.75 1144.12 L59 1144.12 L59.25 1144.12 L59.5 1144.12 L59.75 1144.12 L60 1144.12 L60.25 1144.12 L60.5 1144.12 L60.75 1144.12 L61 1144.12 L61.25 1144.12 L61.5 1144.12 L61.75 1144.12 L62 1144.12 L62.25 1144.12 L62.5 1144.11 L62.75 1144.11 L63 1144.11 L63.25 1144.11 L63.5 1144.11 L63.75 1144.11 L64 1144.11 L64.25 1144.11 L64.5 1144.11 L64.75 1144.11 L65 1144.11 L65.25 1144.11 L65.5 1144.11 L65.75 1144.11 L66 1144.11 L66.25 1144.11 L66.5 1144.11 L66.75 1144.11 L67 1144.11 L67.25 1144.11 L67.5 1144.11 L67.75 1144.11 L68 1144.11 L68.25 1144.11 L68.5 1144.11 L68.75 1144.1 L69 1144.1 L69.25 1144.1 L69.5 1144.1 L69.75 1144.1 L70 1144.1 L70.25 1144.1 L70.5 1144.1 L70.75 1144.1 L71 1144.1 L71.25 1144.1 L71.5 1144.1 L71.75 1144.1 L72 1144.09 L72.25 1144.09 L72.5 1144.09 L72.75 1144.09 L73 1144.09 L73.25 1144.09 L73.5 1144.09 L73.75 1144.09 L74 1144.09 L74.25 1144.09 L74.5 1144.08 L74.75 1144.08 L75 1144.08 L75.25 1144.08 L75.5 1144.08 L75.75 1144.08 L76 1144.08 L76.25 1144.07 L76.5 1144.07 L76.75 1144.07 L77 1144.07 L77.25 1144.07 L77.5 1144.06 L77.75 1144.06 L78 1144.06 L78.25 1144.06 L78.5 1144.06 L78.75 1144.05 L79 1144.05 L79.25 1144.05 L79.5 1144.05 L79.75 1144.04 L80 1144.04 L80.25 1144.04 L80.5 1144.03 L80.75 1144.03 L81 1144.03 L81.25 1144.02 L81.5 1144.02 L81.75 1144.01 L82 1144.01 L82.25 1144 L82.5 1144 L82.75 1144 L83 1143.99 L83.25 1143.98 L83.5 1143.98 L83.75 1143.97 L84 1143.97 L84.25 1143.96 L84.5 1143.95 L84.75 1143.95 L85 1143.94 L85.25 1143.93 L85.5 1143.92 L85.75 1143.91 L86 1143.9 L86.25 1143.89 L86.5 1143.88 L86.75 1143.87 L87 1143.86 L87.25 1143.85 L87.5 1143.84 L87.75 1143.82 L88 1143.81 L88.25 1143.8 L88.5 1143.78 L88.75 1143.76 L89 1143.75 L89.25 1143.73 L89.5 1143.71 L89.75 1143.69 L90 1143.66 L90.25 1143.64 L90.5 1143.61 L90.75 1143.57 L91 1143.53 L91.25 1143.49 L91.5 1143.44 L91.75 1143.38 L92 1143.33 L92.25 1143.27 L92.5 1143.2 L92.75 1143.14 L93 1143.07 L93.25 1143 L93.5 1142.92 L93.75 1142.85 L94 1142.77 L94.25 1142.69 L94.5 1142.6 L94.75 1142.51 L95 1142.42 L95.25 1142.31 L95.5 1142.2 L95.75 1142.09 L96 1141.96 L96.25 1141.83 L96.5 1141.7 L96.75 1141.55 L97 1141.4 L97.25 1141.24 L97.5 1141.07 L97.75 1140.88 L98 1140.69 L98.25 1140.49 L98.5 1140.27 L98.75 1140.05 L99 1139.8 L99.25 1139.55 L99.5 1139.27 L99.75 1138.98 L100 1138.68 L100.25 1138.36 L100.5 1138.03 L100.75 1137.69 L101 1137.33 L101.25 1136.94 L101.5 1136.53 L101.75 1136.08 L102 1135.6 L102.25 1135.08 L102.5 1134.51 L102.75 1133.9 L103 1133.22 L103.25 1132.49 L103.5 1131.7 L103.75 1130.83 L104 1129.93 L104.25 1128.98 L104.5 1127.96 L104.75 1126.85 L105 1125.61 L105.25 1124.24 L105.5 1122.7 L105.75 1120.93 L106 1118.81 L106.25 1116.38 L106.5 1113.74 L106.75 1110.95 L107 1108.09 L107.25 1105.24 L107.5 1102.42 L107.75 1099.49 L108 1096.41 L108.25 1093.2 L108.5 1089.85 L108.75 1086.38 L109 1082.78 L109.25 1079.15 L109.5 1076.04 L109.75 1073.1 L110 1069.77 L110.25 1066.01 L110.5 1062 L110.75 1057.65 L111 1053.18 L111.25 1048.61 L111.5 1044 L111.75 1039.36 L112 1034.73 L112.25 1030.16 L112.5 1025.66 L112.75 1021.29 L113 1017.05 L113.25 1012.94 L113.5 1008.96 L113.75 1005.14 L114 1001.5 L114.25 998.06 L114.5 994.83 L114.75 991.82 L115 989.07 L115.25 986.55 L115.5 984.28 L115.75 982.24 L116 980.45 L116.25 978.89 L116.5 977.55 L116.75 976.45 L117 975.56 L117.25 974.89 L117.5 974.43 L117.75 974.17 L118 974.11 L118.25 974.25 L118.5 974.59 L118.75 975.13 L119 975.89 L119.25 976.86 L119.5 978.06 L119.75 979.48 L120 981.14 L120.25 983.03 L120.5 985.16 L120.75 987.53 L121 990.14 L121.25 993 L121.5 996.09 L121.75 999.41 L122 1002.93 L122.25 1006.65 L122.5 1010.53 L122.75 1014.57 L123 1018.73 L123.25 1023.02 L123.5 1027.45 L123.75 1031.98 L124 1036.58 L124.25 1041.21 L124.5 1045.85 L124.75 1050.45 L125 1054.98 L125.25 1059.41 L125.5 1063.65 L125.75 1067.53 L126 1071.18 L126.25 1074.29 L126.5 1077.23 L126.75 1080.57 L127 1084.23 L127.25 1087.78 L127.5 1091.21 L127.75 1094.5 L128 1097.66 L128.25 1100.68 L128.5 1103.56 L128.75 1106.37 L129 1109.23 L129.25 1112.08 L129.5 1114.82 L129.75 1117.38 L130 1119.7 L130.25 1121.68 L130.5 1123.34 L130.75 1124.81 L131 1126.12 L131.25 1127.31 L131.5 1128.38 L131.75 1129.37 L132 1130.3 L132.25 1131.18 L132.5 1132.02 L132.75 1132.79 L133 1133.5 L133.25 1134.15 L133.5 1134.74 L133.75 1135.29 L134 1135.8 L134.25 1136.26 L134.5 1136.69 L134.75 1137.1 L135 1137.47 L135.25 1137.83 L135.5 1138.17 L135.75 1138.49 L136 1138.8 L136.25 1139.1 L136.5 1139.38 L136.75 1139.65 L137 1139.9 L137.25 1140.14 L137.5 1140.36 L137.75 1140.57 L138 1140.77 L138.25 1140.96 L138.5 1141.13 L138.75 1141.3 L139 1141.46 L139.25 1141.61 L139.5 1141.75 L139.75 1141.89 L140 1142.01 L140.25 1142.13 L140.5 1142.25 L140.75 1142.35 L141 1142.46 L141.25 1142.55 L141.5 1142.64 L141.75 1142.72 L142 1142.8 L142.25 1142.88 L142.5 1142.95 L142.75 1143.03 L143 1143.1 L143.25 1143.17 L143.5 1143.23 L143.75 1143.29 L144 1143.35 L144.25 1143.41 L144.5 1143.46 L144.75 1143.5 L145 1143.55 L145.25 1143.59 L145.5 1143.62 L145.75 1143.65 L146 1143.67 L146.25 1143.7 L146.5 1143.72 L146.75 1143.73 L147 1143.75 L147.25 1143.77 L147.5 1143.79 L147.75 1143.8 L148 1143.82 L148.25 1143.83 L148.5 1143.84 L148.75 1143.86 L149 1143.87 L149.25 1143.88 L149.5 1143.89 L149.75 1143.9 L150 1143.91 L150.25 1143.92 L150.5 1143.93 L150.75 1143.93 L151 1143.94 L151.25 1143.95 L151.5 1143.96 L151.75 1143.96 L152 1143.97 L152.25 1143.98 L152.5 1143.98 L152.75 1143.99 L153 1143.99 L153.25 1144 L153.5 1144 L153.75 1144.01 L154 1144.01 L154.25 1144.02 L154.5 1144.02 L154.75 1144.02 L155 1144.03 L155.25 1144.03 L155.5 1144.03 L155.75 1144.04 L156 1144.04 L156.25 1144.04 L156.5 1144.05 L156.75 1144.05 L157 1144.05 L157.25 1144.05 L157.5 1144.06 L157.75 1144.06 L158 1144.06 L158.25 1144.06 L158.5 1144.07 L158.75 1144.07 L159 1144.07 L159.25 1144.07 L159.5 1144.07 L159.75 1144.07 L160 1144.08 L160.25 1144.08 L160.5 1144.08 L160.75 1144.08 L161 1144.08 L161.25 1144.08 L161.5 1144.08 L161.75 1144.09 L162 1144.09 L162.25 1144.09 L162.5 1144.09 L162.75 1144.09 L163 1144.09 L163.25 1144.09 L163.5 1144.09 L163.75 1144.09 L164 1144.1 L164.25 1144.1 L164.5 1144.1 L164.75 1144.1 L165 1144.1 L165.25 1144.1 L165.5 1144.1 L165.75 1144.1 L166 1144.1 L166.25 1144.1 L166.5 1144.1 L166.75 1144.1 L167 1144.1 L167.25 1144.1 L167.5 1144.11 L167.75 1144.11 L168 1144.11 L168.25 1144.11 L168.5 1144.11 L168.75 1144.11 L169 1144.11 L169.25 1144.11 L169.5 1144.11 L169.75 1144.11 L170 1144.11 L170.25 1144.11 L170.5 1144.11 L170.75 1144.11 L171 1144.11 L171.25 1144.11 L171.5 1144.11 L171.75 1144.11 L172 1144.11 L172.25 1144.11 L172.5 1144.11 L172.75 1144.11 L173 1144.11 L173.25 1144.11 L173.5 1144.11 L173.75 1144.12 L174 1144.12 L174.25 1144.12 L174.5 1144.12 L174.75 1144.12 L175 1144.12 L175.25 1144.12 L175.5 1144.12 L175.75 1144.12 L176 1144.12 L176.25 1144.12 L176.5 1144.12 L176.75 1144.12 L177 1144.12 L177.25 1144.12 L177.5 1144.12 L177.75 1144.12 L178 1144.12 L178.25 1144.12 L178.5 1144.12 L178.75 1144.12 L179 1144.12 L179.25 1144.12 L179.5 1144.12 L179.75 1144.12 L180 1144.12 L180.25 1144.12 L180.5 1144.12 L180.75 1144.12 L181 1144.12 L181.25 1144.12 L181.5 1144.12 L181.75 1144.12 L182 1144.12 L182.25 1144.12 L182.5 1144.12 L182.75 1144.12 L183 1144.12 L183.25 1144.12 L183.5 1144.12 L183.75 1144.12 L184 1144.12 L184.25 1144.12 L184.5 1144.12 L184.75 1144.12 L185 1144.12 L185.25 1144.12 L185.5 1144.12 L185.75 1144.12 L186 1144.12 L186.25 1144.12 L186.5 1144.12 L186.75 1144.12 L187 1144.12 L187.25 1144.12 L187.5 1144.12 L187.75 1144.12 L188 1144.12 L188.25 1144.12 L188.5 1144.12 L188.75 1144.12 L189 1144.12 L189.25 1144.12 L189.5 1144.12 L189.75 1144.12 L190 1144.12 L190.25 1144.12 L190.5 1144.12 L190.75 1144.12 L191 1144.12 L191.25 1144.12 L191.5 1144.12 L191.75 1144.12 L192 1144.12 L192.25 1144.12 L192.5 1144.12 L192.75 1144.12 L193 1144.12 L193.25 1144.12 L193.5 1144.12 L193.75 1144.12 L194 1144.12 L194.25 1144.12 L194.5 1144.12 L194.75 1144.12 L195 1144.12 L195.25 1144.12 L195.5 1144.12 L195.75 1144.12 L196 1144.12 L196.25 1144.12 L196.5 1144.12 L196.75 1144.12 L197 1144.12 L197.25 1144.12 L197.5 1144.12 L197.75 1144.12 L198 1144.12 L198.25 1144.12 L198.5 1144.12 L198.75 1144.12 L199 1144.12 L199.25 1144.12 L199.5 1144.12 L199.75 1144.12 L200 1144.12 L200.25 1144.12 L200.5 1144.12 L200.75 1144.12 L201 1144.12 L201.25 1144.12 L201.5 1144.12 L201.75 1144.12 L202 1144.12 L202.25 1144.12 L202.5 1144.12 L202.75 1144.12 L203 1144.12 L203.25 1144.12 L203.5 1144.12 L203.75 1144.12 L204 1144.12 L204.25 1144.12 L204.5 1144.12 L204.75 1144.12 L205 1144.12 L205.25 1144.12 L205.5 1144.12 L205.75 1144.12 L206 1144.12 L206.25 1144.12 L206.5 1144.12 L206.75 1144.12 L207 1144.12 L207.25 1144.12 L207.5 1144.12 L207.75 1144.12 L208 1144.12 L208.25 1144.12 L208.5 1144.12 L208.75 1144.12 L209 1144.12 L209.25 1144.12 L209.5 1144.12 L209.75 1144.12 L210 1144.12 L210.25 1144.12 L210.5 1144.12 L210.75 1144.12 L211 1144.12 L211.25 1144.12 L211.5 1144.12 L211.75 1144.12 L212 1144.12 L212.25 1144.12 L212.5 1144.12 L212.75 1144.12 L213 1144.12 L213.25 1144.12 L213.5 1144.12 L213.75 1144.12 L214 1144.12 L214.25 1144.12 L214.5 1144.12 L214.75 1144.12 L215 1144.12 L215.25 1144.12 L215.5 1144.12 L215.75 1144.12 L216 1144.12 L216.25 1144.12 L216.5 1144.12 L216.75 1144.12 L217 1144.12 L217.25 1144.12 L217.5 1144.12 L217.75 1144.12 L218 1144.12 L218.25 1144.12 L218.5 1144.12 L218.75 1144.12 L219 1144.12 L219.25 1144.12 L219.5 1144.12 L219.75 1144.12 L220 1144.12 L220.25 1144.12 L220.5 1144.12 L220.75 1144.12 L221 1144.12 L221.25 1144.12 L221.5 1144.12 L221.75 1144.12 L222 1144.12 L222.25 1144.12 L222.5 1144.12 L222.75 1144.12 L223 1144.12 L223.25 1144.12 L223.5 1144.12 L223.75 1144.12 L224 1144.12 L224.25 1144.12 L224.5 1144.12 L224.75 1144.11 L225 1144.11 L225.25 1144.11 L225.5 1144.11 L225.75 1144.11 L226 1144.11 L226.25 1144.11 L226.5 1144.11 L226.75 1144.11 L227 1144.11 L227.25 1144.11 L227.5 1144.11 L227.75 1144.11 L228 1144.11 L228.25 1144.11 L228.5 1144.11 L228.75 1144.11 L229 1144.11 L229.25 1144.11 L229.5 1144.11 L229.75 1144.11 L230 1144.11 L230.25 1144.11 L230.5 1144.11 L230.75 1144.11 L231 1144.11 L231.25 1144.1 L231.5 1144.1 L231.75 1144.1 L232 1144.1 L232.25 1144.1 L232.5 1144.1 L232.75 1144.1 L233 1144.1 L233.25 1144.1 L233.5 1144.1 L233.75 1144.1 L234 1144.1 L234.25 1144.1 L234.5 1144.09 L234.75 1144.09 L235 1144.09 L235.25 1144.09 L235.5 1144.09 L235.75 1144.09 L236 1144.09 L236.25 1144.09 L236.5 1144.09 L236.75 1144.09 L237 1144.08 L237.25 1144.08 L237.5 1144.08 L237.75 1144.08 L238 1144.08 L238.25 1144.08 L238.5 1144.07 L238.75 1144.07 L239 1144.07 L239.25 1144.07 L239.5 1144.07 L239.75 1144.07 L240 1144.06 L240.25 1144.06 L240.5 1144.06 L240.75 1144.06 L241 1144.05 L241.25 1144.05 L241.5 1144.05 L241.75 1144.05 L242 1144.04 L242.25 1144.04 L242.5 1144.04 L242.75 1144.03 L243 1144.03 L243.25 1144.03 L243.5 1144.02 L243.75 1144.02 L244 1144.01 L244.25 1144.01 L244.5 1144.01 L244.75 1144 L245 1144 L245.25 1143.99 L245.5 1143.98 L245.75 1143.98 L246 1143.97 L246.25 1143.97 L246.5 1143.96 L246.75 1143.95 L247 1143.94 L247.25 1143.94 L247.5 1143.93 L247.75 1143.92 L248 1143.91 L248.25 1143.9 L248.5 1143.89 L248.75 1143.88 L249 1143.87 L249.25 1143.85 L249.5 1143.84 L249.75 1143.83 L250 1143.81 L250.25 1143.8 L250.5 1143.78 L250.75 1143.76 L251 1143.75 L251.25 1143.73 L251.5 1143.71 L251.75 1143.68 L252 1143.66 L252.25 1143.63 L252.5 1143.6 L252.75 1143.56 L253 1143.51 L253.25 1143.46 L253.5 1143.41 L253.75 1143.35 L254 1143.29 L254.25 1143.23 L254.5 1143.16 L254.75 1143.08 L255 1143.01 L255.25 1142.93 L255.5 1142.85 L255.75 1142.77 L256 1142.68 L256.25 1142.59 L256.5 1142.49 L256.75 1142.39 L257 1142.28 L257.25 1142.16 L257.5 1142.04 L257.75 1141.9 L258 1141.76 L258.25 1141.61 L258.5 1141.45 L258.75 1141.28 L259 1141.1 L259.25 1140.91 L259.5 1140.71 L259.75 1140.5 L260 1140.27 L260.25 1140.02 L260.5 1139.76 L260.75 1139.49 L261 1139.19 L261.25 1138.87 L261.5 1138.55 L261.75 1138.21 L262 1137.85 L262.25 1137.47 L262.5 1137.07 L262.75 1136.63 L263 1136.17 L263.25 1135.66 L263.5 1135.11 L263.75 1134.5 L264 1133.84 L264.25 1133.12 L264.5 1132.33 L264.75 1131.46 L265 1130.52 L265.25 1129.54 L265.5 1128.49 L265.75 1127.35 L266 1126.08 L266.25 1124.67 L266.5 1123.07 L266.75 1121.23 L267 1119.01 L267.25 1116.43 L267.5 1113.59 L267.75 1110.59 L268 1107.52 L268.25 1104.48 L268.5 1101.44 L268.75 1098.24 L269 1094.88 L269.25 1091.36 L269.5 1087.69 L269.75 1083.87 L270 1079.94 L270.25 1076.49 L270.5 1073.34 L270.75 1069.8 L271 1065.76 L271.25 1061.41 L271.5 1056.71 L271.75 1051.88 L272 1046.96 L272.25 1041.98 L272.5 1037 L272.75 1032.06 L273 1027.19 L273.25 1022.45 L273.5 1017.87 L273.75 1013.43 L274 1009.14 L274.25 1005.03 L274.5 1001.13 L274.75 997.46 L275 994.04 L275.25 990.89 L275.5 988.02 L275.75 985.43 L276 983.12 L276.25 981.09 L276.5 979.32 L276.75 977.83 L277 976.59 L277.25 975.62 L277.5 974.88 L277.75 974.4 L278 974.15 L278.25 974.12 L278.5 974.33 L278.75 974.77 L279 975.45 L279.25 976.38 L279.5 977.56 L279.75 979 L280 980.71 L280.25 982.69 L280.5 984.95 L280.75 987.48 L281 990.3 L281.25 993.39 L281.5 996.76 L281.75 1000.38 L282 1004.24 L282.25 1008.3 L282.5 1012.56 L282.75 1016.97 L283 1021.52 L283.25 1026.24 L283.5 1031.08 L283.75 1036.01 L284 1040.99 L284.25 1045.96 L284.5 1050.9 L284.75 1055.75 L285 1060.48 L285.25 1064.92 L285.5 1069 L285.75 1072.69 L286 1075.86 L286.25 1079.19 L286.5 1083.09 L286.75 1086.93 L287 1090.63 L287.25 1094.18 L287.5 1097.58 L287.75 1100.81 L288 1103.89 L288.25 1106.91 L288.5 1109.98 L288.75 1113 L289 1115.88 L289.25 1118.52 L289.5 1120.82 L289.75 1122.72 L290 1124.36 L290.25 1125.81 L290.5 1127.11 L290.75 1128.27 L291 1129.33 L291.25 1130.33 L291.5 1131.27 L291.75 1132.16 L292 1132.97 L292.25 1133.7 L292.5 1134.38 L292.75 1134.99 L293 1135.55 L293.25 1136.07 L293.5 1136.54 L293.75 1136.98 L294 1137.39 L294.25 1137.77 L294.5 1138.14 L294.75 1138.48 L295 1138.81 L295.25 1139.13 L295.5 1139.43 L295.75 1139.71 L296 1139.97 L296.25 1140.22 L296.5 1140.45 L296.75 1140.67 L297 1140.87 L297.25 1141.07 L297.5 1141.25 L297.75 1141.42 L298 1141.58 L298.25 1141.73 L298.5 1141.88 L298.75 1142.01 L299 1142.14 L299.25 1142.26 L299.5 1142.37 L299.75 1142.47 L300 1142.57 L300.25 1142.66 L300.5 1142.75 L300.75 1142.83 L301 1142.92 L301.25 1142.99 L301.5 1143.07 L301.75 1143.14 L302 1143.21 L302.25 1143.28 L302.5 1143.34 L302.75 1143.4 L303 1143.45 L303.25 1143.5 L303.5 1143.55 L303.75 1143.59 L304 1143.62 L304.25 1143.65 L304.5 1143.68 L304.75 1143.7 L305 1143.72 L305.25 1143.74 L305.5 1143.76 L305.75 1143.78 L306 1143.79 L306.25 1143.81 L306.5 1143.82 L306.75 1143.84 L307 1143.85 L307.25 1143.86 L307.5 1143.88 L307.75 1143.89 L308 1143.9 L308.25 1143.91 L308.5 1143.92 L308.75 1143.93 L309 1143.93 L309.25 1143.94 L309.5 1143.95 L309.75 1143.96 L310 1143.96 L310.25 1143.97 L310.5 1143.98 L310.75 1143.98 L311 1143.99 L311.25 1143.99 L311.5 1144 L311.75 1144 L312 1144.01 L312.25 1144.01 L312.5 1144.02 L312.75 1144.02 L313 1144.03 L313.25 1144.03 L313.5 1144.03 L313.75 1144.04 L314 1144.04 L314.25 1144.04 L314.5 1144.05 L314.75 1144.05 L315 1144.05 L315.25 1144.05 L315.5 1144.06 L315.75 1144.06 L316 1144.06 L316.25 1144.06 L316.5 1144.07 L316.75 1144.07 L317 1144.07 L317.25 1144.07 L317.5 1144.07 L317.75 1144.07 L318 1144.08 L318.25 1144.08 L318.5 1144.08 L318.75 1144.08 L319 1144.08 L319.25 1144.08 L319.5 1144.08 L319.75 1144.09 L320 1144.09 L320.25 1144.09 L320.5 1144.09 L320.75 1144.09 L321 1144.09 L321.25 1144.09 L321.5 1144.09 L321.75 1144.09 L322 1144.1 L322.25 1144.1 L322.5 1144.1 L322.75 1144.1 L323 1144.1 L323.25 1144.1 L323.5 1144.1 L323.75 1144.1 L324 1144.1 L324.25 1144.1 L324.5 1144.1 L324.75 1144.1 L325 1144.1 L325.25 1144.1 L325.5 1144.11 L325.75 1144.11 L326 1144.11 L326.25 1144.11 L326.5 1144.11 L326.75 1144.11 L327 1144.11 L327.25 1144.11 L327.5 1144.11 L327.75 1144.11 L328 1144.11 L328.25 1144.11 L328.5 1144.11 L328.75 1144.11 L329 1144.11 L329.25 1144.11 L329.5 1144.11 L329.75 1144.11 L330 1144.11 L330.25 1144.11 L330.5 1144.11 L330.75 1144.11 L331 1144.11 L331.25 1144.11 L331.5 1144.11 L331.75 1144.12 L332 1144.12 L332.25 1144.12 L332.5 1144.12 L332.75 1144.12 L333 1144.12 L333.25 1144.12 L333.5 1144.12 L333.75 1144.12 L334 1144.12 L334.25 1144.12 L334.5 1144.12 L334.75 1144.12 L335 1144.12 L335.25 1144.12 L335.5 1144.12 L335.75 1144.12 L336 1144.12 L336.25 1144.12 L336.5 1144.12 L336.75 1144.12 L337 1144.12 L337.25 1144.12 L337.5 1144.12 L337.75 1144.12 L338 1144.12 L338.25 1144.12 L338.5 1144.12 L338.75 1144.12 L339 1144.12 L339.25 1144.12 L339.5 1144.12 L339.75 1144.12 L340 1144.12 L340.25 1144.12 L340.5 1144.12 L340.75 1144.12 L341 1144.12 L341.25 1144.12 L341.5 1144.12 L341.75 1144.12 L342 1144.12 L342.25 1144.12 L342.5 1144.12 L342.75 1144.12 L343 1144.12 L343.25 1144.12 L343.5 1144.12 L343.75 1144.12 L344 1144.12 L344.25 1144.12 L344.5 1144.12 L344.75 1144.12 L345 1144.12 L345.25 1144.12 L345.5 1144.12 L345.75 1144.12 L346 1144.12 L346.25 1144.12 L346.5 1144.12 L346.75 1144.12 L347 1144.12 L347.25 1144.12 L347.5 1144.12 L347.75 1144.12 L348 1144.12 L348.25 1144.12 L348.5 1144.12 L348.75 1144.12 L349 1144.12 L349.25 1144.12 L349.5 1144.12 L349.75 1144.12 L350 1144.12 L350.25 1144.12 L350.5 1144.12 L350.75 1144.12 L351 1144.12 L351.25 1144.12 L351.5 1144.12 L351.75 1144.12 L352 1144.12 L352.25 1144.12 L352.5 1144.12 L352.75 1144.12 L353 1144.12 L353.25 1144.12 L353.5 1144.12 L353.75 1144.12 L354 1144.12 L354.25 1144.12 L354.5 1144.12 L354.75 1144.12 L355 1144.12 L355.25 1144.12 L355.5 1144.12 L355.75 1144.12 L356 1144.12 L356.25 1144.12 L356.5 1144.12 L356.75 1144.12 L357 1144.12 L357.25 1144.12 L357.5 1144.12 L357.75 1144.12 L358 1144.12 L358.25 1144.12" stroke="#7a3f00" stroke-width="2.6" fill="none" stroke-linecap="round" stroke-linejoin="round"/>
<path d="M35.6 1061.52H359M35.6 1122.3H359M271.3 958.4V1146.1M284.8 958.4V1146.1" stroke="#231f20" stroke-width="1.25" fill="none" stroke-dasharray="7 5" stroke-opacity="0.85"/>
<path d="M37 946.55V1146.1H349" stroke="#231f20" stroke-width="1.9" fill="none"/>
<path d="M37 934.55l-4.1 15.8h8.2z"/>
<path d="M359 1146.1l-16 -4.2v8.4z"/>
<path d="M271.3 1146.1V1166.3 M284.8 1146.1V1166.3 M248.4 1160.7H266.3 M289.8 1160.7H308.3" stroke="#231f20" stroke-width="1" fill="none"/>
<path d="M270.6 1160.7l-8.5 -2.3v4.6z"/>
<path d="M285.5 1160.7l8.5 -2.3v4.6z"/>
<text transform="translate(15.2 923.15) scale(0.98 1.1)" font-family="'Liberation Sans', sans-serif" font-weight="bold" font-size="21.5" fill="#7d4408">d</text>
<text x="28.5" y="923.15" font-family="'Liberation Sans', sans-serif" font-weight="bold" font-size="21.5" fill="#7d4408">)</text>
<text x="42.3" y="923.45" font-size="20.5" text-anchor="start" ><tspan letter-spacing="0.8"><tspan font-style="italic">I</tspan>/<tspan font-style="italic">I</tspan></tspan><tspan font-size="15.5" dy="4.3">s</tspan><tspan dy="-4.3">&#8203;</tspan></text>
<text x="28" y="1151.7" font-size="22.6" text-anchor="end" >0</text>
<text x="28" y="1109.41" font-size="22.6" text-anchor="end" >2</text>
<text x="28" y="1067.12" font-size="22.6" text-anchor="end" >4</text>
<text x="28" y="1024.83" font-size="22.6" text-anchor="end" >6</text>
<text x="28" y="982.54" font-size="22.6" text-anchor="end" >8</text>
<text x="36.3" y="1168.7" font-size="22.6" text-anchor="middle" >0</text>
<text x="372.6" y="1168.8" font-size="23" text-anchor="end" letter-spacing="-0.5">1.0</text>
<text x="372.6" y="1191.7" font-size="21.5" text-anchor="end" letter-spacing="0.6"><tspan font-style="italic">r</tspan>/<tspan font-style="italic">λ</tspan></text>
<text x="93" y="958.6" font-size="18.5" text-anchor="start" ><tspan font-style="italic">N</tspan><tspan font-size="12.3" dy="2.5">A</tspan><tspan dy="-2.5">&#8203;</tspan>(<tspan font-style="italic">r</tspan>)</text>
<text x="145.2" y="1001" font-size="18.7" text-anchor="start" ><tspan font-style="italic">I</tspan><tspan dx="1.6">(</tspan><tspan font-style="italic">r</tspan>)</text>
<text x="277.5" y="953.5" font-size="18.7" text-anchor="middle" >FWHM</text>
</g>
<g>
<rect x="453" y="934.55" width="314" height="211.55" fill="#fff"/>
<path d="M505.33 934.55V1146.1M557.67 934.55V1146.1M610 934.55V1146.1M662.33 934.55V1146.1M714.67 934.55V1146.1M767 934.55V1146.1" stroke="#e8d1ba" stroke-width="1.5" fill="none"/>
<path d="M453 973.1H767M453 1059.7H767" stroke="#e8d1ba" stroke-width="1.8" fill="none"/>
<path d="M732.7 1085.7H741V1116.3H745L737 1124.5L729 1116.3H732.7z" fill="#a7a9ac"/>
<path d="M452.7 1059.7H767M465.7 973.4V1146.1" stroke="#231f20" stroke-width="1.25" fill="none" stroke-dasharray="7 5" stroke-opacity="0.85"/>
<path d="M453 946.55V1146.1H757" stroke="#231f20" stroke-width="1.75" fill="none"/>
<path d="M453 934.55l-4.1 15.8h8.2z"/>
<path d="M767 1146.1l-16 -4.2v8.4z"/>
<path d="M453 973.1 L453.5 980.31 L454 986.94 L454.5 993.07 L455 998.74 L455.5 1004 L456 1008.91 L456.5 1013.48 L457 1017.76 L457.5 1021.78 L458 1025.55 L458.5 1029.1 L459 1032.44 L459.5 1035.6 L460 1038.59 L460.5 1041.43 L461 1044.11 L461.5 1046.67 L462 1049.09 L462.5 1051.41 L463 1053.61 L463.5 1055.72 L464 1057.73 L464.5 1059.65 L465 1061.5 L465.5 1063.26 L466 1064.96 L466.5 1066.58 L467 1068.15 L467.5 1069.65 L468 1071.1 L468.5 1072.49 L469 1073.83 L469.5 1075.13 L470 1076.37 L470.5 1077.58 L471 1078.75 L471.5 1079.87 L472 1080.96 L472.5 1082.02 L473 1083.04 L473.5 1084.03 L474 1084.98 L474.5 1085.91 L475 1086.82 L475.5 1087.69 L476 1088.54 L476.5 1089.37 L477 1090.17 L477.5 1090.95 L478 1091.71 L478.5 1092.45 L479 1093.17 L479.5 1093.87 L480 1094.55 L480.5 1095.22 L481 1095.87 L481.5 1096.5 L482 1097.12 L482.5 1097.72 L483 1098.3 L483.5 1098.88 L484 1099.44 L484.5 1099.98 L485 1100.52 L485.5 1101.04 L486 1101.55 L486.5 1102.05 L487 1102.54 L487.5 1103.01 L488 1103.48 L488.5 1103.94 L489 1104.39 L489.5 1104.83 L490 1105.26 L490.5 1105.68 L491 1106.09 L491.5 1106.49 L492 1106.89 L492.5 1107.28 L493 1107.66 L493.5 1108.03 L494 1108.4 L494.5 1108.76 L495 1109.11 L495.5 1109.46 L496 1109.8 L496.5 1110.14 L497 1110.46 L497.5 1110.79 L498 1111.1 L498.5 1111.41 L499 1111.72 L499.5 1112.02 L500 1112.32 L500.5 1112.61 L501 1112.89 L501.5 1113.17 L502 1113.45 L502.5 1113.72 L503 1113.99 L503.5 1114.25 L504 1114.51 L504.5 1114.77 L505 1115.02 L505.5 1115.26 L506 1115.51 L506.5 1115.75 L507 1115.98 L507.5 1116.22 L508 1116.45 L508.5 1116.67 L509 1116.89 L509.5 1117.11 L510 1117.33 L510.5 1117.54 L511 1117.75 L511.5 1117.96 L512 1118.16 L512.5 1118.36 L513 1118.56 L513.5 1118.76 L514 1118.95 L514.5 1119.14 L515 1119.33 L515.5 1119.51 L516 1119.7 L516.5 1119.88 L517 1120.05 L517.5 1120.23 L518 1120.4 L518.5 1120.58 L519 1120.74 L519.5 1120.91 L520 1121.08 L520.5 1121.24 L521 1121.4 L521.5 1121.56 L522 1121.72 L522.5 1121.87 L523 1122.02 L523.5 1122.17 L524 1122.32 L524.5 1122.47 L525 1122.62 L525.5 1122.76 L526 1122.9 L526.5 1123.05 L527 1123.18 L527.5 1123.32 L528 1123.46 L528.5 1123.59 L529 1123.73 L529.5 1123.86 L530 1123.99 L530.5 1124.12 L531 1124.24 L531.5 1124.37 L532 1124.49 L532.5 1124.62 L533 1124.74 L533.5 1124.86 L534 1124.98 L534.5 1125.1 L535 1125.21 L535.5 1125.33 L536 1125.44 L536.5 1125.56 L537 1125.67 L537.5 1125.78 L538 1125.89 L538.5 1126 L539 1126.11 L539.5 1126.21 L540 1126.32 L540.5 1126.42 L541 1126.53 L541.5 1126.63 L542 1126.73 L542.5 1126.83 L543 1126.93 L543.5 1127.03 L544 1127.12 L544.5 1127.22 L545 1127.32 L545.5 1127.41 L546 1127.51 L546.5 1127.6 L547 1127.69 L547.5 1127.78 L548 1127.87 L548.5 1127.96 L549 1128.05 L549.5 1128.14 L550 1128.23 L550.5 1128.31 L551 1128.4 L551.5 1128.48 L552 1128.57 L552.5 1128.65 L553 1128.73 L553.5 1128.82 L554 1128.9 L554.5 1128.98 L555 1129.06 L555.5 1129.14 L556 1129.22 L556.5 1129.29 L557 1129.37 L557.5 1129.45 L558 1129.52 L558.5 1129.6 L559 1129.67 L559.5 1129.75 L560 1129.82 L560.5 1129.9 L561 1129.97 L561.5 1130.04 L562 1130.11 L562.5 1130.18 L563 1130.25 L563.5 1130.32 L564 1130.39 L564.5 1130.46 L565 1130.53 L565.5 1130.59 L566 1130.66 L566.5 1130.73 L567 1130.79 L567.5 1130.86 L568 1130.92 L568.5 1130.99 L569 1131.05 L569.5 1131.11 L570 1131.18 L570.5 1131.24 L571 1131.3 L571.5 1131.36 L572 1131.42 L572.5 1131.48 L573 1131.54 L573.5 1131.6 L574 1131.66 L574.5 1131.72 L575 1131.78 L575.5 1131.84 L576 1131.9 L576.5 1131.95 L577 1132.01 L577.5 1132.07 L578 1132.12 L578.5 1132.18 L579 1132.23 L579.5 1132.29 L580 1132.34 L580.5 1132.4 L581 1132.45 L581.5 1132.5 L582 1132.56 L582.5 1132.61 L583 1132.66 L583.5 1132.71 L584 1132.76 L584.5 1132.82 L585 1132.87 L585.5 1132.92 L586 1132.97 L586.5 1133.02 L587 1133.07 L587.5 1133.12 L588 1133.16 L588.5 1133.21 L589 1133.26 L589.5 1133.31 L590 1133.36 L590.5 1133.4 L591 1133.45 L591.5 1133.5 L592 1133.54 L592.5 1133.59 L593 1133.64 L593.5 1133.68 L594 1133.73 L594.5 1133.77 L595 1133.82 L595.5 1133.86 L596 1133.91 L596.5 1133.95 L597 1133.99 L597.5 1134.04 L598 1134.08 L598.5 1134.12 L599 1134.17 L599.5 1134.21 L600 1134.25 L600.5 1134.29 L601 1134.33 L601.5 1134.38 L602 1134.42 L602.5 1134.46 L603 1134.5 L603.5 1134.54 L604 1134.58 L604.5 1134.62 L605 1134.66 L605.5 1134.7 L606 1134.74 L606.5 1134.78 L607 1134.81 L607.5 1134.85 L608 1134.89 L608.5 1134.93 L609 1134.97 L609.5 1135.01 L610 1135.04 L610.5 1135.08 L611 1135.12 L611.5 1135.15 L612 1135.19 L612.5 1135.23 L613 1135.26 L613.5 1135.3 L614 1135.34 L614.5 1135.37 L615 1135.41 L615.5 1135.44 L616 1135.48 L616.5 1135.51 L617 1135.55 L617.5 1135.58 L618 1135.62 L618.5 1135.65 L619 1135.68 L619.5 1135.72 L620 1135.75 L620.5 1135.79 L621 1135.82 L621.5 1135.85 L622 1135.89 L622.5 1135.92 L623 1135.95 L623.5 1135.98 L624 1136.02 L624.5 1136.05 L625 1136.08 L625.5 1136.11 L626 1136.14 L626.5 1136.17 L627 1136.21 L627.5 1136.24 L628 1136.27 L628.5 1136.3 L629 1136.33 L629.5 1136.36 L630 1136.39 L630.5 1136.42 L631 1136.45 L631.5 1136.48 L632 1136.51 L632.5 1136.54 L633 1136.57 L633.5 1136.6 L634 1136.63 L634.5 1136.66 L635 1136.69 L635.5 1136.72 L636 1136.75 L636.5 1136.77 L637 1136.8 L637.5 1136.83 L638 1136.86 L638.5 1136.89 L639 1136.92 L639.5 1136.94 L640 1136.97 L640.5 1137 L641 1137.03 L641.5 1137.05 L642 1137.08 L642.5 1137.11 L643 1137.13 L643.5 1137.16 L644 1137.19 L644.5 1137.21 L645 1137.24 L645.5 1137.27 L646 1137.29 L646.5 1137.32 L647 1137.35 L647.5 1137.37 L648 1137.4 L648.5 1137.42 L649 1137.45 L649.5 1137.47 L650 1137.5 L650.5 1137.52 L651 1137.55 L651.5 1137.57 L652 1137.6 L652.5 1137.62 L653 1137.65 L653.5 1137.67 L654 1137.7 L654.5 1137.72 L655 1137.75 L655.5 1137.77 L656 1137.79 L656.5 1137.82 L657 1137.84 L657.5 1137.87 L658 1137.89 L658.5 1137.91 L659 1137.94 L659.5 1137.96 L660 1137.98 L660.5 1138.01 L661 1138.03 L661.5 1138.05 L662 1138.08 L662.5 1138.1 L663 1138.12 L663.5 1138.14 L664 1138.17 L664.5 1138.19 L665 1138.21 L665.5 1138.23 L666 1138.26 L666.5 1138.28 L667 1138.3 L667.5 1138.32 L668 1138.34 L668.5 1138.37 L669 1138.39 L669.5 1138.41 L670 1138.43 L670.5 1138.45 L671 1138.47 L671.5 1138.49 L672 1138.51 L672.5 1138.54 L673 1138.56 L673.5 1138.58 L674 1138.6 L674.5 1138.62 L675 1138.64 L675.5 1138.66 L676 1138.68 L676.5 1138.7 L677 1138.72 L677.5 1138.74 L678 1138.76 L678.5 1138.78 L679 1138.8 L679.5 1138.82 L680 1138.84 L680.5 1138.86 L681 1138.88 L681.5 1138.9 L682 1138.92 L682.5 1138.94 L683 1138.96 L683.5 1138.98 L684 1139 L684.5 1139.02 L685 1139.04 L685.5 1139.06 L686 1139.08 L686.5 1139.1 L687 1139.11 L687.5 1139.13 L688 1139.15 L688.5 1139.17 L689 1139.19 L689.5 1139.21 L690 1139.23 L690.5 1139.24 L691 1139.26 L691.5 1139.28 L692 1139.3 L692.5 1139.32 L693 1139.34 L693.5 1139.35 L694 1139.37 L694.5 1139.39 L695 1139.41 L695.5 1139.43 L696 1139.44 L696.5 1139.46 L697 1139.48 L697.5 1139.5 L698 1139.51 L698.5 1139.53 L699 1139.55 L699.5 1139.57 L700 1139.58 L700.5 1139.6 L701 1139.62 L701.5 1139.64 L702 1139.65 L702.5 1139.67 L703 1139.69 L703.5 1139.7 L704 1139.72 L704.5 1140.83 L705 1140.85 L705.5 1140.88 L706 1140.9 L706.5 1140.93 L707 1140.96 L707.5 1140.98 L708 1141.01 L708.5 1141.04 L709 1141.06 L709.5 1141.09 L710 1141.11 L710.5 1141.14 L711 1141.17 L711.5 1141.19 L712 1141.22 L712.5 1141.25 L713 1141.27 L713.5 1141.3 L714 1141.32 L714.5 1141.35 L715 1141.38 L715.5 1141.4 L716 1141.43 L716.5 1141.45 L717 1141.48 L717.5 1141.51 L718 1141.53 L718.5 1141.56 L719 1141.59 L719.5 1141.61 L720 1141.64 L720.5 1141.66 L721 1141.69 L721.5 1141.72 L722 1141.74 L722.5 1141.77 L723 1141.8 L723.5 1141.82 L724 1141.85 L724.5 1141.87 L725 1141.9 L725.5 1141.93 L726 1141.95 L726.5 1141.98 L727 1142 L727.5 1142.03 L728 1142.06 L728.5 1142.08 L729 1142.11 L729.5 1142.14 L730 1142.16 L730.5 1142.19 L731 1142.21 L731.5 1142.24 L732 1142.27 L732.5 1142.29 L733 1142.32 L733.5 1142.35 L734 1142.37 L734.5 1142.4 L735 1142.42 L735.5 1142.45 L736 1142.48 L736.5 1142.5 L737 1142.53 L737.5 1142.55 L738 1142.58 L738.5 1142.61 L739 1142.63 L739.5 1142.66 L740 1142.69 L740.5 1142.71 L741 1142.74 L741.5 1142.76 L742 1142.79 L742.5 1142.82 L743 1142.84 L743.5 1142.87 L744 1142.9 L744.5 1142.92 L745 1142.95 L745.5 1142.97 L746 1143 L746.5 1143.03 L747 1143.05 L747.5 1143.08 L748 1143.1 L748.5 1143.13 L749 1143.16 L749.5 1143.18 L750 1143.21 L750.5 1143.24 L751 1143.26 L751.5 1143.29 L752 1143.31 L752.5 1143.34 L753 1143.37 L753.5 1143.39 L754 1143.42 L754.5 1143.45 L755 1143.47 L755.5 1143.5 L756 1143.52 L756.5 1143.55 L757 1143.58 L757.5 1143.6 L758 1143.63 L758.5 1143.65 L759 1143.68 L759.5 1143.71 L760 1143.73 L760.5 1143.76 L761 1143.79 L761.5 1143.81 L762 1143.84 L762.5 1143.86 L763 1143.89 L763.5 1143.92 L764 1143.94 L764.5 1143.97 L765 1144 L765.5 1144.02 L766 1144.05 L766.5 1144.07 L767 1144.1 L767.5 1144.13" stroke="#7a3f00" stroke-width="2.4" fill="none" stroke-linecap="round"/>
<path d="M692.5 1151.5L700.9 1135.7L706.2 1135.7L697.8 1151.5z" fill="#f0e3d7"/>
<path d="M692.5 1151.5L700.9 1135.7M697.8 1151.5L706.2 1135.7" stroke="#231f20" stroke-width="1.1"/>
<text x="416.8" y="923.35" font-size="20" text-anchor="start" ><tspan font-style="italic" font-size="22">N</tspan><tspan dx="1.1" font-size="14" dy="3.4">A</tspan></text>
<text x="444.3" y="980.5" font-size="23" text-anchor="end" letter-spacing="-0.5">1.0</text>
<text x="444.3" y="1067.1" font-size="23" text-anchor="end" letter-spacing="-0.5">0.5</text>
<text x="444.3" y="1152.7" font-size="23" text-anchor="end" letter-spacing="-0.5">0</text>
<text x="768.4" y="1170.1" font-size="21.5" text-anchor="end" ><tspan font-style="italic">I</tspan> (arb. u.)</text>
<text transform="translate(640.8 1108.3) scale(1 1.2)" font-size="17.7" word-spacing="0.7"><tspan font-style="italic">I</tspan><tspan font-size="12.8" dy="1.7">max</tspan><tspan dy="-1.7">&#8203;</tspan> = <tspan letter-spacing="0.4">40</tspan><tspan font-style="italic">I</tspan><tspan font-size="12.8" dy="1.7">s</tspan><tspan dy="-1.7">&#8203;</tspan></text>
</g>
</svg>
</body></html>
